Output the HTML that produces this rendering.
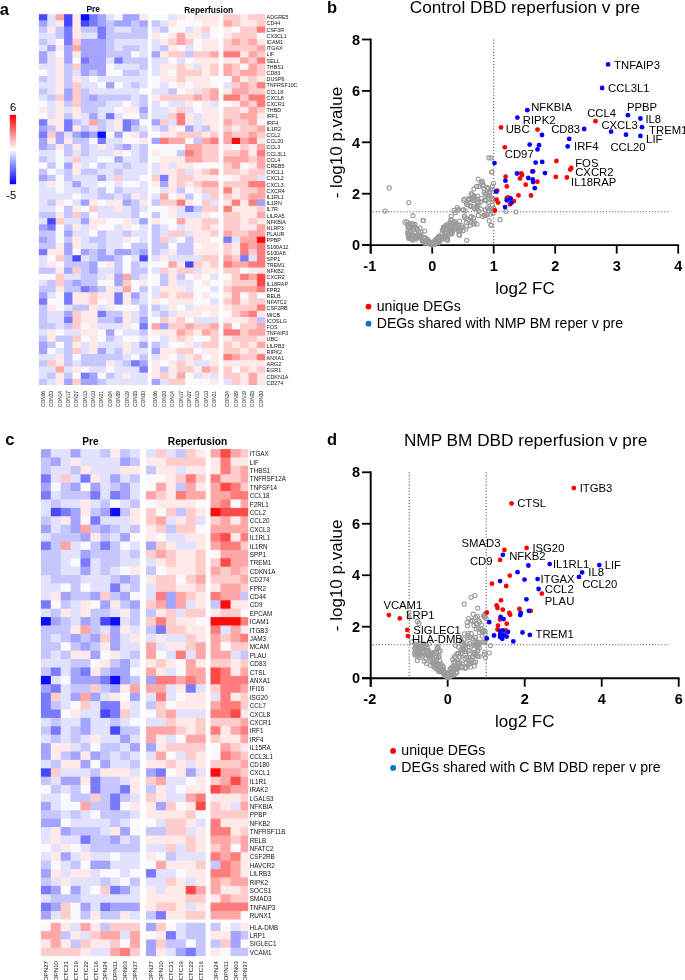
<!DOCTYPE html>
<html><head><meta charset="utf-8"><title>Figure</title>
<style>html,body{margin:0;padding:0;background:#fff;}svg{display:block;}text{font-family:"Liberation Sans",sans-serif;}</style>
</head><body>
<svg width="685" height="980" viewBox="0 0 685 980" style="will-change:transform">
<rect width="685" height="980" fill="#fff"/>
<rect x="38.90" y="14.20" width="8.98" height="6.78" fill="#4848ff"/>
<rect x="47.28" y="14.20" width="8.98" height="6.78" fill="#e2e2ff"/>
<rect x="55.66" y="14.20" width="8.98" height="6.78" fill="#ffa6a6"/>
<rect x="64.04" y="14.20" width="8.98" height="6.78" fill="#4848ff"/>
<rect x="72.42" y="14.20" width="8.98" height="6.78" fill="#ffe9e9"/>
<rect x="80.80" y="14.20" width="8.98" height="6.78" fill="#0c0cff"/>
<rect x="89.18" y="14.20" width="8.98" height="6.78" fill="#7a7aff"/>
<rect x="97.56" y="14.20" width="8.98" height="6.78" fill="#a4a4ff"/>
<rect x="105.94" y="14.20" width="8.98" height="6.78" fill="#e2e2ff"/>
<rect x="114.32" y="14.20" width="8.98" height="6.78" fill="#faf9fd"/>
<rect x="122.70" y="14.20" width="8.98" height="6.78" fill="#a4a4ff"/>
<rect x="131.08" y="14.20" width="8.98" height="6.78" fill="#a4a4ff"/>
<rect x="139.46" y="14.20" width="8.38" height="6.78" fill="#ffe9e9"/>
<rect x="38.90" y="20.38" width="8.98" height="6.78" fill="#a4a4ff"/>
<rect x="47.28" y="20.38" width="8.98" height="6.78" fill="#e2e2ff"/>
<rect x="55.66" y="20.38" width="8.98" height="6.78" fill="#ffe9e9"/>
<rect x="64.04" y="20.38" width="8.98" height="6.78" fill="#4848ff"/>
<rect x="72.42" y="20.38" width="8.98" height="6.78" fill="#ffe9e9"/>
<rect x="80.80" y="20.38" width="8.98" height="6.78" fill="#4848ff"/>
<rect x="89.18" y="20.38" width="8.98" height="6.78" fill="#7a7aff"/>
<rect x="97.56" y="20.38" width="8.98" height="6.78" fill="#a4a4ff"/>
<rect x="105.94" y="20.38" width="8.98" height="6.78" fill="#c6c6ff"/>
<rect x="114.32" y="20.38" width="8.98" height="6.78" fill="#a4a4ff"/>
<rect x="122.70" y="20.38" width="8.98" height="6.78" fill="#a4a4ff"/>
<rect x="131.08" y="20.38" width="8.98" height="6.78" fill="#c6c6ff"/>
<rect x="139.46" y="20.38" width="8.38" height="6.78" fill="#a4a4ff"/>
<rect x="38.90" y="26.56" width="8.98" height="6.78" fill="#c6c6ff"/>
<rect x="47.28" y="26.56" width="8.98" height="6.78" fill="#ffe9e9"/>
<rect x="55.66" y="26.56" width="8.98" height="6.78" fill="#c6c6ff"/>
<rect x="64.04" y="26.56" width="8.98" height="6.78" fill="#7a7aff"/>
<rect x="72.42" y="26.56" width="8.98" height="6.78" fill="#ffe9e9"/>
<rect x="80.80" y="26.56" width="8.98" height="6.78" fill="#c6c6ff"/>
<rect x="89.18" y="26.56" width="8.98" height="6.78" fill="#c6c6ff"/>
<rect x="97.56" y="26.56" width="8.98" height="6.78" fill="#7a7aff"/>
<rect x="105.94" y="26.56" width="8.98" height="6.78" fill="#c6c6ff"/>
<rect x="114.32" y="26.56" width="8.98" height="6.78" fill="#e2e2ff"/>
<rect x="122.70" y="26.56" width="8.98" height="6.78" fill="#e2e2ff"/>
<rect x="131.08" y="26.56" width="8.98" height="6.78" fill="#c6c6ff"/>
<rect x="139.46" y="26.56" width="8.38" height="6.78" fill="#c6c6ff"/>
<rect x="38.90" y="32.74" width="8.98" height="6.78" fill="#e2e2ff"/>
<rect x="47.28" y="32.74" width="8.98" height="6.78" fill="#e2e2ff"/>
<rect x="55.66" y="32.74" width="8.98" height="6.78" fill="#c6c6ff"/>
<rect x="64.04" y="32.74" width="8.98" height="6.78" fill="#7a7aff"/>
<rect x="72.42" y="32.74" width="8.98" height="6.78" fill="#ffe9e9"/>
<rect x="80.80" y="32.74" width="8.98" height="6.78" fill="#e2e2ff"/>
<rect x="89.18" y="32.74" width="8.98" height="6.78" fill="#e2e2ff"/>
<rect x="97.56" y="32.74" width="8.98" height="6.78" fill="#7a7aff"/>
<rect x="105.94" y="32.74" width="8.98" height="6.78" fill="#c6c6ff"/>
<rect x="114.32" y="32.74" width="8.98" height="6.78" fill="#c6c6ff"/>
<rect x="122.70" y="32.74" width="8.98" height="6.78" fill="#c6c6ff"/>
<rect x="131.08" y="32.74" width="8.98" height="6.78" fill="#c6c6ff"/>
<rect x="139.46" y="32.74" width="8.38" height="6.78" fill="#c6c6ff"/>
<rect x="38.90" y="38.92" width="8.98" height="6.78" fill="#c6c6ff"/>
<rect x="47.28" y="38.92" width="8.98" height="6.78" fill="#e2e2ff"/>
<rect x="55.66" y="38.92" width="8.98" height="6.78" fill="#faf9fd"/>
<rect x="64.04" y="38.92" width="8.98" height="6.78" fill="#7a7aff"/>
<rect x="72.42" y="38.92" width="8.98" height="6.78" fill="#ffcccc"/>
<rect x="80.80" y="38.92" width="8.98" height="6.78" fill="#a4a4ff"/>
<rect x="89.18" y="38.92" width="8.98" height="6.78" fill="#a4a4ff"/>
<rect x="97.56" y="38.92" width="8.98" height="6.78" fill="#a4a4ff"/>
<rect x="105.94" y="38.92" width="8.98" height="6.78" fill="#c6c6ff"/>
<rect x="114.32" y="38.92" width="8.98" height="6.78" fill="#e2e2ff"/>
<rect x="122.70" y="38.92" width="8.98" height="6.78" fill="#e2e2ff"/>
<rect x="131.08" y="38.92" width="8.98" height="6.78" fill="#e2e2ff"/>
<rect x="139.46" y="38.92" width="8.38" height="6.78" fill="#e2e2ff"/>
<rect x="38.90" y="45.10" width="8.98" height="6.78" fill="#e2e2ff"/>
<rect x="47.28" y="45.10" width="8.98" height="6.78" fill="#a4a4ff"/>
<rect x="55.66" y="45.10" width="8.98" height="6.78" fill="#ffe9e9"/>
<rect x="64.04" y="45.10" width="8.98" height="6.78" fill="#a4a4ff"/>
<rect x="72.42" y="45.10" width="8.98" height="6.78" fill="#ffa6a6"/>
<rect x="80.80" y="45.10" width="8.98" height="6.78" fill="#a4a4ff"/>
<rect x="89.18" y="45.10" width="8.98" height="6.78" fill="#a4a4ff"/>
<rect x="97.56" y="45.10" width="8.98" height="6.78" fill="#a4a4ff"/>
<rect x="105.94" y="45.10" width="8.98" height="6.78" fill="#c6c6ff"/>
<rect x="114.32" y="45.10" width="8.98" height="6.78" fill="#e2e2ff"/>
<rect x="122.70" y="45.10" width="8.98" height="6.78" fill="#c6c6ff"/>
<rect x="131.08" y="45.10" width="8.98" height="6.78" fill="#c6c6ff"/>
<rect x="139.46" y="45.10" width="8.38" height="6.78" fill="#e2e2ff"/>
<rect x="38.90" y="51.28" width="8.98" height="6.78" fill="#a4a4ff"/>
<rect x="47.28" y="51.28" width="8.98" height="6.78" fill="#e2e2ff"/>
<rect x="55.66" y="51.28" width="8.98" height="6.78" fill="#faf9fd"/>
<rect x="64.04" y="51.28" width="8.98" height="6.78" fill="#a4a4ff"/>
<rect x="72.42" y="51.28" width="8.98" height="6.78" fill="#ffe9e9"/>
<rect x="80.80" y="51.28" width="8.98" height="6.78" fill="#a4a4ff"/>
<rect x="89.18" y="51.28" width="8.98" height="6.78" fill="#a4a4ff"/>
<rect x="97.56" y="51.28" width="8.98" height="6.78" fill="#a4a4ff"/>
<rect x="105.94" y="51.28" width="8.98" height="6.78" fill="#c6c6ff"/>
<rect x="114.32" y="51.28" width="8.98" height="6.78" fill="#c6c6ff"/>
<rect x="122.70" y="51.28" width="8.98" height="6.78" fill="#c6c6ff"/>
<rect x="131.08" y="51.28" width="8.98" height="6.78" fill="#faf9fd"/>
<rect x="139.46" y="51.28" width="8.38" height="6.78" fill="#e2e2ff"/>
<rect x="38.90" y="57.46" width="8.98" height="6.78" fill="#a4a4ff"/>
<rect x="47.28" y="57.46" width="8.98" height="6.78" fill="#e2e2ff"/>
<rect x="55.66" y="57.46" width="8.98" height="6.78" fill="#ffe9e9"/>
<rect x="64.04" y="57.46" width="8.98" height="6.78" fill="#a4a4ff"/>
<rect x="72.42" y="57.46" width="8.98" height="6.78" fill="#faf9fd"/>
<rect x="80.80" y="57.46" width="8.98" height="6.78" fill="#7a7aff"/>
<rect x="89.18" y="57.46" width="8.98" height="6.78" fill="#a4a4ff"/>
<rect x="97.56" y="57.46" width="8.98" height="6.78" fill="#a4a4ff"/>
<rect x="105.94" y="57.46" width="8.98" height="6.78" fill="#e2e2ff"/>
<rect x="114.32" y="57.46" width="8.98" height="6.78" fill="#7a7aff"/>
<rect x="122.70" y="57.46" width="8.98" height="6.78" fill="#c6c6ff"/>
<rect x="131.08" y="57.46" width="8.98" height="6.78" fill="#c6c6ff"/>
<rect x="139.46" y="57.46" width="8.38" height="6.78" fill="#c6c6ff"/>
<rect x="38.90" y="63.64" width="8.98" height="6.78" fill="#e2e2ff"/>
<rect x="47.28" y="63.64" width="8.98" height="6.78" fill="#e2e2ff"/>
<rect x="55.66" y="63.64" width="8.98" height="6.78" fill="#ffe9e9"/>
<rect x="64.04" y="63.64" width="8.98" height="6.78" fill="#c6c6ff"/>
<rect x="72.42" y="63.64" width="8.98" height="6.78" fill="#ffcccc"/>
<rect x="80.80" y="63.64" width="8.98" height="6.78" fill="#a4a4ff"/>
<rect x="89.18" y="63.64" width="8.98" height="6.78" fill="#a4a4ff"/>
<rect x="97.56" y="63.64" width="8.98" height="6.78" fill="#a4a4ff"/>
<rect x="105.94" y="63.64" width="8.98" height="6.78" fill="#faf9fd"/>
<rect x="114.32" y="63.64" width="8.98" height="6.78" fill="#e2e2ff"/>
<rect x="122.70" y="63.64" width="8.98" height="6.78" fill="#e2e2ff"/>
<rect x="131.08" y="63.64" width="8.98" height="6.78" fill="#e2e2ff"/>
<rect x="139.46" y="63.64" width="8.38" height="6.78" fill="#c6c6ff"/>
<rect x="38.90" y="69.82" width="8.98" height="6.78" fill="#faf9fd"/>
<rect x="47.28" y="69.82" width="8.98" height="6.78" fill="#e2e2ff"/>
<rect x="55.66" y="69.82" width="8.98" height="6.78" fill="#ffe9e9"/>
<rect x="64.04" y="69.82" width="8.98" height="6.78" fill="#c6c6ff"/>
<rect x="72.42" y="69.82" width="8.98" height="6.78" fill="#e2e2ff"/>
<rect x="80.80" y="69.82" width="8.98" height="6.78" fill="#a4a4ff"/>
<rect x="89.18" y="69.82" width="8.98" height="6.78" fill="#c6c6ff"/>
<rect x="97.56" y="69.82" width="8.98" height="6.78" fill="#a4a4ff"/>
<rect x="105.94" y="69.82" width="8.98" height="6.78" fill="#faf9fd"/>
<rect x="114.32" y="69.82" width="8.98" height="6.78" fill="#faf9fd"/>
<rect x="122.70" y="69.82" width="8.98" height="6.78" fill="#c6c6ff"/>
<rect x="131.08" y="69.82" width="8.98" height="6.78" fill="#c6c6ff"/>
<rect x="139.46" y="69.82" width="8.38" height="6.78" fill="#e2e2ff"/>
<rect x="38.90" y="76" width="8.98" height="6.78" fill="#c6c6ff"/>
<rect x="47.28" y="76" width="8.98" height="6.78" fill="#e2e2ff"/>
<rect x="55.66" y="76" width="8.98" height="6.78" fill="#ffe9e9"/>
<rect x="64.04" y="76" width="8.98" height="6.78" fill="#c6c6ff"/>
<rect x="72.42" y="76" width="8.98" height="6.78" fill="#ffe9e9"/>
<rect x="80.80" y="76" width="8.98" height="6.78" fill="#e2e2ff"/>
<rect x="89.18" y="76" width="8.98" height="6.78" fill="#faf9fd"/>
<rect x="97.56" y="76" width="8.98" height="6.78" fill="#e2e2ff"/>
<rect x="105.94" y="76" width="8.98" height="6.78" fill="#e2e2ff"/>
<rect x="114.32" y="76" width="8.98" height="6.78" fill="#e2e2ff"/>
<rect x="122.70" y="76" width="8.98" height="6.78" fill="#e2e2ff"/>
<rect x="131.08" y="76" width="8.98" height="6.78" fill="#e2e2ff"/>
<rect x="139.46" y="76" width="8.38" height="6.78" fill="#e2e2ff"/>
<rect x="38.90" y="82.18" width="8.98" height="6.78" fill="#e2e2ff"/>
<rect x="47.28" y="82.18" width="8.98" height="6.78" fill="#e2e2ff"/>
<rect x="55.66" y="82.18" width="8.98" height="6.78" fill="#ffe9e9"/>
<rect x="64.04" y="82.18" width="8.98" height="6.78" fill="#c6c6ff"/>
<rect x="72.42" y="82.18" width="8.98" height="6.78" fill="#ffcccc"/>
<rect x="80.80" y="82.18" width="8.98" height="6.78" fill="#e2e2ff"/>
<rect x="89.18" y="82.18" width="8.98" height="6.78" fill="#e2e2ff"/>
<rect x="97.56" y="82.18" width="8.98" height="6.78" fill="#faf9fd"/>
<rect x="105.94" y="82.18" width="8.98" height="6.78" fill="#a4a4ff"/>
<rect x="114.32" y="82.18" width="8.98" height="6.78" fill="#faf9fd"/>
<rect x="122.70" y="82.18" width="8.98" height="6.78" fill="#e2e2ff"/>
<rect x="131.08" y="82.18" width="8.98" height="6.78" fill="#c6c6ff"/>
<rect x="139.46" y="82.18" width="8.38" height="6.78" fill="#e2e2ff"/>
<rect x="38.90" y="88.36" width="8.98" height="6.78" fill="#c6c6ff"/>
<rect x="47.28" y="88.36" width="8.98" height="6.78" fill="#e2e2ff"/>
<rect x="55.66" y="88.36" width="8.98" height="6.78" fill="#ffe9e9"/>
<rect x="64.04" y="88.36" width="8.98" height="6.78" fill="#a4a4ff"/>
<rect x="72.42" y="88.36" width="8.98" height="6.78" fill="#ffcccc"/>
<rect x="80.80" y="88.36" width="8.98" height="6.78" fill="#c6c6ff"/>
<rect x="89.18" y="88.36" width="8.98" height="6.78" fill="#e2e2ff"/>
<rect x="97.56" y="88.36" width="8.98" height="6.78" fill="#e2e2ff"/>
<rect x="105.94" y="88.36" width="8.98" height="6.78" fill="#e2e2ff"/>
<rect x="114.32" y="88.36" width="8.98" height="6.78" fill="#e2e2ff"/>
<rect x="122.70" y="88.36" width="8.98" height="6.78" fill="#e2e2ff"/>
<rect x="131.08" y="88.36" width="8.98" height="6.78" fill="#e2e2ff"/>
<rect x="139.46" y="88.36" width="8.38" height="6.78" fill="#faf9fd"/>
<rect x="38.90" y="94.54" width="8.98" height="6.78" fill="#e2e2ff"/>
<rect x="47.28" y="94.54" width="8.98" height="6.78" fill="#c6c6ff"/>
<rect x="55.66" y="94.54" width="8.98" height="6.78" fill="#ffcccc"/>
<rect x="64.04" y="94.54" width="8.98" height="6.78" fill="#a4a4ff"/>
<rect x="72.42" y="94.54" width="8.98" height="6.78" fill="#ffcccc"/>
<rect x="80.80" y="94.54" width="8.98" height="6.78" fill="#c6c6ff"/>
<rect x="89.18" y="94.54" width="8.98" height="6.78" fill="#a4a4ff"/>
<rect x="97.56" y="94.54" width="8.98" height="6.78" fill="#c6c6ff"/>
<rect x="105.94" y="94.54" width="8.98" height="6.78" fill="#c6c6ff"/>
<rect x="114.32" y="94.54" width="8.98" height="6.78" fill="#c6c6ff"/>
<rect x="122.70" y="94.54" width="8.98" height="6.78" fill="#c6c6ff"/>
<rect x="131.08" y="94.54" width="8.98" height="6.78" fill="#e2e2ff"/>
<rect x="139.46" y="94.54" width="8.38" height="6.78" fill="#c6c6ff"/>
<rect x="38.90" y="100.72" width="8.98" height="6.78" fill="#faf9fd"/>
<rect x="47.28" y="100.72" width="8.98" height="6.78" fill="#e2e2ff"/>
<rect x="55.66" y="100.72" width="8.98" height="6.78" fill="#ffe9e9"/>
<rect x="64.04" y="100.72" width="8.98" height="6.78" fill="#c6c6ff"/>
<rect x="72.42" y="100.72" width="8.98" height="6.78" fill="#ffcccc"/>
<rect x="80.80" y="100.72" width="8.98" height="6.78" fill="#c6c6ff"/>
<rect x="89.18" y="100.72" width="8.98" height="6.78" fill="#c6c6ff"/>
<rect x="97.56" y="100.72" width="8.98" height="6.78" fill="#c6c6ff"/>
<rect x="105.94" y="100.72" width="8.98" height="6.78" fill="#e2e2ff"/>
<rect x="114.32" y="100.72" width="8.98" height="6.78" fill="#e2e2ff"/>
<rect x="122.70" y="100.72" width="8.98" height="6.78" fill="#faf9fd"/>
<rect x="131.08" y="100.72" width="8.98" height="6.78" fill="#e2e2ff"/>
<rect x="139.46" y="100.72" width="8.38" height="6.78" fill="#c6c6ff"/>
<rect x="38.90" y="106.90" width="8.98" height="6.78" fill="#ffe9e9"/>
<rect x="47.28" y="106.90" width="8.98" height="6.78" fill="#e2e2ff"/>
<rect x="55.66" y="106.90" width="8.98" height="6.78" fill="#ffe9e9"/>
<rect x="64.04" y="106.90" width="8.98" height="6.78" fill="#e2e2ff"/>
<rect x="72.42" y="106.90" width="8.98" height="6.78" fill="#ffe9e9"/>
<rect x="80.80" y="106.90" width="8.98" height="6.78" fill="#c6c6ff"/>
<rect x="89.18" y="106.90" width="8.98" height="6.78" fill="#c6c6ff"/>
<rect x="97.56" y="106.90" width="8.98" height="6.78" fill="#e2e2ff"/>
<rect x="105.94" y="106.90" width="8.98" height="6.78" fill="#e2e2ff"/>
<rect x="114.32" y="106.90" width="8.98" height="6.78" fill="#faf9fd"/>
<rect x="122.70" y="106.90" width="8.98" height="6.78" fill="#ffe9e9"/>
<rect x="131.08" y="106.90" width="8.98" height="6.78" fill="#ffe9e9"/>
<rect x="139.46" y="106.90" width="8.38" height="6.78" fill="#a4a4ff"/>
<rect x="38.90" y="113.08" width="8.98" height="6.78" fill="#faf9fd"/>
<rect x="47.28" y="113.08" width="8.98" height="6.78" fill="#e2e2ff"/>
<rect x="55.66" y="113.08" width="8.98" height="6.78" fill="#ffe9e9"/>
<rect x="64.04" y="113.08" width="8.98" height="6.78" fill="#c6c6ff"/>
<rect x="72.42" y="113.08" width="8.98" height="6.78" fill="#ffe9e9"/>
<rect x="80.80" y="113.08" width="8.98" height="6.78" fill="#e2e2ff"/>
<rect x="89.18" y="113.08" width="8.98" height="6.78" fill="#a4a4ff"/>
<rect x="97.56" y="113.08" width="8.98" height="6.78" fill="#e2e2ff"/>
<rect x="105.94" y="113.08" width="8.98" height="6.78" fill="#7a7aff"/>
<rect x="114.32" y="113.08" width="8.98" height="6.78" fill="#e2e2ff"/>
<rect x="122.70" y="113.08" width="8.98" height="6.78" fill="#faf9fd"/>
<rect x="131.08" y="113.08" width="8.98" height="6.78" fill="#faf9fd"/>
<rect x="139.46" y="113.08" width="8.38" height="6.78" fill="#c6c6ff"/>
<rect x="38.90" y="119.26" width="8.98" height="6.78" fill="#7a7aff"/>
<rect x="47.28" y="119.26" width="8.98" height="6.78" fill="#ffe9e9"/>
<rect x="55.66" y="119.26" width="8.98" height="6.78" fill="#ffe9e9"/>
<rect x="64.04" y="119.26" width="8.98" height="6.78" fill="#7a7aff"/>
<rect x="72.42" y="119.26" width="8.98" height="6.78" fill="#c6c6ff"/>
<rect x="80.80" y="119.26" width="8.98" height="6.78" fill="#e2e2ff"/>
<rect x="89.18" y="119.26" width="8.98" height="6.78" fill="#ffa6a6"/>
<rect x="97.56" y="119.26" width="8.98" height="6.78" fill="#c6c6ff"/>
<rect x="105.94" y="119.26" width="8.98" height="6.78" fill="#e2e2ff"/>
<rect x="114.32" y="119.26" width="8.98" height="6.78" fill="#ffe9e9"/>
<rect x="122.70" y="119.26" width="8.98" height="6.78" fill="#7a7aff"/>
<rect x="131.08" y="119.26" width="8.98" height="6.78" fill="#a4a4ff"/>
<rect x="139.46" y="119.26" width="8.38" height="6.78" fill="#faf9fd"/>
<rect x="38.90" y="125.44" width="8.98" height="6.78" fill="#a4a4ff"/>
<rect x="47.28" y="125.44" width="8.98" height="6.78" fill="#c6c6ff"/>
<rect x="55.66" y="125.44" width="8.98" height="6.78" fill="#ffe9e9"/>
<rect x="64.04" y="125.44" width="8.98" height="6.78" fill="#7a7aff"/>
<rect x="72.42" y="125.44" width="8.98" height="6.78" fill="#ffe9e9"/>
<rect x="80.80" y="125.44" width="8.98" height="6.78" fill="#c6c6ff"/>
<rect x="89.18" y="125.44" width="8.98" height="6.78" fill="#e2e2ff"/>
<rect x="97.56" y="125.44" width="8.98" height="6.78" fill="#c6c6ff"/>
<rect x="105.94" y="125.44" width="8.98" height="6.78" fill="#e2e2ff"/>
<rect x="114.32" y="125.44" width="8.98" height="6.78" fill="#ffe9e9"/>
<rect x="122.70" y="125.44" width="8.98" height="6.78" fill="#7a7aff"/>
<rect x="131.08" y="125.44" width="8.98" height="6.78" fill="#c6c6ff"/>
<rect x="139.46" y="125.44" width="8.38" height="6.78" fill="#e2e2ff"/>
<rect x="38.90" y="131.62" width="8.98" height="6.78" fill="#7a7aff"/>
<rect x="47.28" y="131.62" width="8.98" height="6.78" fill="#ffcccc"/>
<rect x="55.66" y="131.62" width="8.98" height="6.78" fill="#a4a4ff"/>
<rect x="64.04" y="131.62" width="8.98" height="6.78" fill="#e2e2ff"/>
<rect x="72.42" y="131.62" width="8.98" height="6.78" fill="#a4a4ff"/>
<rect x="80.80" y="131.62" width="8.98" height="6.78" fill="#7a7aff"/>
<rect x="89.18" y="131.62" width="8.98" height="6.78" fill="#a4a4ff"/>
<rect x="97.56" y="131.62" width="8.98" height="6.78" fill="#0c0cff"/>
<rect x="105.94" y="131.62" width="8.98" height="6.78" fill="#faf9fd"/>
<rect x="114.32" y="131.62" width="8.98" height="6.78" fill="#a4a4ff"/>
<rect x="122.70" y="131.62" width="8.98" height="6.78" fill="#faf9fd"/>
<rect x="131.08" y="131.62" width="8.98" height="6.78" fill="#ffe9e9"/>
<rect x="139.46" y="131.62" width="8.38" height="6.78" fill="#c6c6ff"/>
<rect x="38.90" y="137.80" width="8.98" height="6.78" fill="#a4a4ff"/>
<rect x="47.28" y="137.80" width="8.98" height="6.78" fill="#ffe9e9"/>
<rect x="55.66" y="137.80" width="8.98" height="6.78" fill="#a4a4ff"/>
<rect x="64.04" y="137.80" width="8.98" height="6.78" fill="#ffe9e9"/>
<rect x="72.42" y="137.80" width="8.98" height="6.78" fill="#c6c6ff"/>
<rect x="80.80" y="137.80" width="8.98" height="6.78" fill="#c6c6ff"/>
<rect x="89.18" y="137.80" width="8.98" height="6.78" fill="#faf9fd"/>
<rect x="97.56" y="137.80" width="8.98" height="6.78" fill="#7a7aff"/>
<rect x="105.94" y="137.80" width="8.98" height="6.78" fill="#e2e2ff"/>
<rect x="114.32" y="137.80" width="8.98" height="6.78" fill="#e2e2ff"/>
<rect x="122.70" y="137.80" width="8.98" height="6.78" fill="#faf9fd"/>
<rect x="131.08" y="137.80" width="8.98" height="6.78" fill="#faf9fd"/>
<rect x="139.46" y="137.80" width="8.38" height="6.78" fill="#ffe9e9"/>
<rect x="38.90" y="143.98" width="8.98" height="6.78" fill="#a4a4ff"/>
<rect x="47.28" y="143.98" width="8.98" height="6.78" fill="#c6c6ff"/>
<rect x="55.66" y="143.98" width="8.98" height="6.78" fill="#ffe9e9"/>
<rect x="64.04" y="143.98" width="8.98" height="6.78" fill="#c6c6ff"/>
<rect x="72.42" y="143.98" width="8.98" height="6.78" fill="#ffe9e9"/>
<rect x="80.80" y="143.98" width="8.98" height="6.78" fill="#c6c6ff"/>
<rect x="89.18" y="143.98" width="8.98" height="6.78" fill="#e2e2ff"/>
<rect x="97.56" y="143.98" width="8.98" height="6.78" fill="#ffe9e9"/>
<rect x="105.94" y="143.98" width="8.98" height="6.78" fill="#e2e2ff"/>
<rect x="114.32" y="143.98" width="8.98" height="6.78" fill="#c6c6ff"/>
<rect x="122.70" y="143.98" width="8.98" height="6.78" fill="#a4a4ff"/>
<rect x="131.08" y="143.98" width="8.98" height="6.78" fill="#e2e2ff"/>
<rect x="139.46" y="143.98" width="8.38" height="6.78" fill="#c6c6ff"/>
<rect x="38.90" y="150.16" width="8.98" height="6.78" fill="#e2e2ff"/>
<rect x="47.28" y="150.16" width="8.98" height="6.78" fill="#e2e2ff"/>
<rect x="55.66" y="150.16" width="8.98" height="6.78" fill="#faf9fd"/>
<rect x="64.04" y="150.16" width="8.98" height="6.78" fill="#c6c6ff"/>
<rect x="72.42" y="150.16" width="8.98" height="6.78" fill="#e2e2ff"/>
<rect x="80.80" y="150.16" width="8.98" height="6.78" fill="#c6c6ff"/>
<rect x="89.18" y="150.16" width="8.98" height="6.78" fill="#e2e2ff"/>
<rect x="97.56" y="150.16" width="8.98" height="6.78" fill="#e2e2ff"/>
<rect x="105.94" y="150.16" width="8.98" height="6.78" fill="#e2e2ff"/>
<rect x="114.32" y="150.16" width="8.98" height="6.78" fill="#ffe9e9"/>
<rect x="122.70" y="150.16" width="8.98" height="6.78" fill="#faf9fd"/>
<rect x="131.08" y="150.16" width="8.98" height="6.78" fill="#e2e2ff"/>
<rect x="139.46" y="150.16" width="8.38" height="6.78" fill="#c6c6ff"/>
<rect x="38.90" y="156.34" width="8.98" height="6.78" fill="#c6c6ff"/>
<rect x="47.28" y="156.34" width="8.98" height="6.78" fill="#e2e2ff"/>
<rect x="55.66" y="156.34" width="8.98" height="6.78" fill="#faf9fd"/>
<rect x="64.04" y="156.34" width="8.98" height="6.78" fill="#e2e2ff"/>
<rect x="72.42" y="156.34" width="8.98" height="6.78" fill="#ffcccc"/>
<rect x="80.80" y="156.34" width="8.98" height="6.78" fill="#e2e2ff"/>
<rect x="89.18" y="156.34" width="8.98" height="6.78" fill="#e2e2ff"/>
<rect x="97.56" y="156.34" width="8.98" height="6.78" fill="#faf9fd"/>
<rect x="105.94" y="156.34" width="8.98" height="6.78" fill="#faf9fd"/>
<rect x="114.32" y="156.34" width="8.98" height="6.78" fill="#a4a4ff"/>
<rect x="122.70" y="156.34" width="8.98" height="6.78" fill="#e2e2ff"/>
<rect x="131.08" y="156.34" width="8.98" height="6.78" fill="#e2e2ff"/>
<rect x="139.46" y="156.34" width="8.38" height="6.78" fill="#c6c6ff"/>
<rect x="38.90" y="162.52" width="8.98" height="6.78" fill="#faf9fd"/>
<rect x="47.28" y="162.52" width="8.98" height="6.78" fill="#c6c6ff"/>
<rect x="55.66" y="162.52" width="8.98" height="6.78" fill="#faf9fd"/>
<rect x="64.04" y="162.52" width="8.98" height="6.78" fill="#a4a4ff"/>
<rect x="72.42" y="162.52" width="8.98" height="6.78" fill="#ffe9e9"/>
<rect x="80.80" y="162.52" width="8.98" height="6.78" fill="#e2e2ff"/>
<rect x="89.18" y="162.52" width="8.98" height="6.78" fill="#faf9fd"/>
<rect x="97.56" y="162.52" width="8.98" height="6.78" fill="#c6c6ff"/>
<rect x="105.94" y="162.52" width="8.98" height="6.78" fill="#e2e2ff"/>
<rect x="114.32" y="162.52" width="8.98" height="6.78" fill="#e2e2ff"/>
<rect x="122.70" y="162.52" width="8.98" height="6.78" fill="#c6c6ff"/>
<rect x="131.08" y="162.52" width="8.98" height="6.78" fill="#e2e2ff"/>
<rect x="139.46" y="162.52" width="8.38" height="6.78" fill="#e2e2ff"/>
<rect x="38.90" y="168.70" width="8.98" height="6.78" fill="#c6c6ff"/>
<rect x="47.28" y="168.70" width="8.98" height="6.78" fill="#faf9fd"/>
<rect x="55.66" y="168.70" width="8.98" height="6.78" fill="#e2e2ff"/>
<rect x="64.04" y="168.70" width="8.98" height="6.78" fill="#c6c6ff"/>
<rect x="72.42" y="168.70" width="8.98" height="6.78" fill="#ffe9e9"/>
<rect x="80.80" y="168.70" width="8.98" height="6.78" fill="#c6c6ff"/>
<rect x="89.18" y="168.70" width="8.98" height="6.78" fill="#c6c6ff"/>
<rect x="97.56" y="168.70" width="8.98" height="6.78" fill="#e2e2ff"/>
<rect x="105.94" y="168.70" width="8.98" height="6.78" fill="#e2e2ff"/>
<rect x="114.32" y="168.70" width="8.98" height="6.78" fill="#c6c6ff"/>
<rect x="122.70" y="168.70" width="8.98" height="6.78" fill="#e2e2ff"/>
<rect x="131.08" y="168.70" width="8.98" height="6.78" fill="#e2e2ff"/>
<rect x="139.46" y="168.70" width="8.38" height="6.78" fill="#e2e2ff"/>
<rect x="38.90" y="174.88" width="8.98" height="6.78" fill="#a4a4ff"/>
<rect x="47.28" y="174.88" width="8.98" height="6.78" fill="#c6c6ff"/>
<rect x="55.66" y="174.88" width="8.98" height="6.78" fill="#faf9fd"/>
<rect x="64.04" y="174.88" width="8.98" height="6.78" fill="#c6c6ff"/>
<rect x="72.42" y="174.88" width="8.98" height="6.78" fill="#e2e2ff"/>
<rect x="80.80" y="174.88" width="8.98" height="6.78" fill="#e2e2ff"/>
<rect x="89.18" y="174.88" width="8.98" height="6.78" fill="#e2e2ff"/>
<rect x="97.56" y="174.88" width="8.98" height="6.78" fill="#a4a4ff"/>
<rect x="105.94" y="174.88" width="8.98" height="6.78" fill="#e2e2ff"/>
<rect x="114.32" y="174.88" width="8.98" height="6.78" fill="#ffcccc"/>
<rect x="122.70" y="174.88" width="8.98" height="6.78" fill="#e2e2ff"/>
<rect x="131.08" y="174.88" width="8.98" height="6.78" fill="#e2e2ff"/>
<rect x="139.46" y="174.88" width="8.38" height="6.78" fill="#faf9fd"/>
<rect x="38.90" y="181.06" width="8.98" height="6.78" fill="#e2e2ff"/>
<rect x="47.28" y="181.06" width="8.98" height="6.78" fill="#ffe9e9"/>
<rect x="55.66" y="181.06" width="8.98" height="6.78" fill="#faf9fd"/>
<rect x="64.04" y="181.06" width="8.98" height="6.78" fill="#e2e2ff"/>
<rect x="72.42" y="181.06" width="8.98" height="6.78" fill="#a4a4ff"/>
<rect x="80.80" y="181.06" width="8.98" height="6.78" fill="#e2e2ff"/>
<rect x="89.18" y="181.06" width="8.98" height="6.78" fill="#e2e2ff"/>
<rect x="97.56" y="181.06" width="8.98" height="6.78" fill="#faf9fd"/>
<rect x="105.94" y="181.06" width="8.98" height="6.78" fill="#faf9fd"/>
<rect x="114.32" y="181.06" width="8.98" height="6.78" fill="#e2e2ff"/>
<rect x="122.70" y="181.06" width="8.98" height="6.78" fill="#faf9fd"/>
<rect x="131.08" y="181.06" width="8.98" height="6.78" fill="#faf9fd"/>
<rect x="139.46" y="181.06" width="8.38" height="6.78" fill="#e2e2ff"/>
<rect x="38.90" y="187.24" width="8.98" height="6.78" fill="#e2e2ff"/>
<rect x="47.28" y="187.24" width="8.98" height="6.78" fill="#e2e2ff"/>
<rect x="55.66" y="187.24" width="8.98" height="6.78" fill="#faf9fd"/>
<rect x="64.04" y="187.24" width="8.98" height="6.78" fill="#e2e2ff"/>
<rect x="72.42" y="187.24" width="8.98" height="6.78" fill="#e2e2ff"/>
<rect x="80.80" y="187.24" width="8.98" height="6.78" fill="#c6c6ff"/>
<rect x="89.18" y="187.24" width="8.98" height="6.78" fill="#e2e2ff"/>
<rect x="97.56" y="187.24" width="8.98" height="6.78" fill="#c6c6ff"/>
<rect x="105.94" y="187.24" width="8.98" height="6.78" fill="#faf9fd"/>
<rect x="114.32" y="187.24" width="8.98" height="6.78" fill="#c6c6ff"/>
<rect x="122.70" y="187.24" width="8.98" height="6.78" fill="#e2e2ff"/>
<rect x="131.08" y="187.24" width="8.98" height="6.78" fill="#e2e2ff"/>
<rect x="139.46" y="187.24" width="8.38" height="6.78" fill="#e2e2ff"/>
<rect x="38.90" y="193.42" width="8.98" height="6.78" fill="#e2e2ff"/>
<rect x="47.28" y="193.42" width="8.98" height="6.78" fill="#e2e2ff"/>
<rect x="55.66" y="193.42" width="8.98" height="6.78" fill="#e2e2ff"/>
<rect x="64.04" y="193.42" width="8.98" height="6.78" fill="#e2e2ff"/>
<rect x="72.42" y="193.42" width="8.98" height="6.78" fill="#faf9fd"/>
<rect x="80.80" y="193.42" width="8.98" height="6.78" fill="#e2e2ff"/>
<rect x="89.18" y="193.42" width="8.98" height="6.78" fill="#e2e2ff"/>
<rect x="97.56" y="193.42" width="8.98" height="6.78" fill="#c6c6ff"/>
<rect x="105.94" y="193.42" width="8.98" height="6.78" fill="#c6c6ff"/>
<rect x="114.32" y="193.42" width="8.98" height="6.78" fill="#e2e2ff"/>
<rect x="122.70" y="193.42" width="8.98" height="6.78" fill="#c6c6ff"/>
<rect x="131.08" y="193.42" width="8.98" height="6.78" fill="#ffe9e9"/>
<rect x="139.46" y="193.42" width="8.38" height="6.78" fill="#e2e2ff"/>
<rect x="38.90" y="199.60" width="8.98" height="6.78" fill="#e2e2ff"/>
<rect x="47.28" y="199.60" width="8.98" height="6.78" fill="#c6c6ff"/>
<rect x="55.66" y="199.60" width="8.98" height="6.78" fill="#ffe9e9"/>
<rect x="64.04" y="199.60" width="8.98" height="6.78" fill="#faf9fd"/>
<rect x="72.42" y="199.60" width="8.98" height="6.78" fill="#e2e2ff"/>
<rect x="80.80" y="199.60" width="8.98" height="6.78" fill="#a4a4ff"/>
<rect x="89.18" y="199.60" width="8.98" height="6.78" fill="#ffe9e9"/>
<rect x="97.56" y="199.60" width="8.98" height="6.78" fill="#faf9fd"/>
<rect x="105.94" y="199.60" width="8.98" height="6.78" fill="#ffe9e9"/>
<rect x="114.32" y="199.60" width="8.98" height="6.78" fill="#ffe9e9"/>
<rect x="122.70" y="199.60" width="8.98" height="6.78" fill="#a4a4ff"/>
<rect x="131.08" y="199.60" width="8.98" height="6.78" fill="#c6c6ff"/>
<rect x="139.46" y="199.60" width="8.38" height="6.78" fill="#ffe9e9"/>
<rect x="38.90" y="205.78" width="8.98" height="6.78" fill="#e2e2ff"/>
<rect x="47.28" y="205.78" width="8.98" height="6.78" fill="#e2e2ff"/>
<rect x="55.66" y="205.78" width="8.98" height="6.78" fill="#faf9fd"/>
<rect x="64.04" y="205.78" width="8.98" height="6.78" fill="#c6c6ff"/>
<rect x="72.42" y="205.78" width="8.98" height="6.78" fill="#ffe9e9"/>
<rect x="80.80" y="205.78" width="8.98" height="6.78" fill="#faf9fd"/>
<rect x="89.18" y="205.78" width="8.98" height="6.78" fill="#ffcccc"/>
<rect x="97.56" y="205.78" width="8.98" height="6.78" fill="#e2e2ff"/>
<rect x="105.94" y="205.78" width="8.98" height="6.78" fill="#e2e2ff"/>
<rect x="114.32" y="205.78" width="8.98" height="6.78" fill="#ffe9e9"/>
<rect x="122.70" y="205.78" width="8.98" height="6.78" fill="#e2e2ff"/>
<rect x="131.08" y="205.78" width="8.98" height="6.78" fill="#c6c6ff"/>
<rect x="139.46" y="205.78" width="8.38" height="6.78" fill="#e2e2ff"/>
<rect x="38.90" y="211.96" width="8.98" height="6.78" fill="#c6c6ff"/>
<rect x="47.28" y="211.96" width="8.98" height="6.78" fill="#c6c6ff"/>
<rect x="55.66" y="211.96" width="8.98" height="6.78" fill="#ffe9e9"/>
<rect x="64.04" y="211.96" width="8.98" height="6.78" fill="#c6c6ff"/>
<rect x="72.42" y="211.96" width="8.98" height="6.78" fill="#ffcccc"/>
<rect x="80.80" y="211.96" width="8.98" height="6.78" fill="#c6c6ff"/>
<rect x="89.18" y="211.96" width="8.98" height="6.78" fill="#faf9fd"/>
<rect x="97.56" y="211.96" width="8.98" height="6.78" fill="#e2e2ff"/>
<rect x="105.94" y="211.96" width="8.98" height="6.78" fill="#e2e2ff"/>
<rect x="114.32" y="211.96" width="8.98" height="6.78" fill="#e2e2ff"/>
<rect x="122.70" y="211.96" width="8.98" height="6.78" fill="#e2e2ff"/>
<rect x="131.08" y="211.96" width="8.98" height="6.78" fill="#c6c6ff"/>
<rect x="139.46" y="211.96" width="8.38" height="6.78" fill="#faf9fd"/>
<rect x="38.90" y="218.14" width="8.98" height="6.78" fill="#e2e2ff"/>
<rect x="47.28" y="218.14" width="8.98" height="6.78" fill="#4848ff"/>
<rect x="55.66" y="218.14" width="8.98" height="6.78" fill="#ffcccc"/>
<rect x="64.04" y="218.14" width="8.98" height="6.78" fill="#e2e2ff"/>
<rect x="72.42" y="218.14" width="8.98" height="6.78" fill="#e2e2ff"/>
<rect x="80.80" y="218.14" width="8.98" height="6.78" fill="#a4a4ff"/>
<rect x="89.18" y="218.14" width="8.98" height="6.78" fill="#ffe9e9"/>
<rect x="97.56" y="218.14" width="8.98" height="6.78" fill="#ffe9e9"/>
<rect x="105.94" y="218.14" width="8.98" height="6.78" fill="#faf9fd"/>
<rect x="114.32" y="218.14" width="8.98" height="6.78" fill="#faf9fd"/>
<rect x="122.70" y="218.14" width="8.98" height="6.78" fill="#ffe9e9"/>
<rect x="131.08" y="218.14" width="8.98" height="6.78" fill="#e2e2ff"/>
<rect x="139.46" y="218.14" width="8.38" height="6.78" fill="#a4a4ff"/>
<rect x="38.90" y="224.32" width="8.98" height="6.78" fill="#a4a4ff"/>
<rect x="47.28" y="224.32" width="8.98" height="6.78" fill="#7a7aff"/>
<rect x="55.66" y="224.32" width="8.98" height="6.78" fill="#faf9fd"/>
<rect x="64.04" y="224.32" width="8.98" height="6.78" fill="#c6c6ff"/>
<rect x="72.42" y="224.32" width="8.98" height="6.78" fill="#ffe9e9"/>
<rect x="80.80" y="224.32" width="8.98" height="6.78" fill="#e2e2ff"/>
<rect x="89.18" y="224.32" width="8.98" height="6.78" fill="#ffe9e9"/>
<rect x="97.56" y="224.32" width="8.98" height="6.78" fill="#faf9fd"/>
<rect x="105.94" y="224.32" width="8.98" height="6.78" fill="#faf9fd"/>
<rect x="114.32" y="224.32" width="8.98" height="6.78" fill="#e2e2ff"/>
<rect x="122.70" y="224.32" width="8.98" height="6.78" fill="#ffe9e9"/>
<rect x="131.08" y="224.32" width="8.98" height="6.78" fill="#faf9fd"/>
<rect x="139.46" y="224.32" width="8.38" height="6.78" fill="#e2e2ff"/>
<rect x="38.90" y="230.50" width="8.98" height="6.78" fill="#c6c6ff"/>
<rect x="47.28" y="230.50" width="8.98" height="6.78" fill="#c6c6ff"/>
<rect x="55.66" y="230.50" width="8.98" height="6.78" fill="#faf9fd"/>
<rect x="64.04" y="230.50" width="8.98" height="6.78" fill="#a4a4ff"/>
<rect x="72.42" y="230.50" width="8.98" height="6.78" fill="#e2e2ff"/>
<rect x="80.80" y="230.50" width="8.98" height="6.78" fill="#e2e2ff"/>
<rect x="89.18" y="230.50" width="8.98" height="6.78" fill="#faf9fd"/>
<rect x="97.56" y="230.50" width="8.98" height="6.78" fill="#c6c6ff"/>
<rect x="105.94" y="230.50" width="8.98" height="6.78" fill="#e2e2ff"/>
<rect x="114.32" y="230.50" width="8.98" height="6.78" fill="#e2e2ff"/>
<rect x="122.70" y="230.50" width="8.98" height="6.78" fill="#c6c6ff"/>
<rect x="131.08" y="230.50" width="8.98" height="6.78" fill="#e2e2ff"/>
<rect x="139.46" y="230.50" width="8.38" height="6.78" fill="#e2e2ff"/>
<rect x="38.90" y="236.68" width="8.98" height="6.78" fill="#a4a4ff"/>
<rect x="47.28" y="236.68" width="8.98" height="6.78" fill="#c6c6ff"/>
<rect x="55.66" y="236.68" width="8.98" height="6.78" fill="#faf9fd"/>
<rect x="64.04" y="236.68" width="8.98" height="6.78" fill="#c6c6ff"/>
<rect x="72.42" y="236.68" width="8.98" height="6.78" fill="#ffe9e9"/>
<rect x="80.80" y="236.68" width="8.98" height="6.78" fill="#e2e2ff"/>
<rect x="89.18" y="236.68" width="8.98" height="6.78" fill="#c6c6ff"/>
<rect x="97.56" y="236.68" width="8.98" height="6.78" fill="#c6c6ff"/>
<rect x="105.94" y="236.68" width="8.98" height="6.78" fill="#e2e2ff"/>
<rect x="114.32" y="236.68" width="8.98" height="6.78" fill="#e2e2ff"/>
<rect x="122.70" y="236.68" width="8.98" height="6.78" fill="#ffe9e9"/>
<rect x="131.08" y="236.68" width="8.98" height="6.78" fill="#faf9fd"/>
<rect x="139.46" y="236.68" width="8.38" height="6.78" fill="#e2e2ff"/>
<rect x="38.90" y="242.86" width="8.98" height="6.78" fill="#c6c6ff"/>
<rect x="47.28" y="242.86" width="8.98" height="6.78" fill="#c6c6ff"/>
<rect x="55.66" y="242.86" width="8.98" height="6.78" fill="#ffe9e9"/>
<rect x="64.04" y="242.86" width="8.98" height="6.78" fill="#a4a4ff"/>
<rect x="72.42" y="242.86" width="8.98" height="6.78" fill="#ffe9e9"/>
<rect x="80.80" y="242.86" width="8.98" height="6.78" fill="#e2e2ff"/>
<rect x="89.18" y="242.86" width="8.98" height="6.78" fill="#e2e2ff"/>
<rect x="97.56" y="242.86" width="8.98" height="6.78" fill="#c6c6ff"/>
<rect x="105.94" y="242.86" width="8.98" height="6.78" fill="#e2e2ff"/>
<rect x="114.32" y="242.86" width="8.98" height="6.78" fill="#e2e2ff"/>
<rect x="122.70" y="242.86" width="8.98" height="6.78" fill="#faf9fd"/>
<rect x="131.08" y="242.86" width="8.98" height="6.78" fill="#c6c6ff"/>
<rect x="139.46" y="242.86" width="8.38" height="6.78" fill="#c6c6ff"/>
<rect x="38.90" y="249.04" width="8.98" height="6.78" fill="#7a7aff"/>
<rect x="47.28" y="249.04" width="8.98" height="6.78" fill="#ffe9e9"/>
<rect x="55.66" y="249.04" width="8.98" height="6.78" fill="#ffe9e9"/>
<rect x="64.04" y="249.04" width="8.98" height="6.78" fill="#a4a4ff"/>
<rect x="72.42" y="249.04" width="8.98" height="6.78" fill="#faf9fd"/>
<rect x="80.80" y="249.04" width="8.98" height="6.78" fill="#a4a4ff"/>
<rect x="89.18" y="249.04" width="8.98" height="6.78" fill="#c6c6ff"/>
<rect x="97.56" y="249.04" width="8.98" height="6.78" fill="#a4a4ff"/>
<rect x="105.94" y="249.04" width="8.98" height="6.78" fill="#e2e2ff"/>
<rect x="114.32" y="249.04" width="8.98" height="6.78" fill="#a4a4ff"/>
<rect x="122.70" y="249.04" width="8.98" height="6.78" fill="#a4a4ff"/>
<rect x="131.08" y="249.04" width="8.98" height="6.78" fill="#c6c6ff"/>
<rect x="139.46" y="249.04" width="8.38" height="6.78" fill="#a4a4ff"/>
<rect x="38.90" y="255.22" width="8.98" height="6.78" fill="#e2e2ff"/>
<rect x="47.28" y="255.22" width="8.98" height="6.78" fill="#faf9fd"/>
<rect x="55.66" y="255.22" width="8.98" height="6.78" fill="#ffcccc"/>
<rect x="64.04" y="255.22" width="8.98" height="6.78" fill="#c6c6ff"/>
<rect x="72.42" y="255.22" width="8.98" height="6.78" fill="#4848ff"/>
<rect x="80.80" y="255.22" width="8.98" height="6.78" fill="#e2e2ff"/>
<rect x="89.18" y="255.22" width="8.98" height="6.78" fill="#c6c6ff"/>
<rect x="97.56" y="255.22" width="8.98" height="6.78" fill="#a4a4ff"/>
<rect x="105.94" y="255.22" width="8.98" height="6.78" fill="#a4a4ff"/>
<rect x="114.32" y="255.22" width="8.98" height="6.78" fill="#c6c6ff"/>
<rect x="122.70" y="255.22" width="8.98" height="6.78" fill="#faf9fd"/>
<rect x="131.08" y="255.22" width="8.98" height="6.78" fill="#e2e2ff"/>
<rect x="139.46" y="255.22" width="8.38" height="6.78" fill="#4848ff"/>
<rect x="38.90" y="261.40" width="8.98" height="6.78" fill="#e2e2ff"/>
<rect x="47.28" y="261.40" width="8.98" height="6.78" fill="#ffe9e9"/>
<rect x="55.66" y="261.40" width="8.98" height="6.78" fill="#faf9fd"/>
<rect x="64.04" y="261.40" width="8.98" height="6.78" fill="#c6c6ff"/>
<rect x="72.42" y="261.40" width="8.98" height="6.78" fill="#c6c6ff"/>
<rect x="80.80" y="261.40" width="8.98" height="6.78" fill="#c6c6ff"/>
<rect x="89.18" y="261.40" width="8.98" height="6.78" fill="#a4a4ff"/>
<rect x="97.56" y="261.40" width="8.98" height="6.78" fill="#faf9fd"/>
<rect x="105.94" y="261.40" width="8.98" height="6.78" fill="#ffe9e9"/>
<rect x="114.32" y="261.40" width="8.98" height="6.78" fill="#c6c6ff"/>
<rect x="122.70" y="261.40" width="8.98" height="6.78" fill="#faf9fd"/>
<rect x="131.08" y="261.40" width="8.98" height="6.78" fill="#c6c6ff"/>
<rect x="139.46" y="261.40" width="8.38" height="6.78" fill="#e2e2ff"/>
<rect x="38.90" y="267.58" width="8.98" height="6.78" fill="#c6c6ff"/>
<rect x="47.28" y="267.58" width="8.98" height="6.78" fill="#c6c6ff"/>
<rect x="55.66" y="267.58" width="8.98" height="6.78" fill="#ffe9e9"/>
<rect x="64.04" y="267.58" width="8.98" height="6.78" fill="#a4a4ff"/>
<rect x="72.42" y="267.58" width="8.98" height="6.78" fill="#ffcccc"/>
<rect x="80.80" y="267.58" width="8.98" height="6.78" fill="#c6c6ff"/>
<rect x="89.18" y="267.58" width="8.98" height="6.78" fill="#a4a4ff"/>
<rect x="97.56" y="267.58" width="8.98" height="6.78" fill="#e2e2ff"/>
<rect x="105.94" y="267.58" width="8.98" height="6.78" fill="#e2e2ff"/>
<rect x="114.32" y="267.58" width="8.98" height="6.78" fill="#c6c6ff"/>
<rect x="122.70" y="267.58" width="8.98" height="6.78" fill="#faf9fd"/>
<rect x="131.08" y="267.58" width="8.98" height="6.78" fill="#c6c6ff"/>
<rect x="139.46" y="267.58" width="8.38" height="6.78" fill="#c6c6ff"/>
<rect x="38.90" y="273.76" width="8.98" height="6.78" fill="#faf9fd"/>
<rect x="47.28" y="273.76" width="8.98" height="6.78" fill="#faf9fd"/>
<rect x="55.66" y="273.76" width="8.98" height="6.78" fill="#ffcccc"/>
<rect x="64.04" y="273.76" width="8.98" height="6.78" fill="#e2e2ff"/>
<rect x="72.42" y="273.76" width="8.98" height="6.78" fill="#e2e2ff"/>
<rect x="80.80" y="273.76" width="8.98" height="6.78" fill="#c6c6ff"/>
<rect x="89.18" y="273.76" width="8.98" height="6.78" fill="#c6c6ff"/>
<rect x="97.56" y="273.76" width="8.98" height="6.78" fill="#e2e2ff"/>
<rect x="105.94" y="273.76" width="8.98" height="6.78" fill="#ffe9e9"/>
<rect x="114.32" y="273.76" width="8.98" height="6.78" fill="#a4a4ff"/>
<rect x="122.70" y="273.76" width="8.98" height="6.78" fill="#ffa6a6"/>
<rect x="131.08" y="273.76" width="8.98" height="6.78" fill="#c6c6ff"/>
<rect x="139.46" y="273.76" width="8.38" height="6.78" fill="#e2e2ff"/>
<rect x="38.90" y="279.94" width="8.98" height="6.78" fill="#e2e2ff"/>
<rect x="47.28" y="279.94" width="8.98" height="6.78" fill="#c6c6ff"/>
<rect x="55.66" y="279.94" width="8.98" height="6.78" fill="#ffcccc"/>
<rect x="64.04" y="279.94" width="8.98" height="6.78" fill="#c6c6ff"/>
<rect x="72.42" y="279.94" width="8.98" height="6.78" fill="#a4a4ff"/>
<rect x="80.80" y="279.94" width="8.98" height="6.78" fill="#c6c6ff"/>
<rect x="89.18" y="279.94" width="8.98" height="6.78" fill="#c6c6ff"/>
<rect x="97.56" y="279.94" width="8.98" height="6.78" fill="#faf9fd"/>
<rect x="105.94" y="279.94" width="8.98" height="6.78" fill="#faf9fd"/>
<rect x="114.32" y="279.94" width="8.98" height="6.78" fill="#a4a4ff"/>
<rect x="122.70" y="279.94" width="8.98" height="6.78" fill="#ffcccc"/>
<rect x="131.08" y="279.94" width="8.98" height="6.78" fill="#faf9fd"/>
<rect x="139.46" y="279.94" width="8.38" height="6.78" fill="#ffe9e9"/>
<rect x="38.90" y="286.12" width="8.98" height="6.78" fill="#c6c6ff"/>
<rect x="47.28" y="286.12" width="8.98" height="6.78" fill="#c6c6ff"/>
<rect x="55.66" y="286.12" width="8.98" height="6.78" fill="#ffe9e9"/>
<rect x="64.04" y="286.12" width="8.98" height="6.78" fill="#c6c6ff"/>
<rect x="72.42" y="286.12" width="8.98" height="6.78" fill="#c6c6ff"/>
<rect x="80.80" y="286.12" width="8.98" height="6.78" fill="#7a7aff"/>
<rect x="89.18" y="286.12" width="8.98" height="6.78" fill="#a4a4ff"/>
<rect x="97.56" y="286.12" width="8.98" height="6.78" fill="#c6c6ff"/>
<rect x="105.94" y="286.12" width="8.98" height="6.78" fill="#ffe9e9"/>
<rect x="114.32" y="286.12" width="8.98" height="6.78" fill="#e2e2ff"/>
<rect x="122.70" y="286.12" width="8.98" height="6.78" fill="#ffa6a6"/>
<rect x="131.08" y="286.12" width="8.98" height="6.78" fill="#faf9fd"/>
<rect x="139.46" y="286.12" width="8.38" height="6.78" fill="#c6c6ff"/>
<rect x="38.90" y="292.30" width="8.98" height="6.78" fill="#a4a4ff"/>
<rect x="47.28" y="292.30" width="8.98" height="6.78" fill="#e2e2ff"/>
<rect x="55.66" y="292.30" width="8.98" height="6.78" fill="#faf9fd"/>
<rect x="64.04" y="292.30" width="8.98" height="6.78" fill="#7a7aff"/>
<rect x="72.42" y="292.30" width="8.98" height="6.78" fill="#ffe9e9"/>
<rect x="80.80" y="292.30" width="8.98" height="6.78" fill="#ffe9e9"/>
<rect x="89.18" y="292.30" width="8.98" height="6.78" fill="#ffcccc"/>
<rect x="97.56" y="292.30" width="8.98" height="6.78" fill="#ffe9e9"/>
<rect x="105.94" y="292.30" width="8.98" height="6.78" fill="#ffe9e9"/>
<rect x="114.32" y="292.30" width="8.98" height="6.78" fill="#7a7aff"/>
<rect x="122.70" y="292.30" width="8.98" height="6.78" fill="#ffe9e9"/>
<rect x="131.08" y="292.30" width="8.98" height="6.78" fill="#a4a4ff"/>
<rect x="139.46" y="292.30" width="8.38" height="6.78" fill="#e2e2ff"/>
<rect x="38.90" y="298.48" width="8.98" height="6.78" fill="#7a7aff"/>
<rect x="47.28" y="298.48" width="8.98" height="6.78" fill="#faf9fd"/>
<rect x="55.66" y="298.48" width="8.98" height="6.78" fill="#faf9fd"/>
<rect x="64.04" y="298.48" width="8.98" height="6.78" fill="#7a7aff"/>
<rect x="72.42" y="298.48" width="8.98" height="6.78" fill="#ffe9e9"/>
<rect x="80.80" y="298.48" width="8.98" height="6.78" fill="#ffe9e9"/>
<rect x="89.18" y="298.48" width="8.98" height="6.78" fill="#ffcccc"/>
<rect x="97.56" y="298.48" width="8.98" height="6.78" fill="#faf9fd"/>
<rect x="105.94" y="298.48" width="8.98" height="6.78" fill="#ffe9e9"/>
<rect x="114.32" y="298.48" width="8.98" height="6.78" fill="#7a7aff"/>
<rect x="122.70" y="298.48" width="8.98" height="6.78" fill="#ffe9e9"/>
<rect x="131.08" y="298.48" width="8.98" height="6.78" fill="#c6c6ff"/>
<rect x="139.46" y="298.48" width="8.38" height="6.78" fill="#e2e2ff"/>
<rect x="38.90" y="304.66" width="8.98" height="6.78" fill="#c6c6ff"/>
<rect x="47.28" y="304.66" width="8.98" height="6.78" fill="#ffe9e9"/>
<rect x="55.66" y="304.66" width="8.98" height="6.78" fill="#faf9fd"/>
<rect x="64.04" y="304.66" width="8.98" height="6.78" fill="#e2e2ff"/>
<rect x="72.42" y="304.66" width="8.98" height="6.78" fill="#c6c6ff"/>
<rect x="80.80" y="304.66" width="8.98" height="6.78" fill="#c6c6ff"/>
<rect x="89.18" y="304.66" width="8.98" height="6.78" fill="#ffe9e9"/>
<rect x="97.56" y="304.66" width="8.98" height="6.78" fill="#e2e2ff"/>
<rect x="105.94" y="304.66" width="8.98" height="6.78" fill="#ffe9e9"/>
<rect x="114.32" y="304.66" width="8.98" height="6.78" fill="#faf9fd"/>
<rect x="122.70" y="304.66" width="8.98" height="6.78" fill="#faf9fd"/>
<rect x="131.08" y="304.66" width="8.98" height="6.78" fill="#faf9fd"/>
<rect x="139.46" y="304.66" width="8.38" height="6.78" fill="#c6c6ff"/>
<rect x="38.90" y="310.84" width="8.98" height="6.78" fill="#c6c6ff"/>
<rect x="47.28" y="310.84" width="8.98" height="6.78" fill="#e2e2ff"/>
<rect x="55.66" y="310.84" width="8.98" height="6.78" fill="#e2e2ff"/>
<rect x="64.04" y="310.84" width="8.98" height="6.78" fill="#a4a4ff"/>
<rect x="72.42" y="310.84" width="8.98" height="6.78" fill="#ffcccc"/>
<rect x="80.80" y="310.84" width="8.98" height="6.78" fill="#ffe9e9"/>
<rect x="89.18" y="310.84" width="8.98" height="6.78" fill="#ffe9e9"/>
<rect x="97.56" y="310.84" width="8.98" height="6.78" fill="#7a7aff"/>
<rect x="105.94" y="310.84" width="8.98" height="6.78" fill="#c6c6ff"/>
<rect x="114.32" y="310.84" width="8.98" height="6.78" fill="#c6c6ff"/>
<rect x="122.70" y="310.84" width="8.98" height="6.78" fill="#ffe9e9"/>
<rect x="131.08" y="310.84" width="8.98" height="6.78" fill="#e2e2ff"/>
<rect x="139.46" y="310.84" width="8.38" height="6.78" fill="#c6c6ff"/>
<rect x="38.90" y="317.02" width="8.98" height="6.78" fill="#c6c6ff"/>
<rect x="47.28" y="317.02" width="8.98" height="6.78" fill="#e2e2ff"/>
<rect x="55.66" y="317.02" width="8.98" height="6.78" fill="#e2e2ff"/>
<rect x="64.04" y="317.02" width="8.98" height="6.78" fill="#7a7aff"/>
<rect x="72.42" y="317.02" width="8.98" height="6.78" fill="#ffcccc"/>
<rect x="80.80" y="317.02" width="8.98" height="6.78" fill="#ffe9e9"/>
<rect x="89.18" y="317.02" width="8.98" height="6.78" fill="#ffe9e9"/>
<rect x="97.56" y="317.02" width="8.98" height="6.78" fill="#c6c6ff"/>
<rect x="105.94" y="317.02" width="8.98" height="6.78" fill="#c6c6ff"/>
<rect x="114.32" y="317.02" width="8.98" height="6.78" fill="#a4a4ff"/>
<rect x="122.70" y="317.02" width="8.98" height="6.78" fill="#ffe9e9"/>
<rect x="131.08" y="317.02" width="8.98" height="6.78" fill="#e2e2ff"/>
<rect x="139.46" y="317.02" width="8.38" height="6.78" fill="#a4a4ff"/>
<rect x="38.90" y="323.20" width="8.98" height="6.78" fill="#c6c6ff"/>
<rect x="47.28" y="323.20" width="8.98" height="6.78" fill="#c6c6ff"/>
<rect x="55.66" y="323.20" width="8.98" height="6.78" fill="#e2e2ff"/>
<rect x="64.04" y="323.20" width="8.98" height="6.78" fill="#c6c6ff"/>
<rect x="72.42" y="323.20" width="8.98" height="6.78" fill="#ffcccc"/>
<rect x="80.80" y="323.20" width="8.98" height="6.78" fill="#faf9fd"/>
<rect x="89.18" y="323.20" width="8.98" height="6.78" fill="#ffe9e9"/>
<rect x="97.56" y="323.20" width="8.98" height="6.78" fill="#e2e2ff"/>
<rect x="105.94" y="323.20" width="8.98" height="6.78" fill="#e2e2ff"/>
<rect x="114.32" y="323.20" width="8.98" height="6.78" fill="#e2e2ff"/>
<rect x="122.70" y="323.20" width="8.98" height="6.78" fill="#ffe9e9"/>
<rect x="131.08" y="323.20" width="8.98" height="6.78" fill="#faf9fd"/>
<rect x="139.46" y="323.20" width="8.38" height="6.78" fill="#7a7aff"/>
<rect x="38.90" y="329.38" width="8.98" height="6.78" fill="#e2e2ff"/>
<rect x="47.28" y="329.38" width="8.98" height="6.78" fill="#ffe9e9"/>
<rect x="55.66" y="329.38" width="8.98" height="6.78" fill="#faf9fd"/>
<rect x="64.04" y="329.38" width="8.98" height="6.78" fill="#e2e2ff"/>
<rect x="72.42" y="329.38" width="8.98" height="6.78" fill="#e2e2ff"/>
<rect x="80.80" y="329.38" width="8.98" height="6.78" fill="#ffe9e9"/>
<rect x="89.18" y="329.38" width="8.98" height="6.78" fill="#ffe9e9"/>
<rect x="97.56" y="329.38" width="8.98" height="6.78" fill="#faf9fd"/>
<rect x="105.94" y="329.38" width="8.98" height="6.78" fill="#a4a4ff"/>
<rect x="114.32" y="329.38" width="8.98" height="6.78" fill="#faf9fd"/>
<rect x="122.70" y="329.38" width="8.98" height="6.78" fill="#e2e2ff"/>
<rect x="131.08" y="329.38" width="8.98" height="6.78" fill="#e2e2ff"/>
<rect x="139.46" y="329.38" width="8.38" height="6.78" fill="#c6c6ff"/>
<rect x="38.90" y="335.56" width="8.98" height="6.78" fill="#c6c6ff"/>
<rect x="47.28" y="335.56" width="8.98" height="6.78" fill="#ffe9e9"/>
<rect x="55.66" y="335.56" width="8.98" height="6.78" fill="#c6c6ff"/>
<rect x="64.04" y="335.56" width="8.98" height="6.78" fill="#c6c6ff"/>
<rect x="72.42" y="335.56" width="8.98" height="6.78" fill="#ffcccc"/>
<rect x="80.80" y="335.56" width="8.98" height="6.78" fill="#faf9fd"/>
<rect x="89.18" y="335.56" width="8.98" height="6.78" fill="#ffe9e9"/>
<rect x="97.56" y="335.56" width="8.98" height="6.78" fill="#faf9fd"/>
<rect x="105.94" y="335.56" width="8.98" height="6.78" fill="#c6c6ff"/>
<rect x="114.32" y="335.56" width="8.98" height="6.78" fill="#e2e2ff"/>
<rect x="122.70" y="335.56" width="8.98" height="6.78" fill="#faf9fd"/>
<rect x="131.08" y="335.56" width="8.98" height="6.78" fill="#faf9fd"/>
<rect x="139.46" y="335.56" width="8.38" height="6.78" fill="#e2e2ff"/>
<rect x="38.90" y="341.74" width="8.98" height="6.78" fill="#a4a4ff"/>
<rect x="47.28" y="341.74" width="8.98" height="6.78" fill="#c6c6ff"/>
<rect x="55.66" y="341.74" width="8.98" height="6.78" fill="#faf9fd"/>
<rect x="64.04" y="341.74" width="8.98" height="6.78" fill="#c6c6ff"/>
<rect x="72.42" y="341.74" width="8.98" height="6.78" fill="#ffe9e9"/>
<rect x="80.80" y="341.74" width="8.98" height="6.78" fill="#e2e2ff"/>
<rect x="89.18" y="341.74" width="8.98" height="6.78" fill="#ffe9e9"/>
<rect x="97.56" y="341.74" width="8.98" height="6.78" fill="#e2e2ff"/>
<rect x="105.94" y="341.74" width="8.98" height="6.78" fill="#e2e2ff"/>
<rect x="114.32" y="341.74" width="8.98" height="6.78" fill="#e2e2ff"/>
<rect x="122.70" y="341.74" width="8.98" height="6.78" fill="#ffe9e9"/>
<rect x="131.08" y="341.74" width="8.98" height="6.78" fill="#e2e2ff"/>
<rect x="139.46" y="341.74" width="8.38" height="6.78" fill="#a4a4ff"/>
<rect x="38.90" y="347.92" width="8.98" height="6.78" fill="#a4a4ff"/>
<rect x="47.28" y="347.92" width="8.98" height="6.78" fill="#faf9fd"/>
<rect x="55.66" y="347.92" width="8.98" height="6.78" fill="#e2e2ff"/>
<rect x="64.04" y="347.92" width="8.98" height="6.78" fill="#c6c6ff"/>
<rect x="72.42" y="347.92" width="8.98" height="6.78" fill="#ffcccc"/>
<rect x="80.80" y="347.92" width="8.98" height="6.78" fill="#e2e2ff"/>
<rect x="89.18" y="347.92" width="8.98" height="6.78" fill="#ffe9e9"/>
<rect x="97.56" y="347.92" width="8.98" height="6.78" fill="#a4a4ff"/>
<rect x="105.94" y="347.92" width="8.98" height="6.78" fill="#e2e2ff"/>
<rect x="114.32" y="347.92" width="8.98" height="6.78" fill="#c6c6ff"/>
<rect x="122.70" y="347.92" width="8.98" height="6.78" fill="#ffe9e9"/>
<rect x="131.08" y="347.92" width="8.98" height="6.78" fill="#e2e2ff"/>
<rect x="139.46" y="347.92" width="8.38" height="6.78" fill="#e2e2ff"/>
<rect x="38.90" y="354.10" width="8.98" height="6.78" fill="#e2e2ff"/>
<rect x="47.28" y="354.10" width="8.98" height="6.78" fill="#e2e2ff"/>
<rect x="55.66" y="354.10" width="8.98" height="6.78" fill="#ffe9e9"/>
<rect x="64.04" y="354.10" width="8.98" height="6.78" fill="#c6c6ff"/>
<rect x="72.42" y="354.10" width="8.98" height="6.78" fill="#faf9fd"/>
<rect x="80.80" y="354.10" width="8.98" height="6.78" fill="#c6c6ff"/>
<rect x="89.18" y="354.10" width="8.98" height="6.78" fill="#c6c6ff"/>
<rect x="97.56" y="354.10" width="8.98" height="6.78" fill="#c6c6ff"/>
<rect x="105.94" y="354.10" width="8.98" height="6.78" fill="#c6c6ff"/>
<rect x="114.32" y="354.10" width="8.98" height="6.78" fill="#c6c6ff"/>
<rect x="122.70" y="354.10" width="8.98" height="6.78" fill="#e2e2ff"/>
<rect x="131.08" y="354.10" width="8.98" height="6.78" fill="#faf9fd"/>
<rect x="139.46" y="354.10" width="8.38" height="6.78" fill="#c6c6ff"/>
<rect x="38.90" y="360.28" width="8.98" height="6.78" fill="#c6c6ff"/>
<rect x="47.28" y="360.28" width="8.98" height="6.78" fill="#ffcccc"/>
<rect x="55.66" y="360.28" width="8.98" height="6.78" fill="#ffe9e9"/>
<rect x="64.04" y="360.28" width="8.98" height="6.78" fill="#c6c6ff"/>
<rect x="72.42" y="360.28" width="8.98" height="6.78" fill="#e2e2ff"/>
<rect x="80.80" y="360.28" width="8.98" height="6.78" fill="#c6c6ff"/>
<rect x="89.18" y="360.28" width="8.98" height="6.78" fill="#c6c6ff"/>
<rect x="97.56" y="360.28" width="8.98" height="6.78" fill="#c6c6ff"/>
<rect x="105.94" y="360.28" width="8.98" height="6.78" fill="#ffe9e9"/>
<rect x="114.32" y="360.28" width="8.98" height="6.78" fill="#e2e2ff"/>
<rect x="122.70" y="360.28" width="8.98" height="6.78" fill="#c6c6ff"/>
<rect x="131.08" y="360.28" width="8.98" height="6.78" fill="#7a7aff"/>
<rect x="139.46" y="360.28" width="8.38" height="6.78" fill="#a4a4ff"/>
<rect x="38.90" y="366.46" width="8.98" height="6.78" fill="#e2e2ff"/>
<rect x="47.28" y="366.46" width="8.98" height="6.78" fill="#e2e2ff"/>
<rect x="55.66" y="366.46" width="8.98" height="6.78" fill="#ffa6a6"/>
<rect x="64.04" y="366.46" width="8.98" height="6.78" fill="#e2e2ff"/>
<rect x="72.42" y="366.46" width="8.98" height="6.78" fill="#ffe9e9"/>
<rect x="80.80" y="366.46" width="8.98" height="6.78" fill="#faf9fd"/>
<rect x="89.18" y="366.46" width="8.98" height="6.78" fill="#e2e2ff"/>
<rect x="97.56" y="366.46" width="8.98" height="6.78" fill="#e2e2ff"/>
<rect x="105.94" y="366.46" width="8.98" height="6.78" fill="#faf9fd"/>
<rect x="114.32" y="366.46" width="8.98" height="6.78" fill="#e2e2ff"/>
<rect x="122.70" y="366.46" width="8.98" height="6.78" fill="#e2e2ff"/>
<rect x="131.08" y="366.46" width="8.98" height="6.78" fill="#e2e2ff"/>
<rect x="139.46" y="366.46" width="8.38" height="6.78" fill="#7a7aff"/>
<rect x="38.90" y="372.64" width="8.98" height="6.78" fill="#e2e2ff"/>
<rect x="47.28" y="372.64" width="8.98" height="6.78" fill="#c6c6ff"/>
<rect x="55.66" y="372.64" width="8.98" height="6.78" fill="#ffe9e9"/>
<rect x="64.04" y="372.64" width="8.98" height="6.78" fill="#c6c6ff"/>
<rect x="72.42" y="372.64" width="8.98" height="6.78" fill="#faf9fd"/>
<rect x="80.80" y="372.64" width="8.98" height="6.78" fill="#7a7aff"/>
<rect x="89.18" y="372.64" width="8.98" height="6.78" fill="#a4a4ff"/>
<rect x="97.56" y="372.64" width="8.98" height="6.78" fill="#faf9fd"/>
<rect x="105.94" y="372.64" width="8.98" height="6.78" fill="#c6c6ff"/>
<rect x="114.32" y="372.64" width="8.98" height="6.78" fill="#e2e2ff"/>
<rect x="122.70" y="372.64" width="8.98" height="6.78" fill="#ffe9e9"/>
<rect x="131.08" y="372.64" width="8.98" height="6.78" fill="#e2e2ff"/>
<rect x="139.46" y="372.64" width="8.38" height="6.78" fill="#e2e2ff"/>
<rect x="38.90" y="378.82" width="8.98" height="6.18" fill="#c6c6ff"/>
<rect x="47.28" y="378.82" width="8.98" height="6.18" fill="#e2e2ff"/>
<rect x="55.66" y="378.82" width="8.98" height="6.18" fill="#ffe9e9"/>
<rect x="64.04" y="378.82" width="8.98" height="6.18" fill="#a4a4ff"/>
<rect x="72.42" y="378.82" width="8.98" height="6.18" fill="#ffcccc"/>
<rect x="80.80" y="378.82" width="8.98" height="6.18" fill="#a4a4ff"/>
<rect x="89.18" y="378.82" width="8.98" height="6.18" fill="#a4a4ff"/>
<rect x="97.56" y="378.82" width="8.98" height="6.18" fill="#c6c6ff"/>
<rect x="105.94" y="378.82" width="8.98" height="6.18" fill="#e2e2ff"/>
<rect x="114.32" y="378.82" width="8.98" height="6.18" fill="#e2e2ff"/>
<rect x="122.70" y="378.82" width="8.98" height="6.18" fill="#e2e2ff"/>
<rect x="131.08" y="378.82" width="8.98" height="6.18" fill="#e2e2ff"/>
<rect x="139.46" y="378.82" width="8.38" height="6.18" fill="#e2e2ff"/>
<rect x="151.60" y="14.20" width="8.98" height="6.78" fill="#faf9fd"/>
<rect x="159.98" y="14.20" width="8.98" height="6.78" fill="#faf9fd"/>
<rect x="168.36" y="14.20" width="8.98" height="6.78" fill="#e2e2ff"/>
<rect x="176.74" y="14.20" width="8.98" height="6.78" fill="#ffe9e9"/>
<rect x="185.12" y="14.20" width="8.98" height="6.78" fill="#faf9fd"/>
<rect x="193.50" y="14.20" width="8.98" height="6.78" fill="#ffe9e9"/>
<rect x="201.88" y="14.20" width="8.98" height="6.78" fill="#ffe9e9"/>
<rect x="210.26" y="14.20" width="8.38" height="6.78" fill="#ffe9e9"/>
<rect x="151.60" y="20.38" width="8.98" height="6.78" fill="#c6c6ff"/>
<rect x="159.98" y="20.38" width="8.98" height="6.78" fill="#e2e2ff"/>
<rect x="168.36" y="20.38" width="8.98" height="6.78" fill="#ffe9e9"/>
<rect x="176.74" y="20.38" width="8.98" height="6.78" fill="#faf9fd"/>
<rect x="185.12" y="20.38" width="8.98" height="6.78" fill="#faf9fd"/>
<rect x="193.50" y="20.38" width="8.98" height="6.78" fill="#faf9fd"/>
<rect x="201.88" y="20.38" width="8.98" height="6.78" fill="#ffe9e9"/>
<rect x="210.26" y="20.38" width="8.38" height="6.78" fill="#ffe9e9"/>
<rect x="151.60" y="26.56" width="8.98" height="6.78" fill="#e2e2ff"/>
<rect x="159.98" y="26.56" width="8.98" height="6.78" fill="#c6c6ff"/>
<rect x="168.36" y="26.56" width="8.98" height="6.78" fill="#faf9fd"/>
<rect x="176.74" y="26.56" width="8.98" height="6.78" fill="#faf9fd"/>
<rect x="185.12" y="26.56" width="8.98" height="6.78" fill="#e2e2ff"/>
<rect x="193.50" y="26.56" width="8.98" height="6.78" fill="#ffe9e9"/>
<rect x="201.88" y="26.56" width="8.98" height="6.78" fill="#ffcccc"/>
<rect x="210.26" y="26.56" width="8.38" height="6.78" fill="#faf9fd"/>
<rect x="151.60" y="32.74" width="8.98" height="6.78" fill="#ffe9e9"/>
<rect x="159.98" y="32.74" width="8.98" height="6.78" fill="#faf9fd"/>
<rect x="168.36" y="32.74" width="8.98" height="6.78" fill="#ffe9e9"/>
<rect x="176.74" y="32.74" width="8.98" height="6.78" fill="#ffa6a6"/>
<rect x="185.12" y="32.74" width="8.98" height="6.78" fill="#ffe9e9"/>
<rect x="193.50" y="32.74" width="8.98" height="6.78" fill="#ffe9e9"/>
<rect x="201.88" y="32.74" width="8.98" height="6.78" fill="#e2e2ff"/>
<rect x="210.26" y="32.74" width="8.38" height="6.78" fill="#faf9fd"/>
<rect x="151.60" y="38.92" width="8.98" height="6.78" fill="#e2e2ff"/>
<rect x="159.98" y="38.92" width="8.98" height="6.78" fill="#ffe9e9"/>
<rect x="168.36" y="38.92" width="8.98" height="6.78" fill="#ffcccc"/>
<rect x="176.74" y="38.92" width="8.98" height="6.78" fill="#ffa6a6"/>
<rect x="185.12" y="38.92" width="8.98" height="6.78" fill="#ffcccc"/>
<rect x="193.50" y="38.92" width="8.98" height="6.78" fill="#faf9fd"/>
<rect x="201.88" y="38.92" width="8.98" height="6.78" fill="#ffe9e9"/>
<rect x="210.26" y="38.92" width="8.38" height="6.78" fill="#ffe9e9"/>
<rect x="151.60" y="45.10" width="8.98" height="6.78" fill="#e2e2ff"/>
<rect x="159.98" y="45.10" width="8.98" height="6.78" fill="#c6c6ff"/>
<rect x="168.36" y="45.10" width="8.98" height="6.78" fill="#ffe9e9"/>
<rect x="176.74" y="45.10" width="8.98" height="6.78" fill="#faf9fd"/>
<rect x="185.12" y="45.10" width="8.98" height="6.78" fill="#e2e2ff"/>
<rect x="193.50" y="45.10" width="8.98" height="6.78" fill="#faf9fd"/>
<rect x="201.88" y="45.10" width="8.98" height="6.78" fill="#ffe9e9"/>
<rect x="210.26" y="45.10" width="8.38" height="6.78" fill="#ffe9e9"/>
<rect x="151.60" y="51.28" width="8.98" height="6.78" fill="#a4a4ff"/>
<rect x="159.98" y="51.28" width="8.98" height="6.78" fill="#ffe9e9"/>
<rect x="168.36" y="51.28" width="8.98" height="6.78" fill="#ffcccc"/>
<rect x="176.74" y="51.28" width="8.98" height="6.78" fill="#ffcccc"/>
<rect x="185.12" y="51.28" width="8.98" height="6.78" fill="#c6c6ff"/>
<rect x="193.50" y="51.28" width="8.98" height="6.78" fill="#ffcccc"/>
<rect x="201.88" y="51.28" width="8.98" height="6.78" fill="#ffcccc"/>
<rect x="210.26" y="51.28" width="8.38" height="6.78" fill="#ffa6a6"/>
<rect x="151.60" y="57.46" width="8.98" height="6.78" fill="#e2e2ff"/>
<rect x="159.98" y="57.46" width="8.98" height="6.78" fill="#e2e2ff"/>
<rect x="168.36" y="57.46" width="8.98" height="6.78" fill="#faf9fd"/>
<rect x="176.74" y="57.46" width="8.98" height="6.78" fill="#e2e2ff"/>
<rect x="185.12" y="57.46" width="8.98" height="6.78" fill="#faf9fd"/>
<rect x="193.50" y="57.46" width="8.98" height="6.78" fill="#ffe9e9"/>
<rect x="201.88" y="57.46" width="8.98" height="6.78" fill="#ffe9e9"/>
<rect x="210.26" y="57.46" width="8.38" height="6.78" fill="#ffe9e9"/>
<rect x="151.60" y="63.64" width="8.98" height="6.78" fill="#e2e2ff"/>
<rect x="159.98" y="63.64" width="8.98" height="6.78" fill="#ffe9e9"/>
<rect x="168.36" y="63.64" width="8.98" height="6.78" fill="#ffe9e9"/>
<rect x="176.74" y="63.64" width="8.98" height="6.78" fill="#ffcccc"/>
<rect x="185.12" y="63.64" width="8.98" height="6.78" fill="#ffe9e9"/>
<rect x="193.50" y="63.64" width="8.98" height="6.78" fill="#e2e2ff"/>
<rect x="201.88" y="63.64" width="8.98" height="6.78" fill="#ffe9e9"/>
<rect x="210.26" y="63.64" width="8.38" height="6.78" fill="#ffcccc"/>
<rect x="151.60" y="69.82" width="8.98" height="6.78" fill="#e2e2ff"/>
<rect x="159.98" y="69.82" width="8.98" height="6.78" fill="#ffe9e9"/>
<rect x="168.36" y="69.82" width="8.98" height="6.78" fill="#faf9fd"/>
<rect x="176.74" y="69.82" width="8.98" height="6.78" fill="#ffcccc"/>
<rect x="185.12" y="69.82" width="8.98" height="6.78" fill="#ffcccc"/>
<rect x="193.50" y="69.82" width="8.98" height="6.78" fill="#ffcccc"/>
<rect x="201.88" y="69.82" width="8.98" height="6.78" fill="#ffe9e9"/>
<rect x="210.26" y="69.82" width="8.38" height="6.78" fill="#ffcccc"/>
<rect x="151.60" y="76" width="8.98" height="6.78" fill="#faf9fd"/>
<rect x="159.98" y="76" width="8.98" height="6.78" fill="#ffe9e9"/>
<rect x="168.36" y="76" width="8.98" height="6.78" fill="#ffe9e9"/>
<rect x="176.74" y="76" width="8.98" height="6.78" fill="#ffcccc"/>
<rect x="185.12" y="76" width="8.98" height="6.78" fill="#ffe9e9"/>
<rect x="193.50" y="76" width="8.98" height="6.78" fill="#ffe9e9"/>
<rect x="201.88" y="76" width="8.98" height="6.78" fill="#ffe9e9"/>
<rect x="210.26" y="76" width="8.38" height="6.78" fill="#faf9fd"/>
<rect x="151.60" y="82.18" width="8.98" height="6.78" fill="#faf9fd"/>
<rect x="159.98" y="82.18" width="8.98" height="6.78" fill="#e2e2ff"/>
<rect x="168.36" y="82.18" width="8.98" height="6.78" fill="#faf9fd"/>
<rect x="176.74" y="82.18" width="8.98" height="6.78" fill="#ffe9e9"/>
<rect x="185.12" y="82.18" width="8.98" height="6.78" fill="#faf9fd"/>
<rect x="193.50" y="82.18" width="8.98" height="6.78" fill="#ffe9e9"/>
<rect x="201.88" y="82.18" width="8.98" height="6.78" fill="#ffe9e9"/>
<rect x="210.26" y="82.18" width="8.38" height="6.78" fill="#faf9fd"/>
<rect x="151.60" y="88.36" width="8.98" height="6.78" fill="#e2e2ff"/>
<rect x="159.98" y="88.36" width="8.98" height="6.78" fill="#e2e2ff"/>
<rect x="168.36" y="88.36" width="8.98" height="6.78" fill="#c6c6ff"/>
<rect x="176.74" y="88.36" width="8.98" height="6.78" fill="#faf9fd"/>
<rect x="185.12" y="88.36" width="8.98" height="6.78" fill="#ffe9e9"/>
<rect x="193.50" y="88.36" width="8.98" height="6.78" fill="#e2e2ff"/>
<rect x="201.88" y="88.36" width="8.98" height="6.78" fill="#ffcccc"/>
<rect x="210.26" y="88.36" width="8.38" height="6.78" fill="#ffa6a6"/>
<rect x="151.60" y="94.54" width="8.98" height="6.78" fill="#ffe9e9"/>
<rect x="159.98" y="94.54" width="8.98" height="6.78" fill="#ffcccc"/>
<rect x="168.36" y="94.54" width="8.98" height="6.78" fill="#ffcccc"/>
<rect x="176.74" y="94.54" width="8.98" height="6.78" fill="#ffcccc"/>
<rect x="185.12" y="94.54" width="8.98" height="6.78" fill="#ffcccc"/>
<rect x="193.50" y="94.54" width="8.98" height="6.78" fill="#ffa6a6"/>
<rect x="201.88" y="94.54" width="8.98" height="6.78" fill="#ffcccc"/>
<rect x="210.26" y="94.54" width="8.38" height="6.78" fill="#ffa6a6"/>
<rect x="151.60" y="100.72" width="8.98" height="6.78" fill="#e2e2ff"/>
<rect x="159.98" y="100.72" width="8.98" height="6.78" fill="#faf9fd"/>
<rect x="168.36" y="100.72" width="8.98" height="6.78" fill="#e2e2ff"/>
<rect x="176.74" y="100.72" width="8.98" height="6.78" fill="#e2e2ff"/>
<rect x="185.12" y="100.72" width="8.98" height="6.78" fill="#ffe9e9"/>
<rect x="193.50" y="100.72" width="8.98" height="6.78" fill="#faf9fd"/>
<rect x="201.88" y="100.72" width="8.98" height="6.78" fill="#ffe9e9"/>
<rect x="210.26" y="100.72" width="8.38" height="6.78" fill="#e2e2ff"/>
<rect x="151.60" y="106.90" width="8.98" height="6.78" fill="#e2e2ff"/>
<rect x="159.98" y="106.90" width="8.98" height="6.78" fill="#e2e2ff"/>
<rect x="168.36" y="106.90" width="8.98" height="6.78" fill="#ffe9e9"/>
<rect x="176.74" y="106.90" width="8.98" height="6.78" fill="#ffcccc"/>
<rect x="185.12" y="106.90" width="8.98" height="6.78" fill="#e2e2ff"/>
<rect x="193.50" y="106.90" width="8.98" height="6.78" fill="#faf9fd"/>
<rect x="201.88" y="106.90" width="8.98" height="6.78" fill="#ffe9e9"/>
<rect x="210.26" y="106.90" width="8.38" height="6.78" fill="#ffe9e9"/>
<rect x="151.60" y="113.08" width="8.98" height="6.78" fill="#e2e2ff"/>
<rect x="159.98" y="113.08" width="8.98" height="6.78" fill="#e2e2ff"/>
<rect x="168.36" y="113.08" width="8.98" height="6.78" fill="#ffcccc"/>
<rect x="176.74" y="113.08" width="8.98" height="6.78" fill="#ff7c7c"/>
<rect x="185.12" y="113.08" width="8.98" height="6.78" fill="#ffe9e9"/>
<rect x="193.50" y="113.08" width="8.98" height="6.78" fill="#e2e2ff"/>
<rect x="201.88" y="113.08" width="8.98" height="6.78" fill="#ffe9e9"/>
<rect x="210.26" y="113.08" width="8.38" height="6.78" fill="#ffe9e9"/>
<rect x="151.60" y="119.26" width="8.98" height="6.78" fill="#a4a4ff"/>
<rect x="159.98" y="119.26" width="8.98" height="6.78" fill="#ffcccc"/>
<rect x="168.36" y="119.26" width="8.98" height="6.78" fill="#e2e2ff"/>
<rect x="176.74" y="119.26" width="8.98" height="6.78" fill="#ff7c7c"/>
<rect x="185.12" y="119.26" width="8.98" height="6.78" fill="#ffe9e9"/>
<rect x="193.50" y="119.26" width="8.98" height="6.78" fill="#e2e2ff"/>
<rect x="201.88" y="119.26" width="8.98" height="6.78" fill="#ffe9e9"/>
<rect x="210.26" y="119.26" width="8.38" height="6.78" fill="#ffe9e9"/>
<rect x="151.60" y="125.44" width="8.98" height="6.78" fill="#e2e2ff"/>
<rect x="159.98" y="125.44" width="8.98" height="6.78" fill="#c6c6ff"/>
<rect x="168.36" y="125.44" width="8.98" height="6.78" fill="#ffe9e9"/>
<rect x="176.74" y="125.44" width="8.98" height="6.78" fill="#faf9fd"/>
<rect x="185.12" y="125.44" width="8.98" height="6.78" fill="#a4a4ff"/>
<rect x="193.50" y="125.44" width="8.98" height="6.78" fill="#e2e2ff"/>
<rect x="201.88" y="125.44" width="8.98" height="6.78" fill="#c6c6ff"/>
<rect x="210.26" y="125.44" width="8.38" height="6.78" fill="#ffe9e9"/>
<rect x="151.60" y="131.62" width="8.98" height="6.78" fill="#faf9fd"/>
<rect x="159.98" y="131.62" width="8.98" height="6.78" fill="#ffe9e9"/>
<rect x="168.36" y="131.62" width="8.98" height="6.78" fill="#ffe9e9"/>
<rect x="176.74" y="131.62" width="8.98" height="6.78" fill="#ffcccc"/>
<rect x="185.12" y="131.62" width="8.98" height="6.78" fill="#ffcccc"/>
<rect x="193.50" y="131.62" width="8.98" height="6.78" fill="#ffcccc"/>
<rect x="201.88" y="131.62" width="8.98" height="6.78" fill="#ffe9e9"/>
<rect x="210.26" y="131.62" width="8.38" height="6.78" fill="#ffcccc"/>
<rect x="151.60" y="137.80" width="8.98" height="6.78" fill="#a4a4ff"/>
<rect x="159.98" y="137.80" width="8.98" height="6.78" fill="#ff7c7c"/>
<rect x="168.36" y="137.80" width="8.98" height="6.78" fill="#ffa6a6"/>
<rect x="176.74" y="137.80" width="8.98" height="6.78" fill="#ffa6a6"/>
<rect x="185.12" y="137.80" width="8.98" height="6.78" fill="#faf9fd"/>
<rect x="193.50" y="137.80" width="8.98" height="6.78" fill="#c6c6ff"/>
<rect x="201.88" y="137.80" width="8.98" height="6.78" fill="#ffa6a6"/>
<rect x="210.26" y="137.80" width="8.38" height="6.78" fill="#ff7c7c"/>
<rect x="151.60" y="143.98" width="8.98" height="6.78" fill="#faf9fd"/>
<rect x="159.98" y="143.98" width="8.98" height="6.78" fill="#faf9fd"/>
<rect x="168.36" y="143.98" width="8.98" height="6.78" fill="#faf9fd"/>
<rect x="176.74" y="143.98" width="8.98" height="6.78" fill="#faf9fd"/>
<rect x="185.12" y="143.98" width="8.98" height="6.78" fill="#ffa6a6"/>
<rect x="193.50" y="143.98" width="8.98" height="6.78" fill="#ffa6a6"/>
<rect x="201.88" y="143.98" width="8.98" height="6.78" fill="#ffcccc"/>
<rect x="210.26" y="143.98" width="8.38" height="6.78" fill="#ffcccc"/>
<rect x="151.60" y="150.16" width="8.98" height="6.78" fill="#ffe9e9"/>
<rect x="159.98" y="150.16" width="8.98" height="6.78" fill="#faf9fd"/>
<rect x="168.36" y="150.16" width="8.98" height="6.78" fill="#faf9fd"/>
<rect x="176.74" y="150.16" width="8.98" height="6.78" fill="#c6c6ff"/>
<rect x="185.12" y="150.16" width="8.98" height="6.78" fill="#ff7c7c"/>
<rect x="193.50" y="150.16" width="8.98" height="6.78" fill="#ffa6a6"/>
<rect x="201.88" y="150.16" width="8.98" height="6.78" fill="#ffcccc"/>
<rect x="210.26" y="150.16" width="8.38" height="6.78" fill="#ffcccc"/>
<rect x="151.60" y="156.34" width="8.98" height="6.78" fill="#faf9fd"/>
<rect x="159.98" y="156.34" width="8.98" height="6.78" fill="#ffe9e9"/>
<rect x="168.36" y="156.34" width="8.98" height="6.78" fill="#ffe9e9"/>
<rect x="176.74" y="156.34" width="8.98" height="6.78" fill="#ffe9e9"/>
<rect x="185.12" y="156.34" width="8.98" height="6.78" fill="#ffa6a6"/>
<rect x="193.50" y="156.34" width="8.98" height="6.78" fill="#ffa6a6"/>
<rect x="201.88" y="156.34" width="8.98" height="6.78" fill="#ffcccc"/>
<rect x="210.26" y="156.34" width="8.38" height="6.78" fill="#ffcccc"/>
<rect x="151.60" y="162.52" width="8.98" height="6.78" fill="#e2e2ff"/>
<rect x="159.98" y="162.52" width="8.98" height="6.78" fill="#ffe9e9"/>
<rect x="168.36" y="162.52" width="8.98" height="6.78" fill="#e2e2ff"/>
<rect x="176.74" y="162.52" width="8.98" height="6.78" fill="#ffe9e9"/>
<rect x="185.12" y="162.52" width="8.98" height="6.78" fill="#ffe9e9"/>
<rect x="193.50" y="162.52" width="8.98" height="6.78" fill="#faf9fd"/>
<rect x="201.88" y="162.52" width="8.98" height="6.78" fill="#faf9fd"/>
<rect x="210.26" y="162.52" width="8.38" height="6.78" fill="#faf9fd"/>
<rect x="151.60" y="168.70" width="8.98" height="6.78" fill="#e2e2ff"/>
<rect x="159.98" y="168.70" width="8.98" height="6.78" fill="#ffe9e9"/>
<rect x="168.36" y="168.70" width="8.98" height="6.78" fill="#ffe9e9"/>
<rect x="176.74" y="168.70" width="8.98" height="6.78" fill="#ffcccc"/>
<rect x="185.12" y="168.70" width="8.98" height="6.78" fill="#e2e2ff"/>
<rect x="193.50" y="168.70" width="8.98" height="6.78" fill="#ffe9e9"/>
<rect x="201.88" y="168.70" width="8.98" height="6.78" fill="#ffcccc"/>
<rect x="210.26" y="168.70" width="8.38" height="6.78" fill="#ffa6a6"/>
<rect x="151.60" y="174.88" width="8.98" height="6.78" fill="#ffcccc"/>
<rect x="159.98" y="174.88" width="8.98" height="6.78" fill="#7a7aff"/>
<rect x="168.36" y="174.88" width="8.98" height="6.78" fill="#ffe9e9"/>
<rect x="176.74" y="174.88" width="8.98" height="6.78" fill="#ffcccc"/>
<rect x="185.12" y="174.88" width="8.98" height="6.78" fill="#ffcccc"/>
<rect x="193.50" y="174.88" width="8.98" height="6.78" fill="#ffe9e9"/>
<rect x="201.88" y="174.88" width="8.98" height="6.78" fill="#ffe9e9"/>
<rect x="210.26" y="174.88" width="8.38" height="6.78" fill="#ffe9e9"/>
<rect x="151.60" y="181.06" width="8.98" height="6.78" fill="#ffe9e9"/>
<rect x="159.98" y="181.06" width="8.98" height="6.78" fill="#a4a4ff"/>
<rect x="168.36" y="181.06" width="8.98" height="6.78" fill="#ffe9e9"/>
<rect x="176.74" y="181.06" width="8.98" height="6.78" fill="#ffcccc"/>
<rect x="185.12" y="181.06" width="8.98" height="6.78" fill="#ffe9e9"/>
<rect x="193.50" y="181.06" width="8.98" height="6.78" fill="#ffcccc"/>
<rect x="201.88" y="181.06" width="8.98" height="6.78" fill="#ffa6a6"/>
<rect x="210.26" y="181.06" width="8.38" height="6.78" fill="#ffa6a6"/>
<rect x="151.60" y="187.24" width="8.98" height="6.78" fill="#faf9fd"/>
<rect x="159.98" y="187.24" width="8.98" height="6.78" fill="#e2e2ff"/>
<rect x="168.36" y="187.24" width="8.98" height="6.78" fill="#ffe9e9"/>
<rect x="176.74" y="187.24" width="8.98" height="6.78" fill="#c6c6ff"/>
<rect x="185.12" y="187.24" width="8.98" height="6.78" fill="#faf9fd"/>
<rect x="193.50" y="187.24" width="8.98" height="6.78" fill="#ffe9e9"/>
<rect x="201.88" y="187.24" width="8.98" height="6.78" fill="#ffcccc"/>
<rect x="210.26" y="187.24" width="8.38" height="6.78" fill="#ffcccc"/>
<rect x="151.60" y="193.42" width="8.98" height="6.78" fill="#e2e2ff"/>
<rect x="159.98" y="193.42" width="8.98" height="6.78" fill="#ffa6a6"/>
<rect x="168.36" y="193.42" width="8.98" height="6.78" fill="#faf9fd"/>
<rect x="176.74" y="193.42" width="8.98" height="6.78" fill="#ffe9e9"/>
<rect x="185.12" y="193.42" width="8.98" height="6.78" fill="#c6c6ff"/>
<rect x="193.50" y="193.42" width="8.98" height="6.78" fill="#faf9fd"/>
<rect x="201.88" y="193.42" width="8.98" height="6.78" fill="#e2e2ff"/>
<rect x="210.26" y="193.42" width="8.38" height="6.78" fill="#ffcccc"/>
<rect x="151.60" y="199.60" width="8.98" height="6.78" fill="#c6c6ff"/>
<rect x="159.98" y="199.60" width="8.98" height="6.78" fill="#ffcccc"/>
<rect x="168.36" y="199.60" width="8.98" height="6.78" fill="#ffcccc"/>
<rect x="176.74" y="199.60" width="8.98" height="6.78" fill="#ff7c7c"/>
<rect x="185.12" y="199.60" width="8.98" height="6.78" fill="#ffe9e9"/>
<rect x="193.50" y="199.60" width="8.98" height="6.78" fill="#faf9fd"/>
<rect x="201.88" y="199.60" width="8.98" height="6.78" fill="#ffcccc"/>
<rect x="210.26" y="199.60" width="8.38" height="6.78" fill="#e2e2ff"/>
<rect x="151.60" y="205.78" width="8.98" height="6.78" fill="#faf9fd"/>
<rect x="159.98" y="205.78" width="8.98" height="6.78" fill="#faf9fd"/>
<rect x="168.36" y="205.78" width="8.98" height="6.78" fill="#ffe9e9"/>
<rect x="176.74" y="205.78" width="8.98" height="6.78" fill="#e2e2ff"/>
<rect x="185.12" y="205.78" width="8.98" height="6.78" fill="#7a7aff"/>
<rect x="193.50" y="205.78" width="8.98" height="6.78" fill="#c6c6ff"/>
<rect x="201.88" y="205.78" width="8.98" height="6.78" fill="#ffcccc"/>
<rect x="210.26" y="205.78" width="8.38" height="6.78" fill="#ffcccc"/>
<rect x="151.60" y="211.96" width="8.98" height="6.78" fill="#c6c6ff"/>
<rect x="159.98" y="211.96" width="8.98" height="6.78" fill="#faf9fd"/>
<rect x="168.36" y="211.96" width="8.98" height="6.78" fill="#ffe9e9"/>
<rect x="176.74" y="211.96" width="8.98" height="6.78" fill="#e2e2ff"/>
<rect x="185.12" y="211.96" width="8.98" height="6.78" fill="#e2e2ff"/>
<rect x="193.50" y="211.96" width="8.98" height="6.78" fill="#e2e2ff"/>
<rect x="201.88" y="211.96" width="8.98" height="6.78" fill="#ffe9e9"/>
<rect x="210.26" y="211.96" width="8.38" height="6.78" fill="#faf9fd"/>
<rect x="151.60" y="218.14" width="8.98" height="6.78" fill="#ffe9e9"/>
<rect x="159.98" y="218.14" width="8.98" height="6.78" fill="#faf9fd"/>
<rect x="168.36" y="218.14" width="8.98" height="6.78" fill="#faf9fd"/>
<rect x="176.74" y="218.14" width="8.98" height="6.78" fill="#ffa6a6"/>
<rect x="185.12" y="218.14" width="8.98" height="6.78" fill="#ffe9e9"/>
<rect x="193.50" y="218.14" width="8.98" height="6.78" fill="#ffe9e9"/>
<rect x="201.88" y="218.14" width="8.98" height="6.78" fill="#ffcccc"/>
<rect x="210.26" y="218.14" width="8.38" height="6.78" fill="#ffcccc"/>
<rect x="151.60" y="224.32" width="8.98" height="6.78" fill="#c6c6ff"/>
<rect x="159.98" y="224.32" width="8.98" height="6.78" fill="#e2e2ff"/>
<rect x="168.36" y="224.32" width="8.98" height="6.78" fill="#faf9fd"/>
<rect x="176.74" y="224.32" width="8.98" height="6.78" fill="#e2e2ff"/>
<rect x="185.12" y="224.32" width="8.98" height="6.78" fill="#ffe9e9"/>
<rect x="193.50" y="224.32" width="8.98" height="6.78" fill="#ffe9e9"/>
<rect x="201.88" y="224.32" width="8.98" height="6.78" fill="#ffcccc"/>
<rect x="210.26" y="224.32" width="8.38" height="6.78" fill="#ffe9e9"/>
<rect x="151.60" y="230.50" width="8.98" height="6.78" fill="#c6c6ff"/>
<rect x="159.98" y="230.50" width="8.98" height="6.78" fill="#e2e2ff"/>
<rect x="168.36" y="230.50" width="8.98" height="6.78" fill="#ffcccc"/>
<rect x="176.74" y="230.50" width="8.98" height="6.78" fill="#ffcccc"/>
<rect x="185.12" y="230.50" width="8.98" height="6.78" fill="#e2e2ff"/>
<rect x="193.50" y="230.50" width="8.98" height="6.78" fill="#ffe9e9"/>
<rect x="201.88" y="230.50" width="8.98" height="6.78" fill="#ffe9e9"/>
<rect x="210.26" y="230.50" width="8.38" height="6.78" fill="#ffcccc"/>
<rect x="151.60" y="236.68" width="8.98" height="6.78" fill="#c6c6ff"/>
<rect x="159.98" y="236.68" width="8.98" height="6.78" fill="#ffcccc"/>
<rect x="168.36" y="236.68" width="8.98" height="6.78" fill="#e2e2ff"/>
<rect x="176.74" y="236.68" width="8.98" height="6.78" fill="#faf9fd"/>
<rect x="185.12" y="236.68" width="8.98" height="6.78" fill="#c6c6ff"/>
<rect x="193.50" y="236.68" width="8.98" height="6.78" fill="#ffe9e9"/>
<rect x="201.88" y="236.68" width="8.98" height="6.78" fill="#ffe9e9"/>
<rect x="210.26" y="236.68" width="8.38" height="6.78" fill="#faf9fd"/>
<rect x="151.60" y="242.86" width="8.98" height="6.78" fill="#c6c6ff"/>
<rect x="159.98" y="242.86" width="8.98" height="6.78" fill="#c6c6ff"/>
<rect x="168.36" y="242.86" width="8.98" height="6.78" fill="#faf9fd"/>
<rect x="176.74" y="242.86" width="8.98" height="6.78" fill="#c6c6ff"/>
<rect x="185.12" y="242.86" width="8.98" height="6.78" fill="#c6c6ff"/>
<rect x="193.50" y="242.86" width="8.98" height="6.78" fill="#faf9fd"/>
<rect x="201.88" y="242.86" width="8.98" height="6.78" fill="#ffe9e9"/>
<rect x="210.26" y="242.86" width="8.38" height="6.78" fill="#ffe9e9"/>
<rect x="151.60" y="249.04" width="8.98" height="6.78" fill="#c6c6ff"/>
<rect x="159.98" y="249.04" width="8.98" height="6.78" fill="#e2e2ff"/>
<rect x="168.36" y="249.04" width="8.98" height="6.78" fill="#ffe9e9"/>
<rect x="176.74" y="249.04" width="8.98" height="6.78" fill="#c6c6ff"/>
<rect x="185.12" y="249.04" width="8.98" height="6.78" fill="#c6c6ff"/>
<rect x="193.50" y="249.04" width="8.98" height="6.78" fill="#ffe9e9"/>
<rect x="201.88" y="249.04" width="8.98" height="6.78" fill="#ffe9e9"/>
<rect x="210.26" y="249.04" width="8.38" height="6.78" fill="#ffe9e9"/>
<rect x="151.60" y="255.22" width="8.98" height="6.78" fill="#e2e2ff"/>
<rect x="159.98" y="255.22" width="8.98" height="6.78" fill="#ffe9e9"/>
<rect x="168.36" y="255.22" width="8.98" height="6.78" fill="#e2e2ff"/>
<rect x="176.74" y="255.22" width="8.98" height="6.78" fill="#e2e2ff"/>
<rect x="185.12" y="255.22" width="8.98" height="6.78" fill="#e2e2ff"/>
<rect x="193.50" y="255.22" width="8.98" height="6.78" fill="#e2e2ff"/>
<rect x="201.88" y="255.22" width="8.98" height="6.78" fill="#ffcccc"/>
<rect x="210.26" y="255.22" width="8.38" height="6.78" fill="#ffcccc"/>
<rect x="151.60" y="261.40" width="8.98" height="6.78" fill="#faf9fd"/>
<rect x="159.98" y="261.40" width="8.98" height="6.78" fill="#faf9fd"/>
<rect x="168.36" y="261.40" width="8.98" height="6.78" fill="#ffa6a6"/>
<rect x="176.74" y="261.40" width="8.98" height="6.78" fill="#ffe9e9"/>
<rect x="185.12" y="261.40" width="8.98" height="6.78" fill="#4848ff"/>
<rect x="193.50" y="261.40" width="8.98" height="6.78" fill="#ffcccc"/>
<rect x="201.88" y="261.40" width="8.98" height="6.78" fill="#ffe9e9"/>
<rect x="210.26" y="261.40" width="8.38" height="6.78" fill="#ffcccc"/>
<rect x="151.60" y="267.58" width="8.98" height="6.78" fill="#e2e2ff"/>
<rect x="159.98" y="267.58" width="8.98" height="6.78" fill="#ffcccc"/>
<rect x="168.36" y="267.58" width="8.98" height="6.78" fill="#ffe9e9"/>
<rect x="176.74" y="267.58" width="8.98" height="6.78" fill="#ffcccc"/>
<rect x="185.12" y="267.58" width="8.98" height="6.78" fill="#ffcccc"/>
<rect x="193.50" y="267.58" width="8.98" height="6.78" fill="#e2e2ff"/>
<rect x="201.88" y="267.58" width="8.98" height="6.78" fill="#ffe9e9"/>
<rect x="210.26" y="267.58" width="8.38" height="6.78" fill="#ffe9e9"/>
<rect x="151.60" y="273.76" width="8.98" height="6.78" fill="#faf9fd"/>
<rect x="159.98" y="273.76" width="8.98" height="6.78" fill="#c6c6ff"/>
<rect x="168.36" y="273.76" width="8.98" height="6.78" fill="#ffe9e9"/>
<rect x="176.74" y="273.76" width="8.98" height="6.78" fill="#c6c6ff"/>
<rect x="185.12" y="273.76" width="8.98" height="6.78" fill="#faf9fd"/>
<rect x="193.50" y="273.76" width="8.98" height="6.78" fill="#ffe9e9"/>
<rect x="201.88" y="273.76" width="8.98" height="6.78" fill="#faf9fd"/>
<rect x="210.26" y="273.76" width="8.38" height="6.78" fill="#e2e2ff"/>
<rect x="151.60" y="279.94" width="8.98" height="6.78" fill="#faf9fd"/>
<rect x="159.98" y="279.94" width="8.98" height="6.78" fill="#c6c6ff"/>
<rect x="168.36" y="279.94" width="8.98" height="6.78" fill="#ffe9e9"/>
<rect x="176.74" y="279.94" width="8.98" height="6.78" fill="#e2e2ff"/>
<rect x="185.12" y="279.94" width="8.98" height="6.78" fill="#e2e2ff"/>
<rect x="193.50" y="279.94" width="8.98" height="6.78" fill="#faf9fd"/>
<rect x="201.88" y="279.94" width="8.98" height="6.78" fill="#ffe9e9"/>
<rect x="210.26" y="279.94" width="8.38" height="6.78" fill="#faf9fd"/>
<rect x="151.60" y="286.12" width="8.98" height="6.78" fill="#e2e2ff"/>
<rect x="159.98" y="286.12" width="8.98" height="6.78" fill="#ffe9e9"/>
<rect x="168.36" y="286.12" width="8.98" height="6.78" fill="#ffe9e9"/>
<rect x="176.74" y="286.12" width="8.98" height="6.78" fill="#ffe9e9"/>
<rect x="185.12" y="286.12" width="8.98" height="6.78" fill="#e2e2ff"/>
<rect x="193.50" y="286.12" width="8.98" height="6.78" fill="#faf9fd"/>
<rect x="201.88" y="286.12" width="8.98" height="6.78" fill="#faf9fd"/>
<rect x="210.26" y="286.12" width="8.38" height="6.78" fill="#e2e2ff"/>
<rect x="151.60" y="292.30" width="8.98" height="6.78" fill="#e2e2ff"/>
<rect x="159.98" y="292.30" width="8.98" height="6.78" fill="#ffcccc"/>
<rect x="168.36" y="292.30" width="8.98" height="6.78" fill="#ffe9e9"/>
<rect x="176.74" y="292.30" width="8.98" height="6.78" fill="#ffcccc"/>
<rect x="185.12" y="292.30" width="8.98" height="6.78" fill="#ffcccc"/>
<rect x="193.50" y="292.30" width="8.98" height="6.78" fill="#faf9fd"/>
<rect x="201.88" y="292.30" width="8.98" height="6.78" fill="#ffe9e9"/>
<rect x="210.26" y="292.30" width="8.38" height="6.78" fill="#faf9fd"/>
<rect x="151.60" y="298.48" width="8.98" height="6.78" fill="#ffe9e9"/>
<rect x="159.98" y="298.48" width="8.98" height="6.78" fill="#faf9fd"/>
<rect x="168.36" y="298.48" width="8.98" height="6.78" fill="#ffe9e9"/>
<rect x="176.74" y="298.48" width="8.98" height="6.78" fill="#ffe9e9"/>
<rect x="185.12" y="298.48" width="8.98" height="6.78" fill="#ffe9e9"/>
<rect x="193.50" y="298.48" width="8.98" height="6.78" fill="#faf9fd"/>
<rect x="201.88" y="298.48" width="8.98" height="6.78" fill="#faf9fd"/>
<rect x="210.26" y="298.48" width="8.38" height="6.78" fill="#e2e2ff"/>
<rect x="151.60" y="304.66" width="8.98" height="6.78" fill="#c6c6ff"/>
<rect x="159.98" y="304.66" width="8.98" height="6.78" fill="#e2e2ff"/>
<rect x="168.36" y="304.66" width="8.98" height="6.78" fill="#ffe9e9"/>
<rect x="176.74" y="304.66" width="8.98" height="6.78" fill="#faf9fd"/>
<rect x="185.12" y="304.66" width="8.98" height="6.78" fill="#e2e2ff"/>
<rect x="193.50" y="304.66" width="8.98" height="6.78" fill="#ffe9e9"/>
<rect x="201.88" y="304.66" width="8.98" height="6.78" fill="#ffe9e9"/>
<rect x="210.26" y="304.66" width="8.38" height="6.78" fill="#ffe9e9"/>
<rect x="151.60" y="310.84" width="8.98" height="6.78" fill="#e2e2ff"/>
<rect x="159.98" y="310.84" width="8.98" height="6.78" fill="#c6c6ff"/>
<rect x="168.36" y="310.84" width="8.98" height="6.78" fill="#e2e2ff"/>
<rect x="176.74" y="310.84" width="8.98" height="6.78" fill="#ffe9e9"/>
<rect x="185.12" y="310.84" width="8.98" height="6.78" fill="#ffe9e9"/>
<rect x="193.50" y="310.84" width="8.98" height="6.78" fill="#ffe9e9"/>
<rect x="201.88" y="310.84" width="8.98" height="6.78" fill="#faf9fd"/>
<rect x="210.26" y="310.84" width="8.38" height="6.78" fill="#ffe9e9"/>
<rect x="151.60" y="317.02" width="8.98" height="6.78" fill="#faf9fd"/>
<rect x="159.98" y="317.02" width="8.98" height="6.78" fill="#ffcccc"/>
<rect x="168.36" y="317.02" width="8.98" height="6.78" fill="#ffe9e9"/>
<rect x="176.74" y="317.02" width="8.98" height="6.78" fill="#ffcccc"/>
<rect x="185.12" y="317.02" width="8.98" height="6.78" fill="#faf9fd"/>
<rect x="193.50" y="317.02" width="8.98" height="6.78" fill="#e2e2ff"/>
<rect x="201.88" y="317.02" width="8.98" height="6.78" fill="#e2e2ff"/>
<rect x="210.26" y="317.02" width="8.38" height="6.78" fill="#e2e2ff"/>
<rect x="151.60" y="323.20" width="8.98" height="6.78" fill="#ffa6a6"/>
<rect x="159.98" y="323.20" width="8.98" height="6.78" fill="#a4a4ff"/>
<rect x="168.36" y="323.20" width="8.98" height="6.78" fill="#ffcccc"/>
<rect x="176.74" y="323.20" width="8.98" height="6.78" fill="#ffcccc"/>
<rect x="185.12" y="323.20" width="8.98" height="6.78" fill="#ffa6a6"/>
<rect x="193.50" y="323.20" width="8.98" height="6.78" fill="#ffcccc"/>
<rect x="201.88" y="323.20" width="8.98" height="6.78" fill="#ffcccc"/>
<rect x="210.26" y="323.20" width="8.38" height="6.78" fill="#ffa6a6"/>
<rect x="151.60" y="329.38" width="8.98" height="6.78" fill="#ffe9e9"/>
<rect x="159.98" y="329.38" width="8.98" height="6.78" fill="#ffe9e9"/>
<rect x="168.36" y="329.38" width="8.98" height="6.78" fill="#ffe9e9"/>
<rect x="176.74" y="329.38" width="8.98" height="6.78" fill="#ffa6a6"/>
<rect x="185.12" y="329.38" width="8.98" height="6.78" fill="#ffcccc"/>
<rect x="193.50" y="329.38" width="8.98" height="6.78" fill="#ffe9e9"/>
<rect x="201.88" y="329.38" width="8.98" height="6.78" fill="#ffa6a6"/>
<rect x="210.26" y="329.38" width="8.38" height="6.78" fill="#ffcccc"/>
<rect x="151.60" y="335.56" width="8.98" height="6.78" fill="#faf9fd"/>
<rect x="159.98" y="335.56" width="8.98" height="6.78" fill="#e2e2ff"/>
<rect x="168.36" y="335.56" width="8.98" height="6.78" fill="#ffe9e9"/>
<rect x="176.74" y="335.56" width="8.98" height="6.78" fill="#ffcccc"/>
<rect x="185.12" y="335.56" width="8.98" height="6.78" fill="#ffe9e9"/>
<rect x="193.50" y="335.56" width="8.98" height="6.78" fill="#faf9fd"/>
<rect x="201.88" y="335.56" width="8.98" height="6.78" fill="#faf9fd"/>
<rect x="210.26" y="335.56" width="8.38" height="6.78" fill="#ffcccc"/>
<rect x="151.60" y="341.74" width="8.98" height="6.78" fill="#c6c6ff"/>
<rect x="159.98" y="341.74" width="8.98" height="6.78" fill="#e2e2ff"/>
<rect x="168.36" y="341.74" width="8.98" height="6.78" fill="#faf9fd"/>
<rect x="176.74" y="341.74" width="8.98" height="6.78" fill="#faf9fd"/>
<rect x="185.12" y="341.74" width="8.98" height="6.78" fill="#ffe9e9"/>
<rect x="193.50" y="341.74" width="8.98" height="6.78" fill="#e2e2ff"/>
<rect x="201.88" y="341.74" width="8.98" height="6.78" fill="#ffcccc"/>
<rect x="210.26" y="341.74" width="8.38" height="6.78" fill="#ffcccc"/>
<rect x="151.60" y="347.92" width="8.98" height="6.78" fill="#a4a4ff"/>
<rect x="159.98" y="347.92" width="8.98" height="6.78" fill="#ffe9e9"/>
<rect x="168.36" y="347.92" width="8.98" height="6.78" fill="#ffe9e9"/>
<rect x="176.74" y="347.92" width="8.98" height="6.78" fill="#ffcccc"/>
<rect x="185.12" y="347.92" width="8.98" height="6.78" fill="#ffcccc"/>
<rect x="193.50" y="347.92" width="8.98" height="6.78" fill="#faf9fd"/>
<rect x="201.88" y="347.92" width="8.98" height="6.78" fill="#ffe9e9"/>
<rect x="210.26" y="347.92" width="8.38" height="6.78" fill="#ffe9e9"/>
<rect x="151.60" y="354.10" width="8.98" height="6.78" fill="#e2e2ff"/>
<rect x="159.98" y="354.10" width="8.98" height="6.78" fill="#ffe9e9"/>
<rect x="168.36" y="354.10" width="8.98" height="6.78" fill="#faf9fd"/>
<rect x="176.74" y="354.10" width="8.98" height="6.78" fill="#e2e2ff"/>
<rect x="185.12" y="354.10" width="8.98" height="6.78" fill="#ffe9e9"/>
<rect x="193.50" y="354.10" width="8.98" height="6.78" fill="#ffcccc"/>
<rect x="201.88" y="354.10" width="8.98" height="6.78" fill="#faf9fd"/>
<rect x="210.26" y="354.10" width="8.38" height="6.78" fill="#ffe9e9"/>
<rect x="151.60" y="360.28" width="8.98" height="6.78" fill="#ffe9e9"/>
<rect x="159.98" y="360.28" width="8.98" height="6.78" fill="#faf9fd"/>
<rect x="168.36" y="360.28" width="8.98" height="6.78" fill="#ffe9e9"/>
<rect x="176.74" y="360.28" width="8.98" height="6.78" fill="#ffcccc"/>
<rect x="185.12" y="360.28" width="8.98" height="6.78" fill="#ffe9e9"/>
<rect x="193.50" y="360.28" width="8.98" height="6.78" fill="#e2e2ff"/>
<rect x="201.88" y="360.28" width="8.98" height="6.78" fill="#e2e2ff"/>
<rect x="210.26" y="360.28" width="8.38" height="6.78" fill="#ffe9e9"/>
<rect x="151.60" y="366.46" width="8.98" height="6.78" fill="#ffe9e9"/>
<rect x="159.98" y="366.46" width="8.98" height="6.78" fill="#c6c6ff"/>
<rect x="168.36" y="366.46" width="8.98" height="6.78" fill="#ffe9e9"/>
<rect x="176.74" y="366.46" width="8.98" height="6.78" fill="#ffcccc"/>
<rect x="185.12" y="366.46" width="8.98" height="6.78" fill="#ffcccc"/>
<rect x="193.50" y="366.46" width="8.98" height="6.78" fill="#ffe9e9"/>
<rect x="201.88" y="366.46" width="8.98" height="6.78" fill="#ffa6a6"/>
<rect x="210.26" y="366.46" width="8.38" height="6.78" fill="#ffcccc"/>
<rect x="151.60" y="372.64" width="8.98" height="6.78" fill="#ffe9e9"/>
<rect x="159.98" y="372.64" width="8.98" height="6.78" fill="#ffcccc"/>
<rect x="168.36" y="372.64" width="8.98" height="6.78" fill="#ffe9e9"/>
<rect x="176.74" y="372.64" width="8.98" height="6.78" fill="#ffa6a6"/>
<rect x="185.12" y="372.64" width="8.98" height="6.78" fill="#faf9fd"/>
<rect x="193.50" y="372.64" width="8.98" height="6.78" fill="#e2e2ff"/>
<rect x="201.88" y="372.64" width="8.98" height="6.78" fill="#ffe9e9"/>
<rect x="210.26" y="372.64" width="8.38" height="6.78" fill="#e2e2ff"/>
<rect x="151.60" y="378.82" width="8.98" height="6.18" fill="#a4a4ff"/>
<rect x="159.98" y="378.82" width="8.98" height="6.18" fill="#e2e2ff"/>
<rect x="168.36" y="378.82" width="8.98" height="6.18" fill="#ffcccc"/>
<rect x="176.74" y="378.82" width="8.98" height="6.18" fill="#ffcccc"/>
<rect x="185.12" y="378.82" width="8.98" height="6.18" fill="#faf9fd"/>
<rect x="193.50" y="378.82" width="8.98" height="6.18" fill="#faf9fd"/>
<rect x="201.88" y="378.82" width="8.98" height="6.18" fill="#faf9fd"/>
<rect x="210.26" y="378.82" width="8.38" height="6.18" fill="#ffe9e9"/>
<rect x="223.40" y="14.20" width="8.98" height="6.78" fill="#ffcccc"/>
<rect x="231.78" y="14.20" width="8.98" height="6.78" fill="#ffcccc"/>
<rect x="240.16" y="14.20" width="8.98" height="6.78" fill="#ffe9e9"/>
<rect x="248.54" y="14.20" width="8.98" height="6.78" fill="#ffcccc"/>
<rect x="256.92" y="14.20" width="8.38" height="6.78" fill="#ffcccc"/>
<rect x="223.40" y="20.38" width="8.98" height="6.78" fill="#ffa6a6"/>
<rect x="231.78" y="20.38" width="8.98" height="6.78" fill="#ffcccc"/>
<rect x="240.16" y="20.38" width="8.98" height="6.78" fill="#ffe9e9"/>
<rect x="248.54" y="20.38" width="8.98" height="6.78" fill="#ffe9e9"/>
<rect x="256.92" y="20.38" width="8.38" height="6.78" fill="#ffcccc"/>
<rect x="223.40" y="26.56" width="8.98" height="6.78" fill="#ffe9e9"/>
<rect x="231.78" y="26.56" width="8.98" height="6.78" fill="#faf9fd"/>
<rect x="240.16" y="26.56" width="8.98" height="6.78" fill="#ffcccc"/>
<rect x="248.54" y="26.56" width="8.98" height="6.78" fill="#ffcccc"/>
<rect x="256.92" y="26.56" width="8.38" height="6.78" fill="#ff7c7c"/>
<rect x="223.40" y="32.74" width="8.98" height="6.78" fill="#ffe9e9"/>
<rect x="231.78" y="32.74" width="8.98" height="6.78" fill="#ffcccc"/>
<rect x="240.16" y="32.74" width="8.98" height="6.78" fill="#ffcccc"/>
<rect x="248.54" y="32.74" width="8.98" height="6.78" fill="#ffcccc"/>
<rect x="256.92" y="32.74" width="8.38" height="6.78" fill="#faf9fd"/>
<rect x="223.40" y="38.92" width="8.98" height="6.78" fill="#ffcccc"/>
<rect x="231.78" y="38.92" width="8.98" height="6.78" fill="#ffa6a6"/>
<rect x="240.16" y="38.92" width="8.98" height="6.78" fill="#ffcccc"/>
<rect x="248.54" y="38.92" width="8.98" height="6.78" fill="#ffa6a6"/>
<rect x="256.92" y="38.92" width="8.38" height="6.78" fill="#ffe9e9"/>
<rect x="223.40" y="45.10" width="8.98" height="6.78" fill="#ffcccc"/>
<rect x="231.78" y="45.10" width="8.98" height="6.78" fill="#ffcccc"/>
<rect x="240.16" y="45.10" width="8.98" height="6.78" fill="#ffcccc"/>
<rect x="248.54" y="45.10" width="8.98" height="6.78" fill="#ffcccc"/>
<rect x="256.92" y="45.10" width="8.38" height="6.78" fill="#ffa6a6"/>
<rect x="223.40" y="51.28" width="8.98" height="6.78" fill="#ff7c7c"/>
<rect x="231.78" y="51.28" width="8.98" height="6.78" fill="#ff7c7c"/>
<rect x="240.16" y="51.28" width="8.98" height="6.78" fill="#ffe9e9"/>
<rect x="248.54" y="51.28" width="8.98" height="6.78" fill="#ffa6a6"/>
<rect x="256.92" y="51.28" width="8.38" height="6.78" fill="#ffcccc"/>
<rect x="223.40" y="57.46" width="8.98" height="6.78" fill="#ffe9e9"/>
<rect x="231.78" y="57.46" width="8.98" height="6.78" fill="#ffe9e9"/>
<rect x="240.16" y="57.46" width="8.98" height="6.78" fill="#ffa6a6"/>
<rect x="248.54" y="57.46" width="8.98" height="6.78" fill="#ffcccc"/>
<rect x="256.92" y="57.46" width="8.38" height="6.78" fill="#ff7c7c"/>
<rect x="223.40" y="63.64" width="8.98" height="6.78" fill="#ffa6a6"/>
<rect x="231.78" y="63.64" width="8.98" height="6.78" fill="#ffcccc"/>
<rect x="240.16" y="63.64" width="8.98" height="6.78" fill="#faf9fd"/>
<rect x="248.54" y="63.64" width="8.98" height="6.78" fill="#ffa6a6"/>
<rect x="256.92" y="63.64" width="8.38" height="6.78" fill="#ffcccc"/>
<rect x="223.40" y="69.82" width="8.98" height="6.78" fill="#ffa6a6"/>
<rect x="231.78" y="69.82" width="8.98" height="6.78" fill="#ffcccc"/>
<rect x="240.16" y="69.82" width="8.98" height="6.78" fill="#ffa6a6"/>
<rect x="248.54" y="69.82" width="8.98" height="6.78" fill="#ffa6a6"/>
<rect x="256.92" y="69.82" width="8.38" height="6.78" fill="#ffcccc"/>
<rect x="223.40" y="76" width="8.98" height="6.78" fill="#faf9fd"/>
<rect x="231.78" y="76" width="8.98" height="6.78" fill="#ffa6a6"/>
<rect x="240.16" y="76" width="8.98" height="6.78" fill="#ffe9e9"/>
<rect x="248.54" y="76" width="8.98" height="6.78" fill="#ffcccc"/>
<rect x="256.92" y="76" width="8.38" height="6.78" fill="#ffe9e9"/>
<rect x="223.40" y="82.18" width="8.98" height="6.78" fill="#e2e2ff"/>
<rect x="231.78" y="82.18" width="8.98" height="6.78" fill="#ffcccc"/>
<rect x="240.16" y="82.18" width="8.98" height="6.78" fill="#ffa6a6"/>
<rect x="248.54" y="82.18" width="8.98" height="6.78" fill="#ffcccc"/>
<rect x="256.92" y="82.18" width="8.38" height="6.78" fill="#ff7c7c"/>
<rect x="223.40" y="88.36" width="8.98" height="6.78" fill="#ffe9e9"/>
<rect x="231.78" y="88.36" width="8.98" height="6.78" fill="#ffa6a6"/>
<rect x="240.16" y="88.36" width="8.98" height="6.78" fill="#ffa6a6"/>
<rect x="248.54" y="88.36" width="8.98" height="6.78" fill="#ffcccc"/>
<rect x="256.92" y="88.36" width="8.38" height="6.78" fill="#ffcccc"/>
<rect x="223.40" y="94.54" width="8.98" height="6.78" fill="#ff7c7c"/>
<rect x="231.78" y="94.54" width="8.98" height="6.78" fill="#ff7c7c"/>
<rect x="240.16" y="94.54" width="8.98" height="6.78" fill="#ffcccc"/>
<rect x="248.54" y="94.54" width="8.98" height="6.78" fill="#ff7c7c"/>
<rect x="256.92" y="94.54" width="8.38" height="6.78" fill="#ff7c7c"/>
<rect x="223.40" y="100.72" width="8.98" height="6.78" fill="#faf9fd"/>
<rect x="231.78" y="100.72" width="8.98" height="6.78" fill="#ffe9e9"/>
<rect x="240.16" y="100.72" width="8.98" height="6.78" fill="#ffa6a6"/>
<rect x="248.54" y="100.72" width="8.98" height="6.78" fill="#ffcccc"/>
<rect x="256.92" y="100.72" width="8.38" height="6.78" fill="#ff7c7c"/>
<rect x="223.40" y="106.90" width="8.98" height="6.78" fill="#ffcccc"/>
<rect x="231.78" y="106.90" width="8.98" height="6.78" fill="#ffcccc"/>
<rect x="240.16" y="106.90" width="8.98" height="6.78" fill="#ffe9e9"/>
<rect x="248.54" y="106.90" width="8.98" height="6.78" fill="#ffa6a6"/>
<rect x="256.92" y="106.90" width="8.38" height="6.78" fill="#ffcccc"/>
<rect x="223.40" y="113.08" width="8.98" height="6.78" fill="#ffcccc"/>
<rect x="231.78" y="113.08" width="8.98" height="6.78" fill="#ffcccc"/>
<rect x="240.16" y="113.08" width="8.98" height="6.78" fill="#ffa6a6"/>
<rect x="248.54" y="113.08" width="8.98" height="6.78" fill="#ffa6a6"/>
<rect x="256.92" y="113.08" width="8.38" height="6.78" fill="#ffe9e9"/>
<rect x="223.40" y="119.26" width="8.98" height="6.78" fill="#ffa6a6"/>
<rect x="231.78" y="119.26" width="8.98" height="6.78" fill="#ffcccc"/>
<rect x="240.16" y="119.26" width="8.98" height="6.78" fill="#ffcccc"/>
<rect x="248.54" y="119.26" width="8.98" height="6.78" fill="#ffa6a6"/>
<rect x="256.92" y="119.26" width="8.38" height="6.78" fill="#faf9fd"/>
<rect x="223.40" y="125.44" width="8.98" height="6.78" fill="#ffcccc"/>
<rect x="231.78" y="125.44" width="8.98" height="6.78" fill="#ffe9e9"/>
<rect x="240.16" y="125.44" width="8.98" height="6.78" fill="#ffcccc"/>
<rect x="248.54" y="125.44" width="8.98" height="6.78" fill="#ffcccc"/>
<rect x="256.92" y="125.44" width="8.38" height="6.78" fill="#ffa6a6"/>
<rect x="223.40" y="131.62" width="8.98" height="6.78" fill="#ffa6a6"/>
<rect x="231.78" y="131.62" width="8.98" height="6.78" fill="#ffcccc"/>
<rect x="240.16" y="131.62" width="8.98" height="6.78" fill="#ffcccc"/>
<rect x="248.54" y="131.62" width="8.98" height="6.78" fill="#ffa6a6"/>
<rect x="256.92" y="131.62" width="8.38" height="6.78" fill="#ffcccc"/>
<rect x="223.40" y="137.80" width="8.98" height="6.78" fill="#ffa6a6"/>
<rect x="231.78" y="137.80" width="8.98" height="6.78" fill="#ff0c0c"/>
<rect x="240.16" y="137.80" width="8.98" height="6.78" fill="#ffa6a6"/>
<rect x="248.54" y="137.80" width="8.98" height="6.78" fill="#ff7c7c"/>
<rect x="256.92" y="137.80" width="8.38" height="6.78" fill="#ffe9e9"/>
<rect x="223.40" y="143.98" width="8.98" height="6.78" fill="#ffe9e9"/>
<rect x="231.78" y="143.98" width="8.98" height="6.78" fill="#faf9fd"/>
<rect x="240.16" y="143.98" width="8.98" height="6.78" fill="#ffcccc"/>
<rect x="248.54" y="143.98" width="8.98" height="6.78" fill="#ffe9e9"/>
<rect x="256.92" y="143.98" width="8.38" height="6.78" fill="#ffa6a6"/>
<rect x="223.40" y="150.16" width="8.98" height="6.78" fill="#ffcccc"/>
<rect x="231.78" y="150.16" width="8.98" height="6.78" fill="#ffcccc"/>
<rect x="240.16" y="150.16" width="8.98" height="6.78" fill="#ffa6a6"/>
<rect x="248.54" y="150.16" width="8.98" height="6.78" fill="#ffe9e9"/>
<rect x="256.92" y="150.16" width="8.38" height="6.78" fill="#ff7c7c"/>
<rect x="223.40" y="156.34" width="8.98" height="6.78" fill="#ffa6a6"/>
<rect x="231.78" y="156.34" width="8.98" height="6.78" fill="#ffa6a6"/>
<rect x="240.16" y="156.34" width="8.98" height="6.78" fill="#ffa6a6"/>
<rect x="248.54" y="156.34" width="8.98" height="6.78" fill="#ffcccc"/>
<rect x="256.92" y="156.34" width="8.38" height="6.78" fill="#ffa6a6"/>
<rect x="223.40" y="162.52" width="8.98" height="6.78" fill="#ffcccc"/>
<rect x="231.78" y="162.52" width="8.98" height="6.78" fill="#ffa6a6"/>
<rect x="240.16" y="162.52" width="8.98" height="6.78" fill="#faf9fd"/>
<rect x="248.54" y="162.52" width="8.98" height="6.78" fill="#ffe9e9"/>
<rect x="256.92" y="162.52" width="8.38" height="6.78" fill="#ffa6a6"/>
<rect x="223.40" y="168.70" width="8.98" height="6.78" fill="#ffcccc"/>
<rect x="231.78" y="168.70" width="8.98" height="6.78" fill="#ffcccc"/>
<rect x="240.16" y="168.70" width="8.98" height="6.78" fill="#ffe9e9"/>
<rect x="248.54" y="168.70" width="8.98" height="6.78" fill="#ffcccc"/>
<rect x="256.92" y="168.70" width="8.38" height="6.78" fill="#ffcccc"/>
<rect x="223.40" y="174.88" width="8.98" height="6.78" fill="#faf9fd"/>
<rect x="231.78" y="174.88" width="8.98" height="6.78" fill="#ffe9e9"/>
<rect x="240.16" y="174.88" width="8.98" height="6.78" fill="#ffcccc"/>
<rect x="248.54" y="174.88" width="8.98" height="6.78" fill="#ffcccc"/>
<rect x="256.92" y="174.88" width="8.38" height="6.78" fill="#e2e2ff"/>
<rect x="223.40" y="181.06" width="8.98" height="6.78" fill="#ffcccc"/>
<rect x="231.78" y="181.06" width="8.98" height="6.78" fill="#ffcccc"/>
<rect x="240.16" y="181.06" width="8.98" height="6.78" fill="#ffcccc"/>
<rect x="248.54" y="181.06" width="8.98" height="6.78" fill="#ff7c7c"/>
<rect x="256.92" y="181.06" width="8.38" height="6.78" fill="#ff7c7c"/>
<rect x="223.40" y="187.24" width="8.98" height="6.78" fill="#ff7c7c"/>
<rect x="231.78" y="187.24" width="8.98" height="6.78" fill="#ffe9e9"/>
<rect x="240.16" y="187.24" width="8.98" height="6.78" fill="#ffcccc"/>
<rect x="248.54" y="187.24" width="8.98" height="6.78" fill="#ffcccc"/>
<rect x="256.92" y="187.24" width="8.38" height="6.78" fill="#ffa6a6"/>
<rect x="223.40" y="193.42" width="8.98" height="6.78" fill="#ffcccc"/>
<rect x="231.78" y="193.42" width="8.98" height="6.78" fill="#ffe9e9"/>
<rect x="240.16" y="193.42" width="8.98" height="6.78" fill="#ffcccc"/>
<rect x="248.54" y="193.42" width="8.98" height="6.78" fill="#ffa6a6"/>
<rect x="256.92" y="193.42" width="8.38" height="6.78" fill="#ffa6a6"/>
<rect x="223.40" y="199.60" width="8.98" height="6.78" fill="#ffe9e9"/>
<rect x="231.78" y="199.60" width="8.98" height="6.78" fill="#ff7c7c"/>
<rect x="240.16" y="199.60" width="8.98" height="6.78" fill="#ffe9e9"/>
<rect x="248.54" y="199.60" width="8.98" height="6.78" fill="#ff7c7c"/>
<rect x="256.92" y="199.60" width="8.38" height="6.78" fill="#a4a4ff"/>
<rect x="223.40" y="205.78" width="8.98" height="6.78" fill="#ff7c7c"/>
<rect x="231.78" y="205.78" width="8.98" height="6.78" fill="#ffe9e9"/>
<rect x="240.16" y="205.78" width="8.98" height="6.78" fill="#ffe9e9"/>
<rect x="248.54" y="205.78" width="8.98" height="6.78" fill="#ffe9e9"/>
<rect x="256.92" y="205.78" width="8.38" height="6.78" fill="#ffcccc"/>
<rect x="223.40" y="211.96" width="8.98" height="6.78" fill="#ffcccc"/>
<rect x="231.78" y="211.96" width="8.98" height="6.78" fill="#ffcccc"/>
<rect x="240.16" y="211.96" width="8.98" height="6.78" fill="#ffe9e9"/>
<rect x="248.54" y="211.96" width="8.98" height="6.78" fill="#ffe9e9"/>
<rect x="256.92" y="211.96" width="8.38" height="6.78" fill="#ffa6a6"/>
<rect x="223.40" y="218.14" width="8.98" height="6.78" fill="#ffcccc"/>
<rect x="231.78" y="218.14" width="8.98" height="6.78" fill="#ffcccc"/>
<rect x="240.16" y="218.14" width="8.98" height="6.78" fill="#ffe9e9"/>
<rect x="248.54" y="218.14" width="8.98" height="6.78" fill="#ffcccc"/>
<rect x="256.92" y="218.14" width="8.38" height="6.78" fill="#ffe9e9"/>
<rect x="223.40" y="224.32" width="8.98" height="6.78" fill="#ffcccc"/>
<rect x="231.78" y="224.32" width="8.98" height="6.78" fill="#ffcccc"/>
<rect x="240.16" y="224.32" width="8.98" height="6.78" fill="#ffe9e9"/>
<rect x="248.54" y="224.32" width="8.98" height="6.78" fill="#ffe9e9"/>
<rect x="256.92" y="224.32" width="8.38" height="6.78" fill="#ffa6a6"/>
<rect x="223.40" y="230.50" width="8.98" height="6.78" fill="#ffa6a6"/>
<rect x="231.78" y="230.50" width="8.98" height="6.78" fill="#ffcccc"/>
<rect x="240.16" y="230.50" width="8.98" height="6.78" fill="#ffcccc"/>
<rect x="248.54" y="230.50" width="8.98" height="6.78" fill="#ffa6a6"/>
<rect x="256.92" y="230.50" width="8.38" height="6.78" fill="#ffa6a6"/>
<rect x="223.40" y="236.68" width="8.98" height="6.78" fill="#7a7aff"/>
<rect x="231.78" y="236.68" width="8.98" height="6.78" fill="#e2e2ff"/>
<rect x="240.16" y="236.68" width="8.98" height="6.78" fill="#ffa6a6"/>
<rect x="248.54" y="236.68" width="8.98" height="6.78" fill="#ffa6a6"/>
<rect x="256.92" y="236.68" width="8.38" height="6.78" fill="#ff0c0c"/>
<rect x="223.40" y="242.86" width="8.98" height="6.78" fill="#ffcccc"/>
<rect x="231.78" y="242.86" width="8.98" height="6.78" fill="#ffe9e9"/>
<rect x="240.16" y="242.86" width="8.98" height="6.78" fill="#ff7c7c"/>
<rect x="248.54" y="242.86" width="8.98" height="6.78" fill="#ffa6a6"/>
<rect x="256.92" y="242.86" width="8.38" height="6.78" fill="#ff7c7c"/>
<rect x="223.40" y="249.04" width="8.98" height="6.78" fill="#ffcccc"/>
<rect x="231.78" y="249.04" width="8.98" height="6.78" fill="#ffe9e9"/>
<rect x="240.16" y="249.04" width="8.98" height="6.78" fill="#ff7c7c"/>
<rect x="248.54" y="249.04" width="8.98" height="6.78" fill="#ffcccc"/>
<rect x="256.92" y="249.04" width="8.38" height="6.78" fill="#ff7c7c"/>
<rect x="223.40" y="255.22" width="8.98" height="6.78" fill="#ffa6a6"/>
<rect x="231.78" y="255.22" width="8.98" height="6.78" fill="#ffcccc"/>
<rect x="240.16" y="255.22" width="8.98" height="6.78" fill="#7a7aff"/>
<rect x="248.54" y="255.22" width="8.98" height="6.78" fill="#e2e2ff"/>
<rect x="256.92" y="255.22" width="8.38" height="6.78" fill="#ff7c7c"/>
<rect x="223.40" y="261.40" width="8.98" height="6.78" fill="#ff7c7c"/>
<rect x="231.78" y="261.40" width="8.98" height="6.78" fill="#ffa6a6"/>
<rect x="240.16" y="261.40" width="8.98" height="6.78" fill="#ffa6a6"/>
<rect x="248.54" y="261.40" width="8.98" height="6.78" fill="#ff7c7c"/>
<rect x="256.92" y="261.40" width="8.38" height="6.78" fill="#ff7c7c"/>
<rect x="223.40" y="267.58" width="8.98" height="6.78" fill="#ffcccc"/>
<rect x="231.78" y="267.58" width="8.98" height="6.78" fill="#ffcccc"/>
<rect x="240.16" y="267.58" width="8.98" height="6.78" fill="#faf9fd"/>
<rect x="248.54" y="267.58" width="8.98" height="6.78" fill="#ffe9e9"/>
<rect x="256.92" y="267.58" width="8.38" height="6.78" fill="#ffe9e9"/>
<rect x="223.40" y="273.76" width="8.98" height="6.78" fill="#faf9fd"/>
<rect x="231.78" y="273.76" width="8.98" height="6.78" fill="#ffcccc"/>
<rect x="240.16" y="273.76" width="8.98" height="6.78" fill="#ff7c7c"/>
<rect x="248.54" y="273.76" width="8.98" height="6.78" fill="#ffa6a6"/>
<rect x="256.92" y="273.76" width="8.38" height="6.78" fill="#ff4a4a"/>
<rect x="223.40" y="279.94" width="8.98" height="6.78" fill="#ffe9e9"/>
<rect x="231.78" y="279.94" width="8.98" height="6.78" fill="#ffcccc"/>
<rect x="240.16" y="279.94" width="8.98" height="6.78" fill="#ffcccc"/>
<rect x="248.54" y="279.94" width="8.98" height="6.78" fill="#ffcccc"/>
<rect x="256.92" y="279.94" width="8.38" height="6.78" fill="#ff4a4a"/>
<rect x="223.40" y="286.12" width="8.98" height="6.78" fill="#ffcccc"/>
<rect x="231.78" y="286.12" width="8.98" height="6.78" fill="#ffa6a6"/>
<rect x="240.16" y="286.12" width="8.98" height="6.78" fill="#ffa6a6"/>
<rect x="248.54" y="286.12" width="8.98" height="6.78" fill="#ffa6a6"/>
<rect x="256.92" y="286.12" width="8.38" height="6.78" fill="#ff7c7c"/>
<rect x="223.40" y="292.30" width="8.98" height="6.78" fill="#ffe9e9"/>
<rect x="231.78" y="292.30" width="8.98" height="6.78" fill="#ffa6a6"/>
<rect x="240.16" y="292.30" width="8.98" height="6.78" fill="#faf9fd"/>
<rect x="248.54" y="292.30" width="8.98" height="6.78" fill="#ffcccc"/>
<rect x="256.92" y="292.30" width="8.38" height="6.78" fill="#faf9fd"/>
<rect x="223.40" y="298.48" width="8.98" height="6.78" fill="#ffcccc"/>
<rect x="231.78" y="298.48" width="8.98" height="6.78" fill="#ffa6a6"/>
<rect x="240.16" y="298.48" width="8.98" height="6.78" fill="#ffe9e9"/>
<rect x="248.54" y="298.48" width="8.98" height="6.78" fill="#ffcccc"/>
<rect x="256.92" y="298.48" width="8.38" height="6.78" fill="#ffcccc"/>
<rect x="223.40" y="304.66" width="8.98" height="6.78" fill="#ffe9e9"/>
<rect x="231.78" y="304.66" width="8.98" height="6.78" fill="#ffcccc"/>
<rect x="240.16" y="304.66" width="8.98" height="6.78" fill="#ffcccc"/>
<rect x="248.54" y="304.66" width="8.98" height="6.78" fill="#ffcccc"/>
<rect x="256.92" y="304.66" width="8.38" height="6.78" fill="#ff7c7c"/>
<rect x="223.40" y="310.84" width="8.98" height="6.78" fill="#faf9fd"/>
<rect x="231.78" y="310.84" width="8.98" height="6.78" fill="#ffcccc"/>
<rect x="240.16" y="310.84" width="8.98" height="6.78" fill="#ffa6a6"/>
<rect x="248.54" y="310.84" width="8.98" height="6.78" fill="#ff7c7c"/>
<rect x="256.92" y="310.84" width="8.38" height="6.78" fill="#ffe9e9"/>
<rect x="223.40" y="317.02" width="8.98" height="6.78" fill="#ffe9e9"/>
<rect x="231.78" y="317.02" width="8.98" height="6.78" fill="#ffe9e9"/>
<rect x="240.16" y="317.02" width="8.98" height="6.78" fill="#ffe9e9"/>
<rect x="248.54" y="317.02" width="8.98" height="6.78" fill="#ffcccc"/>
<rect x="256.92" y="317.02" width="8.38" height="6.78" fill="#c6c6ff"/>
<rect x="223.40" y="323.20" width="8.98" height="6.78" fill="#ffa6a6"/>
<rect x="231.78" y="323.20" width="8.98" height="6.78" fill="#faf9fd"/>
<rect x="240.16" y="323.20" width="8.98" height="6.78" fill="#ffcccc"/>
<rect x="248.54" y="323.20" width="8.98" height="6.78" fill="#ffcccc"/>
<rect x="256.92" y="323.20" width="8.38" height="6.78" fill="#ffa6a6"/>
<rect x="223.40" y="329.38" width="8.98" height="6.78" fill="#ff7c7c"/>
<rect x="231.78" y="329.38" width="8.98" height="6.78" fill="#ff7c7c"/>
<rect x="240.16" y="329.38" width="8.98" height="6.78" fill="#ffcccc"/>
<rect x="248.54" y="329.38" width="8.98" height="6.78" fill="#ffa6a6"/>
<rect x="256.92" y="329.38" width="8.38" height="6.78" fill="#ffa6a6"/>
<rect x="223.40" y="335.56" width="8.98" height="6.78" fill="#ffe9e9"/>
<rect x="231.78" y="335.56" width="8.98" height="6.78" fill="#ffcccc"/>
<rect x="240.16" y="335.56" width="8.98" height="6.78" fill="#ffcccc"/>
<rect x="248.54" y="335.56" width="8.98" height="6.78" fill="#ffcccc"/>
<rect x="256.92" y="335.56" width="8.38" height="6.78" fill="#ffe9e9"/>
<rect x="223.40" y="341.74" width="8.98" height="6.78" fill="#ffcccc"/>
<rect x="231.78" y="341.74" width="8.98" height="6.78" fill="#ffe9e9"/>
<rect x="240.16" y="341.74" width="8.98" height="6.78" fill="#ffcccc"/>
<rect x="248.54" y="341.74" width="8.98" height="6.78" fill="#ffe9e9"/>
<rect x="256.92" y="341.74" width="8.38" height="6.78" fill="#ffa6a6"/>
<rect x="223.40" y="347.92" width="8.98" height="6.78" fill="#ffcccc"/>
<rect x="231.78" y="347.92" width="8.98" height="6.78" fill="#ffcccc"/>
<rect x="240.16" y="347.92" width="8.98" height="6.78" fill="#ffe9e9"/>
<rect x="248.54" y="347.92" width="8.98" height="6.78" fill="#ffcccc"/>
<rect x="256.92" y="347.92" width="8.38" height="6.78" fill="#ffe9e9"/>
<rect x="223.40" y="354.10" width="8.98" height="6.78" fill="#ff7c7c"/>
<rect x="231.78" y="354.10" width="8.98" height="6.78" fill="#ffa6a6"/>
<rect x="240.16" y="354.10" width="8.98" height="6.78" fill="#ffcccc"/>
<rect x="248.54" y="354.10" width="8.98" height="6.78" fill="#ffcccc"/>
<rect x="256.92" y="354.10" width="8.38" height="6.78" fill="#ff7c7c"/>
<rect x="223.40" y="360.28" width="8.98" height="6.78" fill="#ffe9e9"/>
<rect x="231.78" y="360.28" width="8.98" height="6.78" fill="#ffe9e9"/>
<rect x="240.16" y="360.28" width="8.98" height="6.78" fill="#ffe9e9"/>
<rect x="248.54" y="360.28" width="8.98" height="6.78" fill="#ffe9e9"/>
<rect x="256.92" y="360.28" width="8.38" height="6.78" fill="#ffe9e9"/>
<rect x="223.40" y="366.46" width="8.98" height="6.78" fill="#ffcccc"/>
<rect x="231.78" y="366.46" width="8.98" height="6.78" fill="#faf9fd"/>
<rect x="240.16" y="366.46" width="8.98" height="6.78" fill="#ffcccc"/>
<rect x="248.54" y="366.46" width="8.98" height="6.78" fill="#ffe9e9"/>
<rect x="256.92" y="366.46" width="8.38" height="6.78" fill="#ffcccc"/>
<rect x="223.40" y="372.64" width="8.98" height="6.78" fill="#ffcccc"/>
<rect x="231.78" y="372.64" width="8.98" height="6.78" fill="#ffcccc"/>
<rect x="240.16" y="372.64" width="8.98" height="6.78" fill="#ffe9e9"/>
<rect x="248.54" y="372.64" width="8.98" height="6.78" fill="#ffa6a6"/>
<rect x="256.92" y="372.64" width="8.38" height="6.78" fill="#ffe9e9"/>
<rect x="223.40" y="378.82" width="8.98" height="6.18" fill="#e2e2ff"/>
<rect x="231.78" y="378.82" width="8.98" height="6.18" fill="#ffcccc"/>
<rect x="240.16" y="378.82" width="8.98" height="6.18" fill="#ffe9e9"/>
<rect x="248.54" y="378.82" width="8.98" height="6.18" fill="#ffa6a6"/>
<rect x="256.92" y="378.82" width="8.38" height="6.18" fill="#ffe9e9"/>
<text x="266.60" y="19.30" font-size="5.35" text-anchor="start" fill="#111" >ADGRE5</text>
<text x="266.60" y="25.49" font-size="5.35" text-anchor="start" fill="#111" >CD44</text>
<text x="266.60" y="31.69" font-size="5.35" text-anchor="start" fill="#111" >CSF3R</text>
<text x="266.60" y="37.88" font-size="5.35" text-anchor="start" fill="#111" >CX3CL1</text>
<text x="266.60" y="44.08" font-size="5.35" text-anchor="start" fill="#111" >ICAM1</text>
<text x="266.60" y="50.27" font-size="5.35" text-anchor="start" fill="#111" >ITGAX</text>
<text x="266.60" y="56.47" font-size="5.35" text-anchor="start" fill="#111" >LIF</text>
<text x="266.60" y="62.66" font-size="5.35" text-anchor="start" fill="#111" >SELL</text>
<text x="266.60" y="68.86" font-size="5.35" text-anchor="start" fill="#111" >THBS1</text>
<text x="266.60" y="75.06" font-size="5.35" text-anchor="start" fill="#111" >CD83</text>
<text x="266.60" y="81.25" font-size="5.35" text-anchor="start" fill="#111" >DUSP6</text>
<text x="266.60" y="87.45" font-size="5.35" text-anchor="start" fill="#111" >TNFRSF10C</text>
<text x="266.60" y="93.64" font-size="5.35" text-anchor="start" fill="#111" >CCL18</text>
<text x="266.60" y="99.84" font-size="5.35" text-anchor="start" fill="#111" >CXCL8</text>
<text x="266.60" y="106.03" font-size="5.35" text-anchor="start" fill="#111" >CXCR1</text>
<text x="266.60" y="112.23" font-size="5.35" text-anchor="start" fill="#111" >THBD</text>
<text x="266.60" y="118.42" font-size="5.35" text-anchor="start" fill="#111" >IRF1</text>
<text x="266.60" y="124.62" font-size="5.35" text-anchor="start" fill="#111" >IRF4</text>
<text x="266.60" y="130.81" font-size="5.35" text-anchor="start" fill="#111" >IL1R2</text>
<text x="266.60" y="137.01" font-size="5.35" text-anchor="start" fill="#111" >CCL2</text>
<text x="266.60" y="143.20" font-size="5.35" text-anchor="start" fill="#111" >CCL20</text>
<text x="266.60" y="149.40" font-size="5.35" text-anchor="start" fill="#111" >CCL3</text>
<text x="266.60" y="155.59" font-size="5.35" text-anchor="start" fill="#111" >CCL3L1</text>
<text x="266.60" y="161.79" font-size="5.35" text-anchor="start" fill="#111" >CCL4</text>
<text x="266.60" y="167.98" font-size="5.35" text-anchor="start" fill="#111" >CREB5</text>
<text x="266.60" y="174.18" font-size="5.35" text-anchor="start" fill="#111" >CXCL1</text>
<text x="266.60" y="180.37" font-size="5.35" text-anchor="start" fill="#111" >CXCL2</text>
<text x="266.60" y="186.57" font-size="5.35" text-anchor="start" fill="#111" >CXCL3</text>
<text x="266.60" y="192.76" font-size="5.35" text-anchor="start" fill="#111" >CXCR4</text>
<text x="266.60" y="198.96" font-size="5.35" text-anchor="start" fill="#111" >IL1RL1</text>
<text x="266.60" y="205.15" font-size="5.35" text-anchor="start" fill="#111" >IL1RN</text>
<text x="266.60" y="211.35" font-size="5.35" text-anchor="start" fill="#111" >IL7R</text>
<text x="266.60" y="217.54" font-size="5.35" text-anchor="start" fill="#111" >LILRA5</text>
<text x="266.60" y="223.74" font-size="5.35" text-anchor="start" fill="#111" >NFKBIA</text>
<text x="266.60" y="229.93" font-size="5.35" text-anchor="start" fill="#111" >NLRP3</text>
<text x="266.60" y="236.13" font-size="5.35" text-anchor="start" fill="#111" >PLAUR</text>
<text x="266.60" y="242.32" font-size="5.35" text-anchor="start" fill="#111" >PPBP</text>
<text x="266.60" y="248.52" font-size="5.35" text-anchor="start" fill="#111" >S100A12</text>
<text x="266.60" y="254.71" font-size="5.35" text-anchor="start" fill="#111" >S100A8</text>
<text x="266.60" y="260.90" font-size="5.35" text-anchor="start" fill="#111" >SPP1</text>
<text x="266.60" y="267.10" font-size="5.35" text-anchor="start" fill="#111" >TREM1</text>
<text x="266.60" y="273.29" font-size="5.35" text-anchor="start" fill="#111" >NFKB2</text>
<text x="266.60" y="279.49" font-size="5.35" text-anchor="start" fill="#111" >CXCR2</text>
<text x="266.60" y="285.68" font-size="5.35" text-anchor="start" fill="#111" >IL18RAP</text>
<text x="266.60" y="291.88" font-size="5.35" text-anchor="start" fill="#111" >FPR2</text>
<text x="266.60" y="298.07" font-size="5.35" text-anchor="start" fill="#111" >RELB</text>
<text x="266.60" y="304.27" font-size="5.35" text-anchor="start" fill="#111" >NFATC2</text>
<text x="266.60" y="310.46" font-size="5.35" text-anchor="start" fill="#111" >CSF2RB</text>
<text x="266.60" y="316.66" font-size="5.35" text-anchor="start" fill="#111" >MICB</text>
<text x="266.60" y="322.85" font-size="5.35" text-anchor="start" fill="#111" >ICOSLG</text>
<text x="266.60" y="329.05" font-size="5.35" text-anchor="start" fill="#111" >FOS</text>
<text x="266.60" y="335.24" font-size="5.35" text-anchor="start" fill="#111" >TNFAIP3</text>
<text x="266.60" y="341.44" font-size="5.35" text-anchor="start" fill="#111" >UBC</text>
<text x="266.60" y="347.63" font-size="5.35" text-anchor="start" fill="#111" >LILRB3</text>
<text x="266.60" y="353.83" font-size="5.35" text-anchor="start" fill="#111" >RIPK2</text>
<text x="266.60" y="360.02" font-size="5.35" text-anchor="start" fill="#111" >ANXA1</text>
<text x="266.60" y="366.22" font-size="5.35" text-anchor="start" fill="#111" >ARG2</text>
<text x="266.60" y="372.41" font-size="5.35" text-anchor="start" fill="#111" >EGR1</text>
<text x="266.60" y="378.61" font-size="5.35" text-anchor="start" fill="#111" >CDKN1A</text>
<text x="266.60" y="384.80" font-size="5.35" text-anchor="start" fill="#111" >CD274</text>
<text transform="translate(44.79,407.00) rotate(-90)" font-size="4.8" text-anchor="start" fill="#111">CON06</text>
<text transform="translate(53.17,407.00) rotate(-90)" font-size="4.8" text-anchor="start" fill="#111">CON20</text>
<text transform="translate(61.55,407.00) rotate(-90)" font-size="4.8" text-anchor="start" fill="#111">CON14</text>
<text transform="translate(69.93,407.00) rotate(-90)" font-size="4.8" text-anchor="start" fill="#111">CON17</text>
<text transform="translate(78.31,407.00) rotate(-90)" font-size="4.8" text-anchor="start" fill="#111">CON27</text>
<text transform="translate(86.69,407.00) rotate(-90)" font-size="4.8" text-anchor="start" fill="#111">CON13</text>
<text transform="translate(95.07,407.00) rotate(-90)" font-size="4.8" text-anchor="start" fill="#111">CON10</text>
<text transform="translate(103.45,407.00) rotate(-90)" font-size="4.8" text-anchor="start" fill="#111">CON21</text>
<text transform="translate(111.83,407.00) rotate(-90)" font-size="4.8" text-anchor="start" fill="#111">CON24</text>
<text transform="translate(120.21,407.00) rotate(-90)" font-size="4.8" text-anchor="start" fill="#111">CON09</text>
<text transform="translate(128.59,407.00) rotate(-90)" font-size="4.8" text-anchor="start" fill="#111">CON19</text>
<text transform="translate(136.97,407.00) rotate(-90)" font-size="4.8" text-anchor="start" fill="#111">CON03</text>
<text transform="translate(145.35,407.00) rotate(-90)" font-size="4.8" text-anchor="start" fill="#111">CON30</text>
<text transform="translate(157.49,407.00) rotate(-90)" font-size="4.8" text-anchor="start" fill="#111">CON06</text>
<text transform="translate(165.87,407.00) rotate(-90)" font-size="4.8" text-anchor="start" fill="#111">CON20</text>
<text transform="translate(174.25,407.00) rotate(-90)" font-size="4.8" text-anchor="start" fill="#111">CON14</text>
<text transform="translate(182.63,407.00) rotate(-90)" font-size="4.8" text-anchor="start" fill="#111">CON17</text>
<text transform="translate(191.01,407.00) rotate(-90)" font-size="4.8" text-anchor="start" fill="#111">CON27</text>
<text transform="translate(199.39,407.00) rotate(-90)" font-size="4.8" text-anchor="start" fill="#111">CON13</text>
<text transform="translate(207.77,407.00) rotate(-90)" font-size="4.8" text-anchor="start" fill="#111">CON10</text>
<text transform="translate(216.15,407.00) rotate(-90)" font-size="4.8" text-anchor="start" fill="#111">CON21</text>
<text transform="translate(229.29,407.00) rotate(-90)" font-size="4.8" text-anchor="start" fill="#111">CON24</text>
<text transform="translate(237.67,407.00) rotate(-90)" font-size="4.8" text-anchor="start" fill="#111">CON09</text>
<text transform="translate(246.05,407.00) rotate(-90)" font-size="4.8" text-anchor="start" fill="#111">CON19</text>
<text transform="translate(254.43,407.00) rotate(-90)" font-size="4.8" text-anchor="start" fill="#111">CON03</text>
<text transform="translate(262.81,407.00) rotate(-90)" font-size="4.8" text-anchor="start" fill="#111">CON30</text>
<text x="93.20" y="12.30" font-size="8.4" font-weight="bold" text-anchor="middle" fill="#000" >Pre</text>
<text x="208.70" y="12.90" font-size="8.4" font-weight="bold" text-anchor="middle" fill="#000" >Reperfusion</text>
<defs><linearGradient id="cb" x1="0" y1="0" x2="0" y2="1"><stop offset="0" stop-color="#ff0000"/><stop offset="0.5" stop-color="#ffffff"/><stop offset="1" stop-color="#0000ff"/></linearGradient></defs>
<rect x="9.8" y="114.8" width="6.3" height="69.4" fill="url(#cb)"/>
<text x="16.30" y="111.20" font-size="11.2" text-anchor="end" fill="#000" >6</text>
<text x="16.30" y="198.60" font-size="11.2" text-anchor="end" fill="#000" >-5</text>
<text x="-0.30" y="14.80" font-size="16.5" font-weight="bold" text-anchor="start" fill="#000" >a</text>
<rect x="40.90" y="449.10" width="10.50" height="9" fill="#a4a4ff"/>
<rect x="50.80" y="449.10" width="10.50" height="9" fill="#e2e2ff"/>
<rect x="60.70" y="449.10" width="10.50" height="9" fill="#e2e2ff"/>
<rect x="70.60" y="449.10" width="10.50" height="9" fill="#a4a4ff"/>
<rect x="80.50" y="449.10" width="10.50" height="9" fill="#e2e2ff"/>
<rect x="90.40" y="449.10" width="10.50" height="9" fill="#e2e2ff"/>
<rect x="100.30" y="449.10" width="10.50" height="9" fill="#c6c6ff"/>
<rect x="110.20" y="449.10" width="10.50" height="9" fill="#ffe9e9"/>
<rect x="120.10" y="449.10" width="10.50" height="9" fill="#c6c6ff"/>
<rect x="130" y="449.10" width="9.90" height="9" fill="#e2e2ff"/>
<rect x="40.90" y="457.50" width="10.50" height="9" fill="#c6c6ff"/>
<rect x="50.80" y="457.50" width="10.50" height="9" fill="#a4a4ff"/>
<rect x="60.70" y="457.50" width="10.50" height="9" fill="#e2e2ff"/>
<rect x="70.60" y="457.50" width="10.50" height="9" fill="#ffe9e9"/>
<rect x="80.50" y="457.50" width="10.50" height="9" fill="#e2e2ff"/>
<rect x="90.40" y="457.50" width="10.50" height="9" fill="#e2e2ff"/>
<rect x="100.30" y="457.50" width="10.50" height="9" fill="#e2e2ff"/>
<rect x="110.20" y="457.50" width="10.50" height="9" fill="#e2e2ff"/>
<rect x="120.10" y="457.50" width="10.50" height="9" fill="#a4a4ff"/>
<rect x="130" y="457.50" width="9.90" height="9" fill="#c6c6ff"/>
<rect x="40.90" y="465.90" width="10.50" height="9" fill="#c6c6ff"/>
<rect x="50.80" y="465.90" width="10.50" height="9" fill="#e2e2ff"/>
<rect x="60.70" y="465.90" width="10.50" height="9" fill="#e2e2ff"/>
<rect x="70.60" y="465.90" width="10.50" height="9" fill="#c6c6ff"/>
<rect x="80.50" y="465.90" width="10.50" height="9" fill="#ffe9e9"/>
<rect x="90.40" y="465.90" width="10.50" height="9" fill="#e2e2ff"/>
<rect x="100.30" y="465.90" width="10.50" height="9" fill="#e2e2ff"/>
<rect x="110.20" y="465.90" width="10.50" height="9" fill="#e2e2ff"/>
<rect x="120.10" y="465.90" width="10.50" height="9" fill="#ffe9e9"/>
<rect x="130" y="465.90" width="9.90" height="9" fill="#ffe9e9"/>
<rect x="40.90" y="474.30" width="10.50" height="9" fill="#7a7aff"/>
<rect x="50.80" y="474.30" width="10.50" height="9" fill="#e2e2ff"/>
<rect x="60.70" y="474.30" width="10.50" height="9" fill="#ffcccc"/>
<rect x="70.60" y="474.30" width="10.50" height="9" fill="#e2e2ff"/>
<rect x="80.50" y="474.30" width="10.50" height="9" fill="#7a7aff"/>
<rect x="90.40" y="474.30" width="10.50" height="9" fill="#ffe9e9"/>
<rect x="100.30" y="474.30" width="10.50" height="9" fill="#e2e2ff"/>
<rect x="110.20" y="474.30" width="10.50" height="9" fill="#a4a4ff"/>
<rect x="120.10" y="474.30" width="10.50" height="9" fill="#e2e2ff"/>
<rect x="130" y="474.30" width="9.90" height="9" fill="#c6c6ff"/>
<rect x="40.90" y="482.70" width="10.50" height="9" fill="#a4a4ff"/>
<rect x="50.80" y="482.70" width="10.50" height="9" fill="#faf9fd"/>
<rect x="60.70" y="482.70" width="10.50" height="9" fill="#c6c6ff"/>
<rect x="70.60" y="482.70" width="10.50" height="9" fill="#a4a4ff"/>
<rect x="80.50" y="482.70" width="10.50" height="9" fill="#faf9fd"/>
<rect x="90.40" y="482.70" width="10.50" height="9" fill="#a4a4ff"/>
<rect x="100.30" y="482.70" width="10.50" height="9" fill="#e2e2ff"/>
<rect x="110.20" y="482.70" width="10.50" height="9" fill="#c6c6ff"/>
<rect x="120.10" y="482.70" width="10.50" height="9" fill="#a4a4ff"/>
<rect x="130" y="482.70" width="9.90" height="9" fill="#e2e2ff"/>
<rect x="40.90" y="491.10" width="10.50" height="9" fill="#7a7aff"/>
<rect x="50.80" y="491.10" width="10.50" height="9" fill="#e2e2ff"/>
<rect x="60.70" y="491.10" width="10.50" height="9" fill="#c6c6ff"/>
<rect x="70.60" y="491.10" width="10.50" height="9" fill="#c6c6ff"/>
<rect x="80.50" y="491.10" width="10.50" height="9" fill="#c6c6ff"/>
<rect x="90.40" y="491.10" width="10.50" height="9" fill="#7a7aff"/>
<rect x="100.30" y="491.10" width="10.50" height="9" fill="#e2e2ff"/>
<rect x="110.20" y="491.10" width="10.50" height="9" fill="#7a7aff"/>
<rect x="120.10" y="491.10" width="10.50" height="9" fill="#a4a4ff"/>
<rect x="130" y="491.10" width="9.90" height="9" fill="#e2e2ff"/>
<rect x="40.90" y="499.50" width="10.50" height="9" fill="#e2e2ff"/>
<rect x="50.80" y="499.50" width="10.50" height="9" fill="#c6c6ff"/>
<rect x="60.70" y="499.50" width="10.50" height="9" fill="#e2e2ff"/>
<rect x="70.60" y="499.50" width="10.50" height="9" fill="#e2e2ff"/>
<rect x="80.50" y="499.50" width="10.50" height="9" fill="#ffe9e9"/>
<rect x="90.40" y="499.50" width="10.50" height="9" fill="#e2e2ff"/>
<rect x="100.30" y="499.50" width="10.50" height="9" fill="#c6c6ff"/>
<rect x="110.20" y="499.50" width="10.50" height="9" fill="#faf9fd"/>
<rect x="120.10" y="499.50" width="10.50" height="9" fill="#e2e2ff"/>
<rect x="130" y="499.50" width="9.90" height="9" fill="#c6c6ff"/>
<rect x="40.90" y="507.90" width="10.50" height="9" fill="#e2e2ff"/>
<rect x="50.80" y="507.90" width="10.50" height="9" fill="#4848ff"/>
<rect x="60.70" y="507.90" width="10.50" height="9" fill="#7a7aff"/>
<rect x="70.60" y="507.90" width="10.50" height="9" fill="#a4a4ff"/>
<rect x="80.50" y="507.90" width="10.50" height="9" fill="#ffe9e9"/>
<rect x="90.40" y="507.90" width="10.50" height="9" fill="#c6c6ff"/>
<rect x="100.30" y="507.90" width="10.50" height="9" fill="#a4a4ff"/>
<rect x="110.20" y="507.90" width="10.50" height="9" fill="#0c0cff"/>
<rect x="120.10" y="507.90" width="10.50" height="9" fill="#c6c6ff"/>
<rect x="130" y="507.90" width="9.90" height="9" fill="#ffe9e9"/>
<rect x="40.90" y="516.30" width="10.50" height="9" fill="#c6c6ff"/>
<rect x="50.80" y="516.30" width="10.50" height="9" fill="#e2e2ff"/>
<rect x="60.70" y="516.30" width="10.50" height="9" fill="#ffe9e9"/>
<rect x="70.60" y="516.30" width="10.50" height="9" fill="#a4a4ff"/>
<rect x="80.50" y="516.30" width="10.50" height="9" fill="#faf9fd"/>
<rect x="90.40" y="516.30" width="10.50" height="9" fill="#7a7aff"/>
<rect x="100.30" y="516.30" width="10.50" height="9" fill="#e2e2ff"/>
<rect x="110.20" y="516.30" width="10.50" height="9" fill="#e2e2ff"/>
<rect x="120.10" y="516.30" width="10.50" height="9" fill="#e2e2ff"/>
<rect x="130" y="516.30" width="9.90" height="9" fill="#ffe9e9"/>
<rect x="40.90" y="524.70" width="10.50" height="9" fill="#a4a4ff"/>
<rect x="50.80" y="524.70" width="10.50" height="9" fill="#e2e2ff"/>
<rect x="60.70" y="524.70" width="10.50" height="9" fill="#c6c6ff"/>
<rect x="70.60" y="524.70" width="10.50" height="9" fill="#a4a4ff"/>
<rect x="80.50" y="524.70" width="10.50" height="9" fill="#ffa6a6"/>
<rect x="90.40" y="524.70" width="10.50" height="9" fill="#c6c6ff"/>
<rect x="100.30" y="524.70" width="10.50" height="9" fill="#a4a4ff"/>
<rect x="110.20" y="524.70" width="10.50" height="9" fill="#c6c6ff"/>
<rect x="120.10" y="524.70" width="10.50" height="9" fill="#e2e2ff"/>
<rect x="130" y="524.70" width="9.90" height="9" fill="#c6c6ff"/>
<rect x="40.90" y="533.10" width="10.50" height="9" fill="#e2e2ff"/>
<rect x="50.80" y="533.10" width="10.50" height="9" fill="#c6c6ff"/>
<rect x="60.70" y="533.10" width="10.50" height="9" fill="#c6c6ff"/>
<rect x="70.60" y="533.10" width="10.50" height="9" fill="#c6c6ff"/>
<rect x="80.50" y="533.10" width="10.50" height="9" fill="#a4a4ff"/>
<rect x="90.40" y="533.10" width="10.50" height="9" fill="#ffe9e9"/>
<rect x="100.30" y="533.10" width="10.50" height="9" fill="#c6c6ff"/>
<rect x="110.20" y="533.10" width="10.50" height="9" fill="#e2e2ff"/>
<rect x="120.10" y="533.10" width="10.50" height="9" fill="#a4a4ff"/>
<rect x="130" y="533.10" width="9.90" height="9" fill="#faf9fd"/>
<rect x="40.90" y="541.50" width="10.50" height="9" fill="#7a7aff"/>
<rect x="50.80" y="541.50" width="10.50" height="9" fill="#c6c6ff"/>
<rect x="60.70" y="541.50" width="10.50" height="9" fill="#ffa6a6"/>
<rect x="70.60" y="541.50" width="10.50" height="9" fill="#e2e2ff"/>
<rect x="80.50" y="541.50" width="10.50" height="9" fill="#faf9fd"/>
<rect x="90.40" y="541.50" width="10.50" height="9" fill="#c6c6ff"/>
<rect x="100.30" y="541.50" width="10.50" height="9" fill="#7a7aff"/>
<rect x="110.20" y="541.50" width="10.50" height="9" fill="#c6c6ff"/>
<rect x="120.10" y="541.50" width="10.50" height="9" fill="#faf9fd"/>
<rect x="130" y="541.50" width="9.90" height="9" fill="#e2e2ff"/>
<rect x="40.90" y="549.90" width="10.50" height="9" fill="#c6c6ff"/>
<rect x="50.80" y="549.90" width="10.50" height="9" fill="#c6c6ff"/>
<rect x="60.70" y="549.90" width="10.50" height="9" fill="#e2e2ff"/>
<rect x="70.60" y="549.90" width="10.50" height="9" fill="#e2e2ff"/>
<rect x="80.50" y="549.90" width="10.50" height="9" fill="#a4a4ff"/>
<rect x="90.40" y="549.90" width="10.50" height="9" fill="#c6c6ff"/>
<rect x="100.30" y="549.90" width="10.50" height="9" fill="#c6c6ff"/>
<rect x="110.20" y="549.90" width="10.50" height="9" fill="#c6c6ff"/>
<rect x="120.10" y="549.90" width="10.50" height="9" fill="#e2e2ff"/>
<rect x="130" y="549.90" width="9.90" height="9" fill="#c6c6ff"/>
<rect x="40.90" y="558.30" width="10.50" height="9" fill="#c6c6ff"/>
<rect x="50.80" y="558.30" width="10.50" height="9" fill="#c6c6ff"/>
<rect x="60.70" y="558.30" width="10.50" height="9" fill="#e2e2ff"/>
<rect x="70.60" y="558.30" width="10.50" height="9" fill="#faf9fd"/>
<rect x="80.50" y="558.30" width="10.50" height="9" fill="#7a7aff"/>
<rect x="90.40" y="558.30" width="10.50" height="9" fill="#e2e2ff"/>
<rect x="100.30" y="558.30" width="10.50" height="9" fill="#c6c6ff"/>
<rect x="110.20" y="558.30" width="10.50" height="9" fill="#c6c6ff"/>
<rect x="120.10" y="558.30" width="10.50" height="9" fill="#e2e2ff"/>
<rect x="130" y="558.30" width="9.90" height="9" fill="#e2e2ff"/>
<rect x="40.90" y="566.70" width="10.50" height="9" fill="#c6c6ff"/>
<rect x="50.80" y="566.70" width="10.50" height="9" fill="#c6c6ff"/>
<rect x="60.70" y="566.70" width="10.50" height="9" fill="#e2e2ff"/>
<rect x="70.60" y="566.70" width="10.50" height="9" fill="#e2e2ff"/>
<rect x="80.50" y="566.70" width="10.50" height="9" fill="#a4a4ff"/>
<rect x="90.40" y="566.70" width="10.50" height="9" fill="#e2e2ff"/>
<rect x="100.30" y="566.70" width="10.50" height="9" fill="#c6c6ff"/>
<rect x="110.20" y="566.70" width="10.50" height="9" fill="#e2e2ff"/>
<rect x="120.10" y="566.70" width="10.50" height="9" fill="#faf9fd"/>
<rect x="130" y="566.70" width="9.90" height="9" fill="#ffe9e9"/>
<rect x="40.90" y="575.10" width="10.50" height="9" fill="#e2e2ff"/>
<rect x="50.80" y="575.10" width="10.50" height="9" fill="#c6c6ff"/>
<rect x="60.70" y="575.10" width="10.50" height="9" fill="#c6c6ff"/>
<rect x="70.60" y="575.10" width="10.50" height="9" fill="#c6c6ff"/>
<rect x="80.50" y="575.10" width="10.50" height="9" fill="#e2e2ff"/>
<rect x="90.40" y="575.10" width="10.50" height="9" fill="#e2e2ff"/>
<rect x="100.30" y="575.10" width="10.50" height="9" fill="#e2e2ff"/>
<rect x="110.20" y="575.10" width="10.50" height="9" fill="#c6c6ff"/>
<rect x="120.10" y="575.10" width="10.50" height="9" fill="#a4a4ff"/>
<rect x="130" y="575.10" width="9.90" height="9" fill="#c6c6ff"/>
<rect x="40.90" y="583.50" width="10.50" height="9" fill="#e2e2ff"/>
<rect x="50.80" y="583.50" width="10.50" height="9" fill="#e2e2ff"/>
<rect x="60.70" y="583.50" width="10.50" height="9" fill="#faf9fd"/>
<rect x="70.60" y="583.50" width="10.50" height="9" fill="#c6c6ff"/>
<rect x="80.50" y="583.50" width="10.50" height="9" fill="#faf9fd"/>
<rect x="90.40" y="583.50" width="10.50" height="9" fill="#e2e2ff"/>
<rect x="100.30" y="583.50" width="10.50" height="9" fill="#e2e2ff"/>
<rect x="110.20" y="583.50" width="10.50" height="9" fill="#7a7aff"/>
<rect x="120.10" y="583.50" width="10.50" height="9" fill="#e2e2ff"/>
<rect x="130" y="583.50" width="9.90" height="9" fill="#c6c6ff"/>
<rect x="40.90" y="591.90" width="10.50" height="9" fill="#e2e2ff"/>
<rect x="50.80" y="591.90" width="10.50" height="9" fill="#ffe9e9"/>
<rect x="60.70" y="591.90" width="10.50" height="9" fill="#a4a4ff"/>
<rect x="70.60" y="591.90" width="10.50" height="9" fill="#c6c6ff"/>
<rect x="80.50" y="591.90" width="10.50" height="9" fill="#c6c6ff"/>
<rect x="90.40" y="591.90" width="10.50" height="9" fill="#a4a4ff"/>
<rect x="100.30" y="591.90" width="10.50" height="9" fill="#ffcccc"/>
<rect x="110.20" y="591.90" width="10.50" height="9" fill="#c6c6ff"/>
<rect x="120.10" y="591.90" width="10.50" height="9" fill="#a4a4ff"/>
<rect x="130" y="591.90" width="9.90" height="9" fill="#faf9fd"/>
<rect x="40.90" y="600.30" width="10.50" height="9" fill="#7a7aff"/>
<rect x="50.80" y="600.30" width="10.50" height="9" fill="#faf9fd"/>
<rect x="60.70" y="600.30" width="10.50" height="9" fill="#c6c6ff"/>
<rect x="70.60" y="600.30" width="10.50" height="9" fill="#e2e2ff"/>
<rect x="80.50" y="600.30" width="10.50" height="9" fill="#ffe9e9"/>
<rect x="90.40" y="600.30" width="10.50" height="9" fill="#faf9fd"/>
<rect x="100.30" y="600.30" width="10.50" height="9" fill="#a4a4ff"/>
<rect x="110.20" y="600.30" width="10.50" height="9" fill="#ffe9e9"/>
<rect x="120.10" y="600.30" width="10.50" height="9" fill="#c6c6ff"/>
<rect x="130" y="600.30" width="9.90" height="9" fill="#a4a4ff"/>
<rect x="40.90" y="608.70" width="10.50" height="9" fill="#e2e2ff"/>
<rect x="50.80" y="608.70" width="10.50" height="9" fill="#c6c6ff"/>
<rect x="60.70" y="608.70" width="10.50" height="9" fill="#ffe9e9"/>
<rect x="70.60" y="608.70" width="10.50" height="9" fill="#e2e2ff"/>
<rect x="80.50" y="608.70" width="10.50" height="9" fill="#ffe9e9"/>
<rect x="90.40" y="608.70" width="10.50" height="9" fill="#c6c6ff"/>
<rect x="100.30" y="608.70" width="10.50" height="9" fill="#c6c6ff"/>
<rect x="110.20" y="608.70" width="10.50" height="9" fill="#e2e2ff"/>
<rect x="120.10" y="608.70" width="10.50" height="9" fill="#ffe9e9"/>
<rect x="130" y="608.70" width="9.90" height="9" fill="#c6c6ff"/>
<rect x="40.90" y="617.10" width="10.50" height="9" fill="#0c0cff"/>
<rect x="50.80" y="617.10" width="10.50" height="9" fill="#a4a4ff"/>
<rect x="60.70" y="617.10" width="10.50" height="9" fill="#c6c6ff"/>
<rect x="70.60" y="617.10" width="10.50" height="9" fill="#e2e2ff"/>
<rect x="80.50" y="617.10" width="10.50" height="9" fill="#a4a4ff"/>
<rect x="90.40" y="617.10" width="10.50" height="9" fill="#c6c6ff"/>
<rect x="100.30" y="617.10" width="10.50" height="9" fill="#4848ff"/>
<rect x="110.20" y="617.10" width="10.50" height="9" fill="#0c0cff"/>
<rect x="120.10" y="617.10" width="10.50" height="9" fill="#e2e2ff"/>
<rect x="130" y="617.10" width="9.90" height="9" fill="#c6c6ff"/>
<rect x="40.90" y="625.50" width="10.50" height="9" fill="#c6c6ff"/>
<rect x="50.80" y="625.50" width="10.50" height="9" fill="#c6c6ff"/>
<rect x="60.70" y="625.50" width="10.50" height="9" fill="#c6c6ff"/>
<rect x="70.60" y="625.50" width="10.50" height="9" fill="#ffe9e9"/>
<rect x="80.50" y="625.50" width="10.50" height="9" fill="#ffa6a6"/>
<rect x="90.40" y="625.50" width="10.50" height="9" fill="#c6c6ff"/>
<rect x="100.30" y="625.50" width="10.50" height="9" fill="#e2e2ff"/>
<rect x="110.20" y="625.50" width="10.50" height="9" fill="#a4a4ff"/>
<rect x="120.10" y="625.50" width="10.50" height="9" fill="#ffe9e9"/>
<rect x="130" y="625.50" width="9.90" height="9" fill="#e2e2ff"/>
<rect x="40.90" y="633.90" width="10.50" height="9" fill="#c6c6ff"/>
<rect x="50.80" y="633.90" width="10.50" height="9" fill="#e2e2ff"/>
<rect x="60.70" y="633.90" width="10.50" height="9" fill="#c6c6ff"/>
<rect x="70.60" y="633.90" width="10.50" height="9" fill="#a4a4ff"/>
<rect x="80.50" y="633.90" width="10.50" height="9" fill="#c6c6ff"/>
<rect x="90.40" y="633.90" width="10.50" height="9" fill="#a4a4ff"/>
<rect x="100.30" y="633.90" width="10.50" height="9" fill="#ffcccc"/>
<rect x="110.20" y="633.90" width="10.50" height="9" fill="#a4a4ff"/>
<rect x="120.10" y="633.90" width="10.50" height="9" fill="#e2e2ff"/>
<rect x="130" y="633.90" width="9.90" height="9" fill="#ffe9e9"/>
<rect x="40.90" y="642.30" width="10.50" height="9" fill="#c6c6ff"/>
<rect x="50.80" y="642.30" width="10.50" height="9" fill="#c6c6ff"/>
<rect x="60.70" y="642.30" width="10.50" height="9" fill="#faf9fd"/>
<rect x="70.60" y="642.30" width="10.50" height="9" fill="#c6c6ff"/>
<rect x="80.50" y="642.30" width="10.50" height="9" fill="#a4a4ff"/>
<rect x="90.40" y="642.30" width="10.50" height="9" fill="#c6c6ff"/>
<rect x="100.30" y="642.30" width="10.50" height="9" fill="#ffe9e9"/>
<rect x="110.20" y="642.30" width="10.50" height="9" fill="#a4a4ff"/>
<rect x="120.10" y="642.30" width="10.50" height="9" fill="#e2e2ff"/>
<rect x="130" y="642.30" width="9.90" height="9" fill="#e2e2ff"/>
<rect x="40.90" y="650.70" width="10.50" height="9" fill="#c6c6ff"/>
<rect x="50.80" y="650.70" width="10.50" height="9" fill="#e2e2ff"/>
<rect x="60.70" y="650.70" width="10.50" height="9" fill="#c6c6ff"/>
<rect x="70.60" y="650.70" width="10.50" height="9" fill="#ffe9e9"/>
<rect x="80.50" y="650.70" width="10.50" height="9" fill="#ffe9e9"/>
<rect x="90.40" y="650.70" width="10.50" height="9" fill="#a4a4ff"/>
<rect x="100.30" y="650.70" width="10.50" height="9" fill="#faf9fd"/>
<rect x="110.20" y="650.70" width="10.50" height="9" fill="#ffe9e9"/>
<rect x="120.10" y="650.70" width="10.50" height="9" fill="#e2e2ff"/>
<rect x="130" y="650.70" width="9.90" height="9" fill="#c6c6ff"/>
<rect x="40.90" y="659.10" width="10.50" height="9" fill="#e2e2ff"/>
<rect x="50.80" y="659.10" width="10.50" height="9" fill="#e2e2ff"/>
<rect x="60.70" y="659.10" width="10.50" height="9" fill="#e2e2ff"/>
<rect x="70.60" y="659.10" width="10.50" height="9" fill="#c6c6ff"/>
<rect x="80.50" y="659.10" width="10.50" height="9" fill="#c6c6ff"/>
<rect x="90.40" y="659.10" width="10.50" height="9" fill="#faf9fd"/>
<rect x="100.30" y="659.10" width="10.50" height="9" fill="#ffe9e9"/>
<rect x="110.20" y="659.10" width="10.50" height="9" fill="#c6c6ff"/>
<rect x="120.10" y="659.10" width="10.50" height="9" fill="#a4a4ff"/>
<rect x="130" y="659.10" width="9.90" height="9" fill="#e2e2ff"/>
<rect x="40.90" y="667.50" width="10.50" height="9" fill="#c6c6ff"/>
<rect x="50.80" y="667.50" width="10.50" height="9" fill="#7a7aff"/>
<rect x="60.70" y="667.50" width="10.50" height="9" fill="#e2e2ff"/>
<rect x="70.60" y="667.50" width="10.50" height="9" fill="#a4a4ff"/>
<rect x="80.50" y="667.50" width="10.50" height="9" fill="#7a7aff"/>
<rect x="90.40" y="667.50" width="10.50" height="9" fill="#ffe9e9"/>
<rect x="100.30" y="667.50" width="10.50" height="9" fill="#c6c6ff"/>
<rect x="110.20" y="667.50" width="10.50" height="9" fill="#a4a4ff"/>
<rect x="120.10" y="667.50" width="10.50" height="9" fill="#a4a4ff"/>
<rect x="130" y="667.50" width="9.90" height="9" fill="#faf9fd"/>
<rect x="40.90" y="675.90" width="10.50" height="9" fill="#0c0cff"/>
<rect x="50.80" y="675.90" width="10.50" height="9" fill="#e2e2ff"/>
<rect x="60.70" y="675.90" width="10.50" height="9" fill="#faf9fd"/>
<rect x="70.60" y="675.90" width="10.50" height="9" fill="#a4a4ff"/>
<rect x="80.50" y="675.90" width="10.50" height="9" fill="#a4a4ff"/>
<rect x="90.40" y="675.90" width="10.50" height="9" fill="#a4a4ff"/>
<rect x="100.30" y="675.90" width="10.50" height="9" fill="#7a7aff"/>
<rect x="110.20" y="675.90" width="10.50" height="9" fill="#0c0cff"/>
<rect x="120.10" y="675.90" width="10.50" height="9" fill="#a4a4ff"/>
<rect x="130" y="675.90" width="9.90" height="9" fill="#c6c6ff"/>
<rect x="40.90" y="684.30" width="10.50" height="9" fill="#a4a4ff"/>
<rect x="50.80" y="684.30" width="10.50" height="9" fill="#7a7aff"/>
<rect x="60.70" y="684.30" width="10.50" height="9" fill="#e2e2ff"/>
<rect x="70.60" y="684.30" width="10.50" height="9" fill="#c6c6ff"/>
<rect x="80.50" y="684.30" width="10.50" height="9" fill="#c6c6ff"/>
<rect x="90.40" y="684.30" width="10.50" height="9" fill="#ffcccc"/>
<rect x="100.30" y="684.30" width="10.50" height="9" fill="#c6c6ff"/>
<rect x="110.20" y="684.30" width="10.50" height="9" fill="#a4a4ff"/>
<rect x="120.10" y="684.30" width="10.50" height="9" fill="#ffe9e9"/>
<rect x="130" y="684.30" width="9.90" height="9" fill="#ffa6a6"/>
<rect x="40.90" y="692.70" width="10.50" height="9" fill="#7a7aff"/>
<rect x="50.80" y="692.70" width="10.50" height="9" fill="#ffcccc"/>
<rect x="60.70" y="692.70" width="10.50" height="9" fill="#e2e2ff"/>
<rect x="70.60" y="692.70" width="10.50" height="9" fill="#a4a4ff"/>
<rect x="80.50" y="692.70" width="10.50" height="9" fill="#ffa6a6"/>
<rect x="90.40" y="692.70" width="10.50" height="9" fill="#a4a4ff"/>
<rect x="100.30" y="692.70" width="10.50" height="9" fill="#e2e2ff"/>
<rect x="110.20" y="692.70" width="10.50" height="9" fill="#ffe9e9"/>
<rect x="120.10" y="692.70" width="10.50" height="9" fill="#faf9fd"/>
<rect x="130" y="692.70" width="9.90" height="9" fill="#a4a4ff"/>
<rect x="40.90" y="701.10" width="10.50" height="9" fill="#7a7aff"/>
<rect x="50.80" y="701.10" width="10.50" height="9" fill="#c6c6ff"/>
<rect x="60.70" y="701.10" width="10.50" height="9" fill="#e2e2ff"/>
<rect x="70.60" y="701.10" width="10.50" height="9" fill="#faf9fd"/>
<rect x="80.50" y="701.10" width="10.50" height="9" fill="#ffcccc"/>
<rect x="90.40" y="701.10" width="10.50" height="9" fill="#e2e2ff"/>
<rect x="100.30" y="701.10" width="10.50" height="9" fill="#7a7aff"/>
<rect x="110.20" y="701.10" width="10.50" height="9" fill="#7a7aff"/>
<rect x="120.10" y="701.10" width="10.50" height="9" fill="#ffe9e9"/>
<rect x="130" y="701.10" width="9.90" height="9" fill="#e2e2ff"/>
<rect x="40.90" y="709.50" width="10.50" height="9" fill="#7a7aff"/>
<rect x="50.80" y="709.50" width="10.50" height="9" fill="#7a7aff"/>
<rect x="60.70" y="709.50" width="10.50" height="9" fill="#faf9fd"/>
<rect x="70.60" y="709.50" width="10.50" height="9" fill="#ffe9e9"/>
<rect x="80.50" y="709.50" width="10.50" height="9" fill="#e2e2ff"/>
<rect x="90.40" y="709.50" width="10.50" height="9" fill="#e2e2ff"/>
<rect x="100.30" y="709.50" width="10.50" height="9" fill="#4848ff"/>
<rect x="110.20" y="709.50" width="10.50" height="9" fill="#7a7aff"/>
<rect x="120.10" y="709.50" width="10.50" height="9" fill="#ffcccc"/>
<rect x="130" y="709.50" width="9.90" height="9" fill="#e2e2ff"/>
<rect x="40.90" y="717.90" width="10.50" height="9" fill="#e2e2ff"/>
<rect x="50.80" y="717.90" width="10.50" height="9" fill="#c6c6ff"/>
<rect x="60.70" y="717.90" width="10.50" height="9" fill="#e2e2ff"/>
<rect x="70.60" y="717.90" width="10.50" height="9" fill="#e2e2ff"/>
<rect x="80.50" y="717.90" width="10.50" height="9" fill="#a4a4ff"/>
<rect x="90.40" y="717.90" width="10.50" height="9" fill="#e2e2ff"/>
<rect x="100.30" y="717.90" width="10.50" height="9" fill="#e2e2ff"/>
<rect x="110.20" y="717.90" width="10.50" height="9" fill="#c6c6ff"/>
<rect x="120.10" y="717.90" width="10.50" height="9" fill="#e2e2ff"/>
<rect x="130" y="717.90" width="9.90" height="9" fill="#faf9fd"/>
<rect x="40.90" y="726.30" width="10.50" height="9" fill="#c6c6ff"/>
<rect x="50.80" y="726.30" width="10.50" height="9" fill="#7a7aff"/>
<rect x="60.70" y="726.30" width="10.50" height="9" fill="#e2e2ff"/>
<rect x="70.60" y="726.30" width="10.50" height="9" fill="#c6c6ff"/>
<rect x="80.50" y="726.30" width="10.50" height="9" fill="#a4a4ff"/>
<rect x="90.40" y="726.30" width="10.50" height="9" fill="#e2e2ff"/>
<rect x="100.30" y="726.30" width="10.50" height="9" fill="#e2e2ff"/>
<rect x="110.20" y="726.30" width="10.50" height="9" fill="#4848ff"/>
<rect x="120.10" y="726.30" width="10.50" height="9" fill="#c6c6ff"/>
<rect x="130" y="726.30" width="9.90" height="9" fill="#c6c6ff"/>
<rect x="40.90" y="734.70" width="10.50" height="9" fill="#e2e2ff"/>
<rect x="50.80" y="734.70" width="10.50" height="9" fill="#c6c6ff"/>
<rect x="60.70" y="734.70" width="10.50" height="9" fill="#e2e2ff"/>
<rect x="70.60" y="734.70" width="10.50" height="9" fill="#c6c6ff"/>
<rect x="80.50" y="734.70" width="10.50" height="9" fill="#e2e2ff"/>
<rect x="90.40" y="734.70" width="10.50" height="9" fill="#ffe9e9"/>
<rect x="100.30" y="734.70" width="10.50" height="9" fill="#e2e2ff"/>
<rect x="110.20" y="734.70" width="10.50" height="9" fill="#e2e2ff"/>
<rect x="120.10" y="734.70" width="10.50" height="9" fill="#a4a4ff"/>
<rect x="130" y="734.70" width="9.90" height="9" fill="#e2e2ff"/>
<rect x="40.90" y="743.10" width="10.50" height="9" fill="#a4a4ff"/>
<rect x="50.80" y="743.10" width="10.50" height="9" fill="#ffe9e9"/>
<rect x="60.70" y="743.10" width="10.50" height="9" fill="#ffe9e9"/>
<rect x="70.60" y="743.10" width="10.50" height="9" fill="#e2e2ff"/>
<rect x="80.50" y="743.10" width="10.50" height="9" fill="#c6c6ff"/>
<rect x="90.40" y="743.10" width="10.50" height="9" fill="#faf9fd"/>
<rect x="100.30" y="743.10" width="10.50" height="9" fill="#c6c6ff"/>
<rect x="110.20" y="743.10" width="10.50" height="9" fill="#c6c6ff"/>
<rect x="120.10" y="743.10" width="10.50" height="9" fill="#e2e2ff"/>
<rect x="130" y="743.10" width="9.90" height="9" fill="#a4a4ff"/>
<rect x="40.90" y="751.50" width="10.50" height="9" fill="#a4a4ff"/>
<rect x="50.80" y="751.50" width="10.50" height="9" fill="#ffe9e9"/>
<rect x="60.70" y="751.50" width="10.50" height="9" fill="#c6c6ff"/>
<rect x="70.60" y="751.50" width="10.50" height="9" fill="#a4a4ff"/>
<rect x="80.50" y="751.50" width="10.50" height="9" fill="#ffe9e9"/>
<rect x="90.40" y="751.50" width="10.50" height="9" fill="#a4a4ff"/>
<rect x="100.30" y="751.50" width="10.50" height="9" fill="#c6c6ff"/>
<rect x="110.20" y="751.50" width="10.50" height="9" fill="#e2e2ff"/>
<rect x="120.10" y="751.50" width="10.50" height="9" fill="#c6c6ff"/>
<rect x="130" y="751.50" width="9.90" height="9" fill="#e2e2ff"/>
<rect x="40.90" y="759.90" width="10.50" height="9" fill="#e2e2ff"/>
<rect x="50.80" y="759.90" width="10.50" height="9" fill="#c6c6ff"/>
<rect x="60.70" y="759.90" width="10.50" height="9" fill="#ffe9e9"/>
<rect x="70.60" y="759.90" width="10.50" height="9" fill="#ffe9e9"/>
<rect x="80.50" y="759.90" width="10.50" height="9" fill="#a4a4ff"/>
<rect x="90.40" y="759.90" width="10.50" height="9" fill="#faf9fd"/>
<rect x="100.30" y="759.90" width="10.50" height="9" fill="#a4a4ff"/>
<rect x="110.20" y="759.90" width="10.50" height="9" fill="#e2e2ff"/>
<rect x="120.10" y="759.90" width="10.50" height="9" fill="#e2e2ff"/>
<rect x="130" y="759.90" width="9.90" height="9" fill="#c6c6ff"/>
<rect x="40.90" y="768.30" width="10.50" height="9" fill="#4848ff"/>
<rect x="50.80" y="768.30" width="10.50" height="9" fill="#ffcccc"/>
<rect x="60.70" y="768.30" width="10.50" height="9" fill="#e2e2ff"/>
<rect x="70.60" y="768.30" width="10.50" height="9" fill="#e2e2ff"/>
<rect x="80.50" y="768.30" width="10.50" height="9" fill="#e2e2ff"/>
<rect x="90.40" y="768.30" width="10.50" height="9" fill="#c6c6ff"/>
<rect x="100.30" y="768.30" width="10.50" height="9" fill="#ffe9e9"/>
<rect x="110.20" y="768.30" width="10.50" height="9" fill="#ffe9e9"/>
<rect x="120.10" y="768.30" width="10.50" height="9" fill="#ffe9e9"/>
<rect x="130" y="768.30" width="9.90" height="9" fill="#e2e2ff"/>
<rect x="40.90" y="776.70" width="10.50" height="9" fill="#c6c6ff"/>
<rect x="50.80" y="776.70" width="10.50" height="9" fill="#e2e2ff"/>
<rect x="60.70" y="776.70" width="10.50" height="9" fill="#a4a4ff"/>
<rect x="70.60" y="776.70" width="10.50" height="9" fill="#a4a4ff"/>
<rect x="80.50" y="776.70" width="10.50" height="9" fill="#ffe9e9"/>
<rect x="90.40" y="776.70" width="10.50" height="9" fill="#7a7aff"/>
<rect x="100.30" y="776.70" width="10.50" height="9" fill="#c6c6ff"/>
<rect x="110.20" y="776.70" width="10.50" height="9" fill="#c6c6ff"/>
<rect x="120.10" y="776.70" width="10.50" height="9" fill="#e2e2ff"/>
<rect x="130" y="776.70" width="9.90" height="9" fill="#ffe9e9"/>
<rect x="40.90" y="785.10" width="10.50" height="9" fill="#faf9fd"/>
<rect x="50.80" y="785.10" width="10.50" height="9" fill="#c6c6ff"/>
<rect x="60.70" y="785.10" width="10.50" height="9" fill="#e2e2ff"/>
<rect x="70.60" y="785.10" width="10.50" height="9" fill="#c6c6ff"/>
<rect x="80.50" y="785.10" width="10.50" height="9" fill="#faf9fd"/>
<rect x="90.40" y="785.10" width="10.50" height="9" fill="#7a7aff"/>
<rect x="100.30" y="785.10" width="10.50" height="9" fill="#c6c6ff"/>
<rect x="110.20" y="785.10" width="10.50" height="9" fill="#c6c6ff"/>
<rect x="120.10" y="785.10" width="10.50" height="9" fill="#7a7aff"/>
<rect x="130" y="785.10" width="9.90" height="9" fill="#ffe9e9"/>
<rect x="40.90" y="793.50" width="10.50" height="9" fill="#e2e2ff"/>
<rect x="50.80" y="793.50" width="10.50" height="9" fill="#e2e2ff"/>
<rect x="60.70" y="793.50" width="10.50" height="9" fill="#faf9fd"/>
<rect x="70.60" y="793.50" width="10.50" height="9" fill="#c6c6ff"/>
<rect x="80.50" y="793.50" width="10.50" height="9" fill="#c6c6ff"/>
<rect x="90.40" y="793.50" width="10.50" height="9" fill="#ffcccc"/>
<rect x="100.30" y="793.50" width="10.50" height="9" fill="#c6c6ff"/>
<rect x="110.20" y="793.50" width="10.50" height="9" fill="#7a7aff"/>
<rect x="120.10" y="793.50" width="10.50" height="9" fill="#c6c6ff"/>
<rect x="130" y="793.50" width="9.90" height="9" fill="#e2e2ff"/>
<rect x="40.90" y="801.90" width="10.50" height="9" fill="#a4a4ff"/>
<rect x="50.80" y="801.90" width="10.50" height="9" fill="#e2e2ff"/>
<rect x="60.70" y="801.90" width="10.50" height="9" fill="#faf9fd"/>
<rect x="70.60" y="801.90" width="10.50" height="9" fill="#faf9fd"/>
<rect x="80.50" y="801.90" width="10.50" height="9" fill="#ffa6a6"/>
<rect x="90.40" y="801.90" width="10.50" height="9" fill="#c6c6ff"/>
<rect x="100.30" y="801.90" width="10.50" height="9" fill="#c6c6ff"/>
<rect x="110.20" y="801.90" width="10.50" height="9" fill="#7a7aff"/>
<rect x="120.10" y="801.90" width="10.50" height="9" fill="#faf9fd"/>
<rect x="130" y="801.90" width="9.90" height="9" fill="#ffe9e9"/>
<rect x="40.90" y="810.30" width="10.50" height="9" fill="#c6c6ff"/>
<rect x="50.80" y="810.30" width="10.50" height="9" fill="#c6c6ff"/>
<rect x="60.70" y="810.30" width="10.50" height="9" fill="#e2e2ff"/>
<rect x="70.60" y="810.30" width="10.50" height="9" fill="#c6c6ff"/>
<rect x="80.50" y="810.30" width="10.50" height="9" fill="#e2e2ff"/>
<rect x="90.40" y="810.30" width="10.50" height="9" fill="#faf9fd"/>
<rect x="100.30" y="810.30" width="10.50" height="9" fill="#c6c6ff"/>
<rect x="110.20" y="810.30" width="10.50" height="9" fill="#c6c6ff"/>
<rect x="120.10" y="810.30" width="10.50" height="9" fill="#c6c6ff"/>
<rect x="130" y="810.30" width="9.90" height="9" fill="#e2e2ff"/>
<rect x="40.90" y="818.70" width="10.50" height="9" fill="#a4a4ff"/>
<rect x="50.80" y="818.70" width="10.50" height="9" fill="#a4a4ff"/>
<rect x="60.70" y="818.70" width="10.50" height="9" fill="#faf9fd"/>
<rect x="70.60" y="818.70" width="10.50" height="9" fill="#e2e2ff"/>
<rect x="80.50" y="818.70" width="10.50" height="9" fill="#e2e2ff"/>
<rect x="90.40" y="818.70" width="10.50" height="9" fill="#e2e2ff"/>
<rect x="100.30" y="818.70" width="10.50" height="9" fill="#e2e2ff"/>
<rect x="110.20" y="818.70" width="10.50" height="9" fill="#c6c6ff"/>
<rect x="120.10" y="818.70" width="10.50" height="9" fill="#e2e2ff"/>
<rect x="130" y="818.70" width="9.90" height="9" fill="#faf9fd"/>
<rect x="40.90" y="827.10" width="10.50" height="9" fill="#e2e2ff"/>
<rect x="50.80" y="827.10" width="10.50" height="9" fill="#ffe9e9"/>
<rect x="60.70" y="827.10" width="10.50" height="9" fill="#a4a4ff"/>
<rect x="70.60" y="827.10" width="10.50" height="9" fill="#c6c6ff"/>
<rect x="80.50" y="827.10" width="10.50" height="9" fill="#c6c6ff"/>
<rect x="90.40" y="827.10" width="10.50" height="9" fill="#c6c6ff"/>
<rect x="100.30" y="827.10" width="10.50" height="9" fill="#e2e2ff"/>
<rect x="110.20" y="827.10" width="10.50" height="9" fill="#ffe9e9"/>
<rect x="120.10" y="827.10" width="10.50" height="9" fill="#a4a4ff"/>
<rect x="130" y="827.10" width="9.90" height="9" fill="#faf9fd"/>
<rect x="40.90" y="835.50" width="10.50" height="9" fill="#e2e2ff"/>
<rect x="50.80" y="835.50" width="10.50" height="9" fill="#ffe9e9"/>
<rect x="60.70" y="835.50" width="10.50" height="9" fill="#e2e2ff"/>
<rect x="70.60" y="835.50" width="10.50" height="9" fill="#e2e2ff"/>
<rect x="80.50" y="835.50" width="10.50" height="9" fill="#7a7aff"/>
<rect x="90.40" y="835.50" width="10.50" height="9" fill="#c6c6ff"/>
<rect x="100.30" y="835.50" width="10.50" height="9" fill="#c6c6ff"/>
<rect x="110.20" y="835.50" width="10.50" height="9" fill="#a4a4ff"/>
<rect x="120.10" y="835.50" width="10.50" height="9" fill="#e2e2ff"/>
<rect x="130" y="835.50" width="9.90" height="9" fill="#c6c6ff"/>
<rect x="40.90" y="843.90" width="10.50" height="9" fill="#faf9fd"/>
<rect x="50.80" y="843.90" width="10.50" height="9" fill="#e2e2ff"/>
<rect x="60.70" y="843.90" width="10.50" height="9" fill="#ffe9e9"/>
<rect x="70.60" y="843.90" width="10.50" height="9" fill="#faf9fd"/>
<rect x="80.50" y="843.90" width="10.50" height="9" fill="#e2e2ff"/>
<rect x="90.40" y="843.90" width="10.50" height="9" fill="#c6c6ff"/>
<rect x="100.30" y="843.90" width="10.50" height="9" fill="#c6c6ff"/>
<rect x="110.20" y="843.90" width="10.50" height="9" fill="#c6c6ff"/>
<rect x="120.10" y="843.90" width="10.50" height="9" fill="#c6c6ff"/>
<rect x="130" y="843.90" width="9.90" height="9" fill="#c6c6ff"/>
<rect x="40.90" y="852.30" width="10.50" height="9" fill="#e2e2ff"/>
<rect x="50.80" y="852.30" width="10.50" height="9" fill="#ffe9e9"/>
<rect x="60.70" y="852.30" width="10.50" height="9" fill="#a4a4ff"/>
<rect x="70.60" y="852.30" width="10.50" height="9" fill="#e2e2ff"/>
<rect x="80.50" y="852.30" width="10.50" height="9" fill="#ffe9e9"/>
<rect x="90.40" y="852.30" width="10.50" height="9" fill="#e2e2ff"/>
<rect x="100.30" y="852.30" width="10.50" height="9" fill="#e2e2ff"/>
<rect x="110.20" y="852.30" width="10.50" height="9" fill="#faf9fd"/>
<rect x="120.10" y="852.30" width="10.50" height="9" fill="#e2e2ff"/>
<rect x="130" y="852.30" width="9.90" height="9" fill="#e2e2ff"/>
<rect x="40.90" y="860.70" width="10.50" height="9" fill="#c6c6ff"/>
<rect x="50.80" y="860.70" width="10.50" height="9" fill="#faf9fd"/>
<rect x="60.70" y="860.70" width="10.50" height="9" fill="#e2e2ff"/>
<rect x="70.60" y="860.70" width="10.50" height="9" fill="#c6c6ff"/>
<rect x="80.50" y="860.70" width="10.50" height="9" fill="#faf9fd"/>
<rect x="90.40" y="860.70" width="10.50" height="9" fill="#a4a4ff"/>
<rect x="100.30" y="860.70" width="10.50" height="9" fill="#a4a4ff"/>
<rect x="110.20" y="860.70" width="10.50" height="9" fill="#e2e2ff"/>
<rect x="120.10" y="860.70" width="10.50" height="9" fill="#e2e2ff"/>
<rect x="130" y="860.70" width="9.90" height="9" fill="#e2e2ff"/>
<rect x="40.90" y="869.10" width="10.50" height="9" fill="#a4a4ff"/>
<rect x="50.80" y="869.10" width="10.50" height="9" fill="#ffe9e9"/>
<rect x="60.70" y="869.10" width="10.50" height="9" fill="#e2e2ff"/>
<rect x="70.60" y="869.10" width="10.50" height="9" fill="#ffe9e9"/>
<rect x="80.50" y="869.10" width="10.50" height="9" fill="#ffe9e9"/>
<rect x="90.40" y="869.10" width="10.50" height="9" fill="#e2e2ff"/>
<rect x="100.30" y="869.10" width="10.50" height="9" fill="#faf9fd"/>
<rect x="110.20" y="869.10" width="10.50" height="9" fill="#faf9fd"/>
<rect x="120.10" y="869.10" width="10.50" height="9" fill="#e2e2ff"/>
<rect x="130" y="869.10" width="9.90" height="9" fill="#faf9fd"/>
<rect x="40.90" y="877.50" width="10.50" height="9" fill="#c6c6ff"/>
<rect x="50.80" y="877.50" width="10.50" height="9" fill="#e2e2ff"/>
<rect x="60.70" y="877.50" width="10.50" height="9" fill="#ffe9e9"/>
<rect x="70.60" y="877.50" width="10.50" height="9" fill="#e2e2ff"/>
<rect x="80.50" y="877.50" width="10.50" height="9" fill="#e2e2ff"/>
<rect x="90.40" y="877.50" width="10.50" height="9" fill="#e2e2ff"/>
<rect x="100.30" y="877.50" width="10.50" height="9" fill="#c6c6ff"/>
<rect x="110.20" y="877.50" width="10.50" height="9" fill="#e2e2ff"/>
<rect x="120.10" y="877.50" width="10.50" height="9" fill="#faf9fd"/>
<rect x="130" y="877.50" width="9.90" height="9" fill="#c6c6ff"/>
<rect x="40.90" y="885.90" width="10.50" height="9" fill="#7a7aff"/>
<rect x="50.80" y="885.90" width="10.50" height="9" fill="#a4a4ff"/>
<rect x="60.70" y="885.90" width="10.50" height="9" fill="#faf9fd"/>
<rect x="70.60" y="885.90" width="10.50" height="9" fill="#a4a4ff"/>
<rect x="80.50" y="885.90" width="10.50" height="9" fill="#e2e2ff"/>
<rect x="90.40" y="885.90" width="10.50" height="9" fill="#faf9fd"/>
<rect x="100.30" y="885.90" width="10.50" height="9" fill="#ffcccc"/>
<rect x="110.20" y="885.90" width="10.50" height="9" fill="#7a7aff"/>
<rect x="120.10" y="885.90" width="10.50" height="9" fill="#a4a4ff"/>
<rect x="130" y="885.90" width="9.90" height="9" fill="#e2e2ff"/>
<rect x="40.90" y="894.30" width="10.50" height="9" fill="#e2e2ff"/>
<rect x="50.80" y="894.30" width="10.50" height="9" fill="#c6c6ff"/>
<rect x="60.70" y="894.30" width="10.50" height="9" fill="#c6c6ff"/>
<rect x="70.60" y="894.30" width="10.50" height="9" fill="#c6c6ff"/>
<rect x="80.50" y="894.30" width="10.50" height="9" fill="#e2e2ff"/>
<rect x="90.40" y="894.30" width="10.50" height="9" fill="#e2e2ff"/>
<rect x="100.30" y="894.30" width="10.50" height="9" fill="#e2e2ff"/>
<rect x="110.20" y="894.30" width="10.50" height="9" fill="#e2e2ff"/>
<rect x="120.10" y="894.30" width="10.50" height="9" fill="#e2e2ff"/>
<rect x="130" y="894.30" width="9.90" height="9" fill="#e2e2ff"/>
<rect x="40.90" y="902.70" width="10.50" height="9" fill="#7a7aff"/>
<rect x="50.80" y="902.70" width="10.50" height="9" fill="#a4a4ff"/>
<rect x="60.70" y="902.70" width="10.50" height="9" fill="#ffcccc"/>
<rect x="70.60" y="902.70" width="10.50" height="9" fill="#faf9fd"/>
<rect x="80.50" y="902.70" width="10.50" height="9" fill="#a4a4ff"/>
<rect x="90.40" y="902.70" width="10.50" height="9" fill="#e2e2ff"/>
<rect x="100.30" y="902.70" width="10.50" height="9" fill="#7a7aff"/>
<rect x="110.20" y="902.70" width="10.50" height="9" fill="#a4a4ff"/>
<rect x="120.10" y="902.70" width="10.50" height="9" fill="#a4a4ff"/>
<rect x="130" y="902.70" width="9.90" height="9" fill="#a4a4ff"/>
<rect x="40.90" y="911.10" width="10.50" height="8.40" fill="#a4a4ff"/>
<rect x="50.80" y="911.10" width="10.50" height="8.40" fill="#e2e2ff"/>
<rect x="60.70" y="911.10" width="10.50" height="8.40" fill="#ffcccc"/>
<rect x="70.60" y="911.10" width="10.50" height="8.40" fill="#faf9fd"/>
<rect x="80.50" y="911.10" width="10.50" height="8.40" fill="#c6c6ff"/>
<rect x="90.40" y="911.10" width="10.50" height="8.40" fill="#ffe9e9"/>
<rect x="100.30" y="911.10" width="10.50" height="8.40" fill="#c6c6ff"/>
<rect x="110.20" y="911.10" width="10.50" height="8.40" fill="#c6c6ff"/>
<rect x="120.10" y="911.10" width="10.50" height="8.40" fill="#ffe9e9"/>
<rect x="130" y="911.10" width="9.90" height="8.40" fill="#e2e2ff"/>
<rect x="40.90" y="922.80" width="10.50" height="8.93" fill="#faf9fd"/>
<rect x="50.80" y="922.80" width="10.50" height="8.93" fill="#ffa6a6"/>
<rect x="60.70" y="922.80" width="10.50" height="8.93" fill="#ffe9e9"/>
<rect x="70.60" y="922.80" width="10.50" height="8.93" fill="#e2e2ff"/>
<rect x="80.50" y="922.80" width="10.50" height="8.93" fill="#ffa6a6"/>
<rect x="90.40" y="922.80" width="10.50" height="8.93" fill="#ffe9e9"/>
<rect x="100.30" y="922.80" width="10.50" height="8.93" fill="#c6c6ff"/>
<rect x="110.20" y="922.80" width="10.50" height="8.93" fill="#ffcccc"/>
<rect x="120.10" y="922.80" width="10.50" height="8.93" fill="#ffcccc"/>
<rect x="130" y="922.80" width="9.90" height="8.93" fill="#ffcccc"/>
<rect x="40.90" y="931.13" width="10.50" height="8.93" fill="#ffa6a6"/>
<rect x="50.80" y="931.13" width="10.50" height="8.93" fill="#ffa6a6"/>
<rect x="60.70" y="931.13" width="10.50" height="8.93" fill="#c6c6ff"/>
<rect x="70.60" y="931.13" width="10.50" height="8.93" fill="#ffe9e9"/>
<rect x="80.50" y="931.13" width="10.50" height="8.93" fill="#e2e2ff"/>
<rect x="90.40" y="931.13" width="10.50" height="8.93" fill="#ffcccc"/>
<rect x="100.30" y="931.13" width="10.50" height="8.93" fill="#ffa6a6"/>
<rect x="110.20" y="931.13" width="10.50" height="8.93" fill="#ffa6a6"/>
<rect x="120.10" y="931.13" width="10.50" height="8.93" fill="#e2e2ff"/>
<rect x="130" y="931.13" width="9.90" height="8.93" fill="#ffa6a6"/>
<rect x="40.90" y="939.46" width="10.50" height="8.93" fill="#ffe9e9"/>
<rect x="50.80" y="939.46" width="10.50" height="8.93" fill="#ffa6a6"/>
<rect x="60.70" y="939.46" width="10.50" height="8.93" fill="#ffe9e9"/>
<rect x="70.60" y="939.46" width="10.50" height="8.93" fill="#c6c6ff"/>
<rect x="80.50" y="939.46" width="10.50" height="8.93" fill="#ffcccc"/>
<rect x="90.40" y="939.46" width="10.50" height="8.93" fill="#ffe9e9"/>
<rect x="100.30" y="939.46" width="10.50" height="8.93" fill="#ffe9e9"/>
<rect x="110.20" y="939.46" width="10.50" height="8.93" fill="#ffcccc"/>
<rect x="120.10" y="939.46" width="10.50" height="8.93" fill="#faf9fd"/>
<rect x="130" y="939.46" width="9.90" height="8.93" fill="#ffa6a6"/>
<rect x="40.90" y="947.79" width="10.50" height="8.33" fill="#ffcccc"/>
<rect x="50.80" y="947.79" width="10.50" height="8.33" fill="#ffcccc"/>
<rect x="60.70" y="947.79" width="10.50" height="8.33" fill="#ffcccc"/>
<rect x="70.60" y="947.79" width="10.50" height="8.33" fill="#ffcccc"/>
<rect x="80.50" y="947.79" width="10.50" height="8.33" fill="#ffe9e9"/>
<rect x="90.40" y="947.79" width="10.50" height="8.33" fill="#e2e2ff"/>
<rect x="100.30" y="947.79" width="10.50" height="8.33" fill="#e2e2ff"/>
<rect x="110.20" y="947.79" width="10.50" height="8.33" fill="#ffa6a6"/>
<rect x="120.10" y="947.79" width="10.50" height="8.33" fill="#ff7c7c"/>
<rect x="130" y="947.79" width="9.90" height="8.33" fill="#ffcccc"/>
<rect x="146" y="449.10" width="10.55" height="9" fill="#e2e2ff"/>
<rect x="155.95" y="449.10" width="10.55" height="9" fill="#ffcccc"/>
<rect x="165.90" y="449.10" width="10.55" height="9" fill="#e2e2ff"/>
<rect x="175.85" y="449.10" width="10.55" height="9" fill="#c6c6ff"/>
<rect x="185.80" y="449.10" width="10.55" height="9" fill="#ffcccc"/>
<rect x="195.75" y="449.10" width="9.95" height="9" fill="#ffe9e9"/>
<rect x="146" y="457.50" width="10.55" height="9" fill="#ffe9e9"/>
<rect x="155.95" y="457.50" width="10.55" height="9" fill="#ffe9e9"/>
<rect x="165.90" y="457.50" width="10.55" height="9" fill="#ffcccc"/>
<rect x="175.85" y="457.50" width="10.55" height="9" fill="#ffcccc"/>
<rect x="185.80" y="457.50" width="10.55" height="9" fill="#ffcccc"/>
<rect x="195.75" y="457.50" width="9.95" height="9" fill="#ffcccc"/>
<rect x="146" y="465.90" width="10.55" height="9" fill="#c6c6ff"/>
<rect x="155.95" y="465.90" width="10.55" height="9" fill="#ffe9e9"/>
<rect x="165.90" y="465.90" width="10.55" height="9" fill="#ffe9e9"/>
<rect x="175.85" y="465.90" width="10.55" height="9" fill="#e2e2ff"/>
<rect x="185.80" y="465.90" width="10.55" height="9" fill="#ffe9e9"/>
<rect x="195.75" y="465.90" width="9.95" height="9" fill="#ffe9e9"/>
<rect x="146" y="474.30" width="10.55" height="9" fill="#faf9fd"/>
<rect x="155.95" y="474.30" width="10.55" height="9" fill="#faf9fd"/>
<rect x="165.90" y="474.30" width="10.55" height="9" fill="#ffe9e9"/>
<rect x="175.85" y="474.30" width="10.55" height="9" fill="#ffcccc"/>
<rect x="185.80" y="474.30" width="10.55" height="9" fill="#ff7c7c"/>
<rect x="195.75" y="474.30" width="9.95" height="9" fill="#ffcccc"/>
<rect x="146" y="482.70" width="10.55" height="9" fill="#faf9fd"/>
<rect x="155.95" y="482.70" width="10.55" height="9" fill="#ffa6a6"/>
<rect x="165.90" y="482.70" width="10.55" height="9" fill="#ffe9e9"/>
<rect x="175.85" y="482.70" width="10.55" height="9" fill="#c6c6ff"/>
<rect x="185.80" y="482.70" width="10.55" height="9" fill="#ffa6a6"/>
<rect x="195.75" y="482.70" width="9.95" height="9" fill="#ffe9e9"/>
<rect x="146" y="491.10" width="10.55" height="9" fill="#ffa6a6"/>
<rect x="155.95" y="491.10" width="10.55" height="9" fill="#ffcccc"/>
<rect x="165.90" y="491.10" width="10.55" height="9" fill="#ffe9e9"/>
<rect x="175.85" y="491.10" width="10.55" height="9" fill="#ff7c7c"/>
<rect x="185.80" y="491.10" width="10.55" height="9" fill="#ffa6a6"/>
<rect x="195.75" y="491.10" width="9.95" height="9" fill="#ffa6a6"/>
<rect x="146" y="499.50" width="10.55" height="9" fill="#faf9fd"/>
<rect x="155.95" y="499.50" width="10.55" height="9" fill="#ffe9e9"/>
<rect x="165.90" y="499.50" width="10.55" height="9" fill="#ffe9e9"/>
<rect x="175.85" y="499.50" width="10.55" height="9" fill="#ffe9e9"/>
<rect x="185.80" y="499.50" width="10.55" height="9" fill="#ffe9e9"/>
<rect x="195.75" y="499.50" width="9.95" height="9" fill="#faf9fd"/>
<rect x="146" y="507.90" width="10.55" height="9" fill="#ffcccc"/>
<rect x="155.95" y="507.90" width="10.55" height="9" fill="#faf9fd"/>
<rect x="165.90" y="507.90" width="10.55" height="9" fill="#ffcccc"/>
<rect x="175.85" y="507.90" width="10.55" height="9" fill="#c6c6ff"/>
<rect x="185.80" y="507.90" width="10.55" height="9" fill="#ffcccc"/>
<rect x="195.75" y="507.90" width="9.95" height="9" fill="#ffe9e9"/>
<rect x="146" y="516.30" width="10.55" height="9" fill="#ffcccc"/>
<rect x="155.95" y="516.30" width="10.55" height="9" fill="#ffa6a6"/>
<rect x="165.90" y="516.30" width="10.55" height="9" fill="#e2e2ff"/>
<rect x="175.85" y="516.30" width="10.55" height="9" fill="#ffe9e9"/>
<rect x="185.80" y="516.30" width="10.55" height="9" fill="#ffcccc"/>
<rect x="195.75" y="516.30" width="9.95" height="9" fill="#e2e2ff"/>
<rect x="146" y="524.70" width="10.55" height="9" fill="#ffe9e9"/>
<rect x="155.95" y="524.70" width="10.55" height="9" fill="#ffcccc"/>
<rect x="165.90" y="524.70" width="10.55" height="9" fill="#c6c6ff"/>
<rect x="175.85" y="524.70" width="10.55" height="9" fill="#ffcccc"/>
<rect x="185.80" y="524.70" width="10.55" height="9" fill="#ffcccc"/>
<rect x="195.75" y="524.70" width="9.95" height="9" fill="#faf9fd"/>
<rect x="146" y="533.10" width="10.55" height="9" fill="#ffe9e9"/>
<rect x="155.95" y="533.10" width="10.55" height="9" fill="#faf9fd"/>
<rect x="165.90" y="533.10" width="10.55" height="9" fill="#e2e2ff"/>
<rect x="175.85" y="533.10" width="10.55" height="9" fill="#e2e2ff"/>
<rect x="185.80" y="533.10" width="10.55" height="9" fill="#ffe9e9"/>
<rect x="195.75" y="533.10" width="9.95" height="9" fill="#ffe9e9"/>
<rect x="146" y="541.50" width="10.55" height="9" fill="#a4a4ff"/>
<rect x="155.95" y="541.50" width="10.55" height="9" fill="#ffcccc"/>
<rect x="165.90" y="541.50" width="10.55" height="9" fill="#ffe9e9"/>
<rect x="175.85" y="541.50" width="10.55" height="9" fill="#e2e2ff"/>
<rect x="185.80" y="541.50" width="10.55" height="9" fill="#e2e2ff"/>
<rect x="195.75" y="541.50" width="9.95" height="9" fill="#ffe9e9"/>
<rect x="146" y="549.90" width="10.55" height="9" fill="#ffcccc"/>
<rect x="155.95" y="549.90" width="10.55" height="9" fill="#ffa6a6"/>
<rect x="165.90" y="549.90" width="10.55" height="9" fill="#ffcccc"/>
<rect x="175.85" y="549.90" width="10.55" height="9" fill="#ffe9e9"/>
<rect x="185.80" y="549.90" width="10.55" height="9" fill="#ffe9e9"/>
<rect x="195.75" y="549.90" width="9.95" height="9" fill="#ffcccc"/>
<rect x="146" y="558.30" width="10.55" height="9" fill="#e2e2ff"/>
<rect x="155.95" y="558.30" width="10.55" height="9" fill="#ffe9e9"/>
<rect x="165.90" y="558.30" width="10.55" height="9" fill="#ffcccc"/>
<rect x="175.85" y="558.30" width="10.55" height="9" fill="#ffe9e9"/>
<rect x="185.80" y="558.30" width="10.55" height="9" fill="#ffe9e9"/>
<rect x="195.75" y="558.30" width="9.95" height="9" fill="#ffcccc"/>
<rect x="146" y="566.70" width="10.55" height="9" fill="#c6c6ff"/>
<rect x="155.95" y="566.70" width="10.55" height="9" fill="#faf9fd"/>
<rect x="165.90" y="566.70" width="10.55" height="9" fill="#ffe9e9"/>
<rect x="175.85" y="566.70" width="10.55" height="9" fill="#ffe9e9"/>
<rect x="185.80" y="566.70" width="10.55" height="9" fill="#ffe9e9"/>
<rect x="195.75" y="566.70" width="9.95" height="9" fill="#ffcccc"/>
<rect x="146" y="575.10" width="10.55" height="9" fill="#ffe9e9"/>
<rect x="155.95" y="575.10" width="10.55" height="9" fill="#ffcccc"/>
<rect x="165.90" y="575.10" width="10.55" height="9" fill="#ffcccc"/>
<rect x="175.85" y="575.10" width="10.55" height="9" fill="#faf9fd"/>
<rect x="185.80" y="575.10" width="10.55" height="9" fill="#ffcccc"/>
<rect x="195.75" y="575.10" width="9.95" height="9" fill="#ffa6a6"/>
<rect x="146" y="583.50" width="10.55" height="9" fill="#e2e2ff"/>
<rect x="155.95" y="583.50" width="10.55" height="9" fill="#ffcccc"/>
<rect x="165.90" y="583.50" width="10.55" height="9" fill="#ffcccc"/>
<rect x="175.85" y="583.50" width="10.55" height="9" fill="#ffe9e9"/>
<rect x="185.80" y="583.50" width="10.55" height="9" fill="#ffe9e9"/>
<rect x="195.75" y="583.50" width="9.95" height="9" fill="#ffcccc"/>
<rect x="146" y="591.90" width="10.55" height="9" fill="#e2e2ff"/>
<rect x="155.95" y="591.90" width="10.55" height="9" fill="#ff7c7c"/>
<rect x="165.90" y="591.90" width="10.55" height="9" fill="#a4a4ff"/>
<rect x="175.85" y="591.90" width="10.55" height="9" fill="#ffa6a6"/>
<rect x="185.80" y="591.90" width="10.55" height="9" fill="#ffcccc"/>
<rect x="195.75" y="591.90" width="9.95" height="9" fill="#ffe9e9"/>
<rect x="146" y="600.30" width="10.55" height="9" fill="#ffcccc"/>
<rect x="155.95" y="600.30" width="10.55" height="9" fill="#ffa6a6"/>
<rect x="165.90" y="600.30" width="10.55" height="9" fill="#a4a4ff"/>
<rect x="175.85" y="600.30" width="10.55" height="9" fill="#ffa6a6"/>
<rect x="185.80" y="600.30" width="10.55" height="9" fill="#e2e2ff"/>
<rect x="195.75" y="600.30" width="9.95" height="9" fill="#ffe9e9"/>
<rect x="146" y="608.70" width="10.55" height="9" fill="#c6c6ff"/>
<rect x="155.95" y="608.70" width="10.55" height="9" fill="#ffe9e9"/>
<rect x="165.90" y="608.70" width="10.55" height="9" fill="#ffcccc"/>
<rect x="175.85" y="608.70" width="10.55" height="9" fill="#e2e2ff"/>
<rect x="185.80" y="608.70" width="10.55" height="9" fill="#ffcccc"/>
<rect x="195.75" y="608.70" width="9.95" height="9" fill="#ffcccc"/>
<rect x="146" y="617.10" width="10.55" height="9" fill="#ffcccc"/>
<rect x="155.95" y="617.10" width="10.55" height="9" fill="#ff7c7c"/>
<rect x="165.90" y="617.10" width="10.55" height="9" fill="#ffcccc"/>
<rect x="175.85" y="617.10" width="10.55" height="9" fill="#ffe9e9"/>
<rect x="185.80" y="617.10" width="10.55" height="9" fill="#ffe9e9"/>
<rect x="195.75" y="617.10" width="9.95" height="9" fill="#faf9fd"/>
<rect x="146" y="625.50" width="10.55" height="9" fill="#c6c6ff"/>
<rect x="155.95" y="625.50" width="10.55" height="9" fill="#7a7aff"/>
<rect x="165.90" y="625.50" width="10.55" height="9" fill="#ffcccc"/>
<rect x="175.85" y="625.50" width="10.55" height="9" fill="#ffcccc"/>
<rect x="185.80" y="625.50" width="10.55" height="9" fill="#ffe9e9"/>
<rect x="195.75" y="625.50" width="9.95" height="9" fill="#ffe9e9"/>
<rect x="146" y="633.90" width="10.55" height="9" fill="#e2e2ff"/>
<rect x="155.95" y="633.90" width="10.55" height="9" fill="#ffe9e9"/>
<rect x="165.90" y="633.90" width="10.55" height="9" fill="#e2e2ff"/>
<rect x="175.85" y="633.90" width="10.55" height="9" fill="#e2e2ff"/>
<rect x="185.80" y="633.90" width="10.55" height="9" fill="#ffcccc"/>
<rect x="195.75" y="633.90" width="9.95" height="9" fill="#ffe9e9"/>
<rect x="146" y="642.30" width="10.55" height="9" fill="#ffa6a6"/>
<rect x="155.95" y="642.30" width="10.55" height="9" fill="#e2e2ff"/>
<rect x="165.90" y="642.30" width="10.55" height="9" fill="#ffe9e9"/>
<rect x="175.85" y="642.30" width="10.55" height="9" fill="#ffe9e9"/>
<rect x="185.80" y="642.30" width="10.55" height="9" fill="#ffcccc"/>
<rect x="195.75" y="642.30" width="9.95" height="9" fill="#ffa6a6"/>
<rect x="146" y="650.70" width="10.55" height="9" fill="#ffa6a6"/>
<rect x="155.95" y="650.70" width="10.55" height="9" fill="#faf9fd"/>
<rect x="165.90" y="650.70" width="10.55" height="9" fill="#e2e2ff"/>
<rect x="175.85" y="650.70" width="10.55" height="9" fill="#ff7c7c"/>
<rect x="185.80" y="650.70" width="10.55" height="9" fill="#e2e2ff"/>
<rect x="195.75" y="650.70" width="9.95" height="9" fill="#ffa6a6"/>
<rect x="146" y="659.10" width="10.55" height="9" fill="#ffe9e9"/>
<rect x="155.95" y="659.10" width="10.55" height="9" fill="#ffcccc"/>
<rect x="165.90" y="659.10" width="10.55" height="9" fill="#ffe9e9"/>
<rect x="175.85" y="659.10" width="10.55" height="9" fill="#faf9fd"/>
<rect x="185.80" y="659.10" width="10.55" height="9" fill="#ffa6a6"/>
<rect x="195.75" y="659.10" width="9.95" height="9" fill="#ffe9e9"/>
<rect x="146" y="667.50" width="10.55" height="9" fill="#ffa6a6"/>
<rect x="155.95" y="667.50" width="10.55" height="9" fill="#ffe9e9"/>
<rect x="165.90" y="667.50" width="10.55" height="9" fill="#e2e2ff"/>
<rect x="175.85" y="667.50" width="10.55" height="9" fill="#faf9fd"/>
<rect x="185.80" y="667.50" width="10.55" height="9" fill="#ffa6a6"/>
<rect x="195.75" y="667.50" width="9.95" height="9" fill="#ffa6a6"/>
<rect x="146" y="675.90" width="10.55" height="9" fill="#a4a4ff"/>
<rect x="155.95" y="675.90" width="10.55" height="9" fill="#ff7c7c"/>
<rect x="165.90" y="675.90" width="10.55" height="9" fill="#ff7c7c"/>
<rect x="175.85" y="675.90" width="10.55" height="9" fill="#ffa6a6"/>
<rect x="185.80" y="675.90" width="10.55" height="9" fill="#ff7c7c"/>
<rect x="195.75" y="675.90" width="9.95" height="9" fill="#ffa6a6"/>
<rect x="146" y="684.30" width="10.55" height="9" fill="#ffa6a6"/>
<rect x="155.95" y="684.30" width="10.55" height="9" fill="#ffa6a6"/>
<rect x="165.90" y="684.30" width="10.55" height="9" fill="#e2e2ff"/>
<rect x="175.85" y="684.30" width="10.55" height="9" fill="#ffe9e9"/>
<rect x="185.80" y="684.30" width="10.55" height="9" fill="#7a7aff"/>
<rect x="195.75" y="684.30" width="9.95" height="9" fill="#e2e2ff"/>
<rect x="146" y="692.70" width="10.55" height="9" fill="#e2e2ff"/>
<rect x="155.95" y="692.70" width="10.55" height="9" fill="#ff7c7c"/>
<rect x="165.90" y="692.70" width="10.55" height="9" fill="#e2e2ff"/>
<rect x="175.85" y="692.70" width="10.55" height="9" fill="#faf9fd"/>
<rect x="185.80" y="692.70" width="10.55" height="9" fill="#ffe9e9"/>
<rect x="195.75" y="692.70" width="9.95" height="9" fill="#ffe9e9"/>
<rect x="146" y="701.10" width="10.55" height="9" fill="#c6c6ff"/>
<rect x="155.95" y="701.10" width="10.55" height="9" fill="#ffcccc"/>
<rect x="165.90" y="701.10" width="10.55" height="9" fill="#faf9fd"/>
<rect x="175.85" y="701.10" width="10.55" height="9" fill="#ffe9e9"/>
<rect x="185.80" y="701.10" width="10.55" height="9" fill="#ffe9e9"/>
<rect x="195.75" y="701.10" width="9.95" height="9" fill="#ffe9e9"/>
<rect x="146" y="709.50" width="10.55" height="9" fill="#faf9fd"/>
<rect x="155.95" y="709.50" width="10.55" height="9" fill="#ffcccc"/>
<rect x="165.90" y="709.50" width="10.55" height="9" fill="#ffa6a6"/>
<rect x="175.85" y="709.50" width="10.55" height="9" fill="#e2e2ff"/>
<rect x="185.80" y="709.50" width="10.55" height="9" fill="#e2e2ff"/>
<rect x="195.75" y="709.50" width="9.95" height="9" fill="#e2e2ff"/>
<rect x="146" y="717.90" width="10.55" height="9" fill="#e2e2ff"/>
<rect x="155.95" y="717.90" width="10.55" height="9" fill="#e2e2ff"/>
<rect x="165.90" y="717.90" width="10.55" height="9" fill="#ffcccc"/>
<rect x="175.85" y="717.90" width="10.55" height="9" fill="#ffe9e9"/>
<rect x="185.80" y="717.90" width="10.55" height="9" fill="#ffe9e9"/>
<rect x="195.75" y="717.90" width="9.95" height="9" fill="#ffcccc"/>
<rect x="146" y="726.30" width="10.55" height="9" fill="#ffa6a6"/>
<rect x="155.95" y="726.30" width="10.55" height="9" fill="#ffa6a6"/>
<rect x="165.90" y="726.30" width="10.55" height="9" fill="#ffa6a6"/>
<rect x="175.85" y="726.30" width="10.55" height="9" fill="#ffcccc"/>
<rect x="185.80" y="726.30" width="10.55" height="9" fill="#ffe9e9"/>
<rect x="195.75" y="726.30" width="9.95" height="9" fill="#ffcccc"/>
<rect x="146" y="734.70" width="10.55" height="9" fill="#ffa6a6"/>
<rect x="155.95" y="734.70" width="10.55" height="9" fill="#ffe9e9"/>
<rect x="165.90" y="734.70" width="10.55" height="9" fill="#e2e2ff"/>
<rect x="175.85" y="734.70" width="10.55" height="9" fill="#faf9fd"/>
<rect x="185.80" y="734.70" width="10.55" height="9" fill="#ffa6a6"/>
<rect x="195.75" y="734.70" width="9.95" height="9" fill="#ffa6a6"/>
<rect x="146" y="743.10" width="10.55" height="9" fill="#a4a4ff"/>
<rect x="155.95" y="743.10" width="10.55" height="9" fill="#ffe9e9"/>
<rect x="165.90" y="743.10" width="10.55" height="9" fill="#ffcccc"/>
<rect x="175.85" y="743.10" width="10.55" height="9" fill="#ffcccc"/>
<rect x="185.80" y="743.10" width="10.55" height="9" fill="#ffcccc"/>
<rect x="195.75" y="743.10" width="9.95" height="9" fill="#ffcccc"/>
<rect x="146" y="751.50" width="10.55" height="9" fill="#e2e2ff"/>
<rect x="155.95" y="751.50" width="10.55" height="9" fill="#ffa6a6"/>
<rect x="165.90" y="751.50" width="10.55" height="9" fill="#faf9fd"/>
<rect x="175.85" y="751.50" width="10.55" height="9" fill="#e2e2ff"/>
<rect x="185.80" y="751.50" width="10.55" height="9" fill="#ffcccc"/>
<rect x="195.75" y="751.50" width="9.95" height="9" fill="#ffe9e9"/>
<rect x="146" y="759.90" width="10.55" height="9" fill="#ffe9e9"/>
<rect x="155.95" y="759.90" width="10.55" height="9" fill="#ffe9e9"/>
<rect x="165.90" y="759.90" width="10.55" height="9" fill="#ffcccc"/>
<rect x="175.85" y="759.90" width="10.55" height="9" fill="#ffe9e9"/>
<rect x="185.80" y="759.90" width="10.55" height="9" fill="#e2e2ff"/>
<rect x="195.75" y="759.90" width="9.95" height="9" fill="#ffe9e9"/>
<rect x="146" y="768.30" width="10.55" height="9" fill="#a4a4ff"/>
<rect x="155.95" y="768.30" width="10.55" height="9" fill="#7a7aff"/>
<rect x="165.90" y="768.30" width="10.55" height="9" fill="#faf9fd"/>
<rect x="175.85" y="768.30" width="10.55" height="9" fill="#ffe9e9"/>
<rect x="185.80" y="768.30" width="10.55" height="9" fill="#a4a4ff"/>
<rect x="195.75" y="768.30" width="9.95" height="9" fill="#e2e2ff"/>
<rect x="146" y="776.70" width="10.55" height="9" fill="#ffcccc"/>
<rect x="155.95" y="776.70" width="10.55" height="9" fill="#ffa6a6"/>
<rect x="165.90" y="776.70" width="10.55" height="9" fill="#e2e2ff"/>
<rect x="175.85" y="776.70" width="10.55" height="9" fill="#e2e2ff"/>
<rect x="185.80" y="776.70" width="10.55" height="9" fill="#faf9fd"/>
<rect x="195.75" y="776.70" width="9.95" height="9" fill="#ffe9e9"/>
<rect x="146" y="785.10" width="10.55" height="9" fill="#c6c6ff"/>
<rect x="155.95" y="785.10" width="10.55" height="9" fill="#ffe9e9"/>
<rect x="165.90" y="785.10" width="10.55" height="9" fill="#e2e2ff"/>
<rect x="175.85" y="785.10" width="10.55" height="9" fill="#faf9fd"/>
<rect x="185.80" y="785.10" width="10.55" height="9" fill="#ffe9e9"/>
<rect x="195.75" y="785.10" width="9.95" height="9" fill="#ffe9e9"/>
<rect x="146" y="793.50" width="10.55" height="9" fill="#ffcccc"/>
<rect x="155.95" y="793.50" width="10.55" height="9" fill="#ffe9e9"/>
<rect x="165.90" y="793.50" width="10.55" height="9" fill="#e2e2ff"/>
<rect x="175.85" y="793.50" width="10.55" height="9" fill="#e2e2ff"/>
<rect x="185.80" y="793.50" width="10.55" height="9" fill="#ffa6a6"/>
<rect x="195.75" y="793.50" width="9.95" height="9" fill="#ff7c7c"/>
<rect x="146" y="801.90" width="10.55" height="9" fill="#ffe9e9"/>
<rect x="155.95" y="801.90" width="10.55" height="9" fill="#a4a4ff"/>
<rect x="165.90" y="801.90" width="10.55" height="9" fill="#ffcccc"/>
<rect x="175.85" y="801.90" width="10.55" height="9" fill="#faf9fd"/>
<rect x="185.80" y="801.90" width="10.55" height="9" fill="#ffe9e9"/>
<rect x="195.75" y="801.90" width="9.95" height="9" fill="#ff4a4a"/>
<rect x="146" y="810.30" width="10.55" height="9" fill="#ffe9e9"/>
<rect x="155.95" y="810.30" width="10.55" height="9" fill="#ffe9e9"/>
<rect x="165.90" y="810.30" width="10.55" height="9" fill="#ffe9e9"/>
<rect x="175.85" y="810.30" width="10.55" height="9" fill="#ffe9e9"/>
<rect x="185.80" y="810.30" width="10.55" height="9" fill="#ffcccc"/>
<rect x="195.75" y="810.30" width="9.95" height="9" fill="#faf9fd"/>
<rect x="146" y="818.70" width="10.55" height="9" fill="#faf9fd"/>
<rect x="155.95" y="818.70" width="10.55" height="9" fill="#e2e2ff"/>
<rect x="165.90" y="818.70" width="10.55" height="9" fill="#ffcccc"/>
<rect x="175.85" y="818.70" width="10.55" height="9" fill="#ffcccc"/>
<rect x="185.80" y="818.70" width="10.55" height="9" fill="#ffe9e9"/>
<rect x="195.75" y="818.70" width="9.95" height="9" fill="#e2e2ff"/>
<rect x="146" y="827.10" width="10.55" height="9" fill="#c6c6ff"/>
<rect x="155.95" y="827.10" width="10.55" height="9" fill="#c6c6ff"/>
<rect x="165.90" y="827.10" width="10.55" height="9" fill="#ffcccc"/>
<rect x="175.85" y="827.10" width="10.55" height="9" fill="#ffcccc"/>
<rect x="185.80" y="827.10" width="10.55" height="9" fill="#e2e2ff"/>
<rect x="195.75" y="827.10" width="9.95" height="9" fill="#ffe9e9"/>
<rect x="146" y="835.50" width="10.55" height="9" fill="#ffe9e9"/>
<rect x="155.95" y="835.50" width="10.55" height="9" fill="#ffe9e9"/>
<rect x="165.90" y="835.50" width="10.55" height="9" fill="#ffe9e9"/>
<rect x="175.85" y="835.50" width="10.55" height="9" fill="#ffe9e9"/>
<rect x="185.80" y="835.50" width="10.55" height="9" fill="#ffcccc"/>
<rect x="195.75" y="835.50" width="9.95" height="9" fill="#ffe9e9"/>
<rect x="146" y="843.90" width="10.55" height="9" fill="#e2e2ff"/>
<rect x="155.95" y="843.90" width="10.55" height="9" fill="#e2e2ff"/>
<rect x="165.90" y="843.90" width="10.55" height="9" fill="#ffcccc"/>
<rect x="175.85" y="843.90" width="10.55" height="9" fill="#e2e2ff"/>
<rect x="185.80" y="843.90" width="10.55" height="9" fill="#ffcccc"/>
<rect x="195.75" y="843.90" width="9.95" height="9" fill="#ffe9e9"/>
<rect x="146" y="852.30" width="10.55" height="9" fill="#ffe9e9"/>
<rect x="155.95" y="852.30" width="10.55" height="9" fill="#faf9fd"/>
<rect x="165.90" y="852.30" width="10.55" height="9" fill="#c6c6ff"/>
<rect x="175.85" y="852.30" width="10.55" height="9" fill="#e2e2ff"/>
<rect x="185.80" y="852.30" width="10.55" height="9" fill="#e2e2ff"/>
<rect x="195.75" y="852.30" width="9.95" height="9" fill="#e2e2ff"/>
<rect x="146" y="860.70" width="10.55" height="9" fill="#faf9fd"/>
<rect x="155.95" y="860.70" width="10.55" height="9" fill="#ffa6a6"/>
<rect x="165.90" y="860.70" width="10.55" height="9" fill="#ffe9e9"/>
<rect x="175.85" y="860.70" width="10.55" height="9" fill="#ffe9e9"/>
<rect x="185.80" y="860.70" width="10.55" height="9" fill="#ffe9e9"/>
<rect x="195.75" y="860.70" width="9.95" height="9" fill="#ffcccc"/>
<rect x="146" y="869.10" width="10.55" height="9" fill="#7a7aff"/>
<rect x="155.95" y="869.10" width="10.55" height="9" fill="#e2e2ff"/>
<rect x="165.90" y="869.10" width="10.55" height="9" fill="#e2e2ff"/>
<rect x="175.85" y="869.10" width="10.55" height="9" fill="#faf9fd"/>
<rect x="185.80" y="869.10" width="10.55" height="9" fill="#ffe9e9"/>
<rect x="195.75" y="869.10" width="9.95" height="9" fill="#ffe9e9"/>
<rect x="146" y="877.50" width="10.55" height="9" fill="#e2e2ff"/>
<rect x="155.95" y="877.50" width="10.55" height="9" fill="#e2e2ff"/>
<rect x="165.90" y="877.50" width="10.55" height="9" fill="#ffcccc"/>
<rect x="175.85" y="877.50" width="10.55" height="9" fill="#ffe9e9"/>
<rect x="185.80" y="877.50" width="10.55" height="9" fill="#e2e2ff"/>
<rect x="195.75" y="877.50" width="9.95" height="9" fill="#ffe9e9"/>
<rect x="146" y="885.90" width="10.55" height="9" fill="#ffe9e9"/>
<rect x="155.95" y="885.90" width="10.55" height="9" fill="#e2e2ff"/>
<rect x="165.90" y="885.90" width="10.55" height="9" fill="#ffe9e9"/>
<rect x="175.85" y="885.90" width="10.55" height="9" fill="#ffe9e9"/>
<rect x="185.80" y="885.90" width="10.55" height="9" fill="#ff4a4a"/>
<rect x="195.75" y="885.90" width="9.95" height="9" fill="#ffa6a6"/>
<rect x="146" y="894.30" width="10.55" height="9" fill="#ffe9e9"/>
<rect x="155.95" y="894.30" width="10.55" height="9" fill="#ffe9e9"/>
<rect x="165.90" y="894.30" width="10.55" height="9" fill="#ffe9e9"/>
<rect x="175.85" y="894.30" width="10.55" height="9" fill="#ffe9e9"/>
<rect x="185.80" y="894.30" width="10.55" height="9" fill="#ffcccc"/>
<rect x="195.75" y="894.30" width="9.95" height="9" fill="#ffcccc"/>
<rect x="146" y="902.70" width="10.55" height="9" fill="#ffe9e9"/>
<rect x="155.95" y="902.70" width="10.55" height="9" fill="#ffcccc"/>
<rect x="165.90" y="902.70" width="10.55" height="9" fill="#ffcccc"/>
<rect x="175.85" y="902.70" width="10.55" height="9" fill="#ffe9e9"/>
<rect x="185.80" y="902.70" width="10.55" height="9" fill="#e2e2ff"/>
<rect x="195.75" y="902.70" width="9.95" height="9" fill="#ffe9e9"/>
<rect x="146" y="911.10" width="10.55" height="8.40" fill="#c6c6ff"/>
<rect x="155.95" y="911.10" width="10.55" height="8.40" fill="#7a7aff"/>
<rect x="165.90" y="911.10" width="10.55" height="8.40" fill="#ffe9e9"/>
<rect x="175.85" y="911.10" width="10.55" height="8.40" fill="#ffe9e9"/>
<rect x="185.80" y="911.10" width="10.55" height="8.40" fill="#ffcccc"/>
<rect x="195.75" y="911.10" width="9.95" height="8.40" fill="#ffcccc"/>
<rect x="146" y="922.80" width="10.55" height="8.93" fill="#a4a4ff"/>
<rect x="155.95" y="922.80" width="10.55" height="8.93" fill="#ffcccc"/>
<rect x="165.90" y="922.80" width="10.55" height="8.93" fill="#faf9fd"/>
<rect x="175.85" y="922.80" width="10.55" height="8.93" fill="#e2e2ff"/>
<rect x="185.80" y="922.80" width="10.55" height="8.93" fill="#c6c6ff"/>
<rect x="195.75" y="922.80" width="9.95" height="8.93" fill="#c6c6ff"/>
<rect x="146" y="931.13" width="10.55" height="8.93" fill="#faf9fd"/>
<rect x="155.95" y="931.13" width="10.55" height="8.93" fill="#ffe9e9"/>
<rect x="165.90" y="931.13" width="10.55" height="8.93" fill="#7a7aff"/>
<rect x="175.85" y="931.13" width="10.55" height="8.93" fill="#e2e2ff"/>
<rect x="185.80" y="931.13" width="10.55" height="8.93" fill="#c6c6ff"/>
<rect x="195.75" y="931.13" width="9.95" height="8.93" fill="#c6c6ff"/>
<rect x="146" y="939.46" width="10.55" height="8.93" fill="#a4a4ff"/>
<rect x="155.95" y="939.46" width="10.55" height="8.93" fill="#ffcccc"/>
<rect x="165.90" y="939.46" width="10.55" height="8.93" fill="#c6c6ff"/>
<rect x="175.85" y="939.46" width="10.55" height="8.93" fill="#c6c6ff"/>
<rect x="185.80" y="939.46" width="10.55" height="8.93" fill="#faf9fd"/>
<rect x="195.75" y="939.46" width="9.95" height="8.93" fill="#c6c6ff"/>
<rect x="146" y="947.79" width="10.55" height="8.33" fill="#a4a4ff"/>
<rect x="155.95" y="947.79" width="10.55" height="8.33" fill="#ffe9e9"/>
<rect x="165.90" y="947.79" width="10.55" height="8.33" fill="#e2e2ff"/>
<rect x="175.85" y="947.79" width="10.55" height="8.33" fill="#a4a4ff"/>
<rect x="185.80" y="947.79" width="10.55" height="8.33" fill="#7a7aff"/>
<rect x="195.75" y="947.79" width="9.95" height="8.33" fill="#c6c6ff"/>
<rect x="210.50" y="449.10" width="10.60" height="9" fill="#ffa6a6"/>
<rect x="220.50" y="449.10" width="10.70" height="9" fill="#ff4a4a"/>
<rect x="230.60" y="449.10" width="10.60" height="9" fill="#ffa6a6"/>
<rect x="240.60" y="449.10" width="7.60" height="9" fill="#ffcccc"/>
<rect x="210.50" y="457.50" width="10.60" height="9" fill="#ffe9e9"/>
<rect x="220.50" y="457.50" width="10.70" height="9" fill="#ff7c7c"/>
<rect x="230.60" y="457.50" width="10.60" height="9" fill="#ffe9e9"/>
<rect x="240.60" y="457.50" width="7.60" height="9" fill="#ffe9e9"/>
<rect x="210.50" y="465.90" width="10.60" height="9" fill="#ffe9e9"/>
<rect x="220.50" y="465.90" width="10.70" height="9" fill="#ff7c7c"/>
<rect x="230.60" y="465.90" width="10.60" height="9" fill="#ffcccc"/>
<rect x="240.60" y="465.90" width="7.60" height="9" fill="#ffa6a6"/>
<rect x="210.50" y="474.30" width="10.60" height="9" fill="#ff7c7c"/>
<rect x="220.50" y="474.30" width="10.70" height="9" fill="#ffcccc"/>
<rect x="230.60" y="474.30" width="10.60" height="9" fill="#ffcccc"/>
<rect x="240.60" y="474.30" width="7.60" height="9" fill="#ffa6a6"/>
<rect x="210.50" y="482.70" width="10.60" height="9" fill="#ffa6a6"/>
<rect x="220.50" y="482.70" width="10.70" height="9" fill="#ff4a4a"/>
<rect x="230.60" y="482.70" width="10.60" height="9" fill="#ff7c7c"/>
<rect x="240.60" y="482.70" width="7.60" height="9" fill="#ffcccc"/>
<rect x="210.50" y="491.10" width="10.60" height="9" fill="#ffa6a6"/>
<rect x="220.50" y="491.10" width="10.70" height="9" fill="#ffa6a6"/>
<rect x="230.60" y="491.10" width="10.60" height="9" fill="#ff7c7c"/>
<rect x="240.60" y="491.10" width="7.60" height="9" fill="#ff7c7c"/>
<rect x="210.50" y="499.50" width="10.60" height="9" fill="#ffa6a6"/>
<rect x="220.50" y="499.50" width="10.70" height="9" fill="#ff7c7c"/>
<rect x="230.60" y="499.50" width="10.60" height="9" fill="#faf9fd"/>
<rect x="240.60" y="499.50" width="7.60" height="9" fill="#ffa6a6"/>
<rect x="210.50" y="507.90" width="10.60" height="9" fill="#ff0c0c"/>
<rect x="220.50" y="507.90" width="10.70" height="9" fill="#ff4a4a"/>
<rect x="230.60" y="507.90" width="10.60" height="9" fill="#ff4a4a"/>
<rect x="240.60" y="507.90" width="7.60" height="9" fill="#ff4a4a"/>
<rect x="210.50" y="516.30" width="10.60" height="9" fill="#ffcccc"/>
<rect x="220.50" y="516.30" width="10.70" height="9" fill="#ffa6a6"/>
<rect x="230.60" y="516.30" width="10.60" height="9" fill="#ffe9e9"/>
<rect x="240.60" y="516.30" width="7.60" height="9" fill="#ffa6a6"/>
<rect x="210.50" y="524.70" width="10.60" height="9" fill="#ffa6a6"/>
<rect x="220.50" y="524.70" width="10.70" height="9" fill="#ffa6a6"/>
<rect x="230.60" y="524.70" width="10.60" height="9" fill="#ffa6a6"/>
<rect x="240.60" y="524.70" width="7.60" height="9" fill="#ffa6a6"/>
<rect x="210.50" y="533.10" width="10.60" height="9" fill="#ff7c7c"/>
<rect x="220.50" y="533.10" width="10.70" height="9" fill="#ff4a4a"/>
<rect x="230.60" y="533.10" width="10.60" height="9" fill="#ffe9e9"/>
<rect x="240.60" y="533.10" width="7.60" height="9" fill="#ff7c7c"/>
<rect x="210.50" y="541.50" width="10.60" height="9" fill="#ffa6a6"/>
<rect x="220.50" y="541.50" width="10.70" height="9" fill="#ff7c7c"/>
<rect x="230.60" y="541.50" width="10.60" height="9" fill="#ff7c7c"/>
<rect x="240.60" y="541.50" width="7.60" height="9" fill="#ffcccc"/>
<rect x="210.50" y="549.90" width="10.60" height="9" fill="#faf9fd"/>
<rect x="220.50" y="549.90" width="10.70" height="9" fill="#ffa6a6"/>
<rect x="230.60" y="549.90" width="10.60" height="9" fill="#ffa6a6"/>
<rect x="240.60" y="549.90" width="7.60" height="9" fill="#ffa6a6"/>
<rect x="210.50" y="558.30" width="10.60" height="9" fill="#ffcccc"/>
<rect x="220.50" y="558.30" width="10.70" height="9" fill="#ff4a4a"/>
<rect x="230.60" y="558.30" width="10.60" height="9" fill="#ffa6a6"/>
<rect x="240.60" y="558.30" width="7.60" height="9" fill="#ffa6a6"/>
<rect x="210.50" y="566.70" width="10.60" height="9" fill="#ffa6a6"/>
<rect x="220.50" y="566.70" width="10.70" height="9" fill="#ffcccc"/>
<rect x="230.60" y="566.70" width="10.60" height="9" fill="#ffa6a6"/>
<rect x="240.60" y="566.70" width="7.60" height="9" fill="#ffcccc"/>
<rect x="210.50" y="575.10" width="10.60" height="9" fill="#ffcccc"/>
<rect x="220.50" y="575.10" width="10.70" height="9" fill="#ffcccc"/>
<rect x="230.60" y="575.10" width="10.60" height="9" fill="#ffcccc"/>
<rect x="240.60" y="575.10" width="7.60" height="9" fill="#ffa6a6"/>
<rect x="210.50" y="583.50" width="10.60" height="9" fill="#ffe9e9"/>
<rect x="220.50" y="583.50" width="10.70" height="9" fill="#ffa6a6"/>
<rect x="230.60" y="583.50" width="10.60" height="9" fill="#ffa6a6"/>
<rect x="240.60" y="583.50" width="7.60" height="9" fill="#ffcccc"/>
<rect x="210.50" y="591.90" width="10.60" height="9" fill="#ff7c7c"/>
<rect x="220.50" y="591.90" width="10.70" height="9" fill="#ffa6a6"/>
<rect x="230.60" y="591.90" width="10.60" height="9" fill="#ffa6a6"/>
<rect x="240.60" y="591.90" width="7.60" height="9" fill="#c6c6ff"/>
<rect x="210.50" y="600.30" width="10.60" height="9" fill="#c6c6ff"/>
<rect x="220.50" y="600.30" width="10.70" height="9" fill="#ff0c0c"/>
<rect x="230.60" y="600.30" width="10.60" height="9" fill="#ffe9e9"/>
<rect x="240.60" y="600.30" width="7.60" height="9" fill="#ffe9e9"/>
<rect x="210.50" y="608.70" width="10.60" height="9" fill="#ffe9e9"/>
<rect x="220.50" y="608.70" width="10.70" height="9" fill="#ffcccc"/>
<rect x="230.60" y="608.70" width="10.60" height="9" fill="#ffcccc"/>
<rect x="240.60" y="608.70" width="7.60" height="9" fill="#faf9fd"/>
<rect x="210.50" y="617.10" width="10.60" height="9" fill="#ff0c0c"/>
<rect x="220.50" y="617.10" width="10.70" height="9" fill="#ff0c0c"/>
<rect x="230.60" y="617.10" width="10.60" height="9" fill="#ff0c0c"/>
<rect x="240.60" y="617.10" width="7.60" height="9" fill="#ff7c7c"/>
<rect x="210.50" y="625.50" width="10.60" height="9" fill="#ff7c7c"/>
<rect x="220.50" y="625.50" width="10.70" height="9" fill="#e2e2ff"/>
<rect x="230.60" y="625.50" width="10.60" height="9" fill="#ffa6a6"/>
<rect x="240.60" y="625.50" width="7.60" height="9" fill="#ffe9e9"/>
<rect x="210.50" y="633.90" width="10.60" height="9" fill="#ffa6a6"/>
<rect x="220.50" y="633.90" width="10.70" height="9" fill="#ffcccc"/>
<rect x="230.60" y="633.90" width="10.60" height="9" fill="#ffa6a6"/>
<rect x="240.60" y="633.90" width="7.60" height="9" fill="#ff7c7c"/>
<rect x="210.50" y="642.30" width="10.60" height="9" fill="#ffa6a6"/>
<rect x="220.50" y="642.30" width="10.70" height="9" fill="#faf9fd"/>
<rect x="230.60" y="642.30" width="10.60" height="9" fill="#ffcccc"/>
<rect x="240.60" y="642.30" width="7.60" height="9" fill="#ffcccc"/>
<rect x="210.50" y="650.70" width="10.60" height="9" fill="#ffa6a6"/>
<rect x="220.50" y="650.70" width="10.70" height="9" fill="#ffa6a6"/>
<rect x="230.60" y="650.70" width="10.60" height="9" fill="#e2e2ff"/>
<rect x="240.60" y="650.70" width="7.60" height="9" fill="#c6c6ff"/>
<rect x="210.50" y="659.10" width="10.60" height="9" fill="#ffcccc"/>
<rect x="220.50" y="659.10" width="10.70" height="9" fill="#ffcccc"/>
<rect x="230.60" y="659.10" width="10.60" height="9" fill="#ffe9e9"/>
<rect x="240.60" y="659.10" width="7.60" height="9" fill="#ffcccc"/>
<rect x="210.50" y="667.50" width="10.60" height="9" fill="#ff4a4a"/>
<rect x="220.50" y="667.50" width="10.70" height="9" fill="#ff7c7c"/>
<rect x="230.60" y="667.50" width="10.60" height="9" fill="#ffe9e9"/>
<rect x="240.60" y="667.50" width="7.60" height="9" fill="#ffa6a6"/>
<rect x="210.50" y="675.90" width="10.60" height="9" fill="#ff4a4a"/>
<rect x="220.50" y="675.90" width="10.70" height="9" fill="#ff7c7c"/>
<rect x="230.60" y="675.90" width="10.60" height="9" fill="#ff7c7c"/>
<rect x="240.60" y="675.90" width="7.60" height="9" fill="#ff7c7c"/>
<rect x="210.50" y="684.30" width="10.60" height="9" fill="#ffcccc"/>
<rect x="220.50" y="684.30" width="10.70" height="9" fill="#ff7c7c"/>
<rect x="230.60" y="684.30" width="10.60" height="9" fill="#ff7c7c"/>
<rect x="240.60" y="684.30" width="7.60" height="9" fill="#ffa6a6"/>
<rect x="210.50" y="692.70" width="10.60" height="9" fill="#e2e2ff"/>
<rect x="220.50" y="692.70" width="10.70" height="9" fill="#ff7c7c"/>
<rect x="230.60" y="692.70" width="10.60" height="9" fill="#ffe9e9"/>
<rect x="240.60" y="692.70" width="7.60" height="9" fill="#ffcccc"/>
<rect x="210.50" y="701.10" width="10.60" height="9" fill="#ffa6a6"/>
<rect x="220.50" y="701.10" width="10.70" height="9" fill="#ff7c7c"/>
<rect x="230.60" y="701.10" width="10.60" height="9" fill="#ff7c7c"/>
<rect x="240.60" y="701.10" width="7.60" height="9" fill="#ffcccc"/>
<rect x="210.50" y="709.50" width="10.60" height="9" fill="#ff7c7c"/>
<rect x="220.50" y="709.50" width="10.70" height="9" fill="#ff7c7c"/>
<rect x="230.60" y="709.50" width="10.60" height="9" fill="#ff4a4a"/>
<rect x="240.60" y="709.50" width="7.60" height="9" fill="#ffe9e9"/>
<rect x="210.50" y="717.90" width="10.60" height="9" fill="#ffcccc"/>
<rect x="220.50" y="717.90" width="10.70" height="9" fill="#ffcccc"/>
<rect x="230.60" y="717.90" width="10.60" height="9" fill="#ffcccc"/>
<rect x="240.60" y="717.90" width="7.60" height="9" fill="#ffa6a6"/>
<rect x="210.50" y="726.30" width="10.60" height="9" fill="#ff7c7c"/>
<rect x="220.50" y="726.30" width="10.70" height="9" fill="#ffe9e9"/>
<rect x="230.60" y="726.30" width="10.60" height="9" fill="#ffa6a6"/>
<rect x="240.60" y="726.30" width="7.60" height="9" fill="#ff7c7c"/>
<rect x="210.50" y="734.70" width="10.60" height="9" fill="#ffcccc"/>
<rect x="220.50" y="734.70" width="10.70" height="9" fill="#ffe9e9"/>
<rect x="230.60" y="734.70" width="10.60" height="9" fill="#ffe9e9"/>
<rect x="240.60" y="734.70" width="7.60" height="9" fill="#ffa6a6"/>
<rect x="210.50" y="743.10" width="10.60" height="9" fill="#faf9fd"/>
<rect x="220.50" y="743.10" width="10.70" height="9" fill="#ffa6a6"/>
<rect x="230.60" y="743.10" width="10.60" height="9" fill="#ffcccc"/>
<rect x="240.60" y="743.10" width="7.60" height="9" fill="#ffe9e9"/>
<rect x="210.50" y="751.50" width="10.60" height="9" fill="#faf9fd"/>
<rect x="220.50" y="751.50" width="10.70" height="9" fill="#ff7c7c"/>
<rect x="230.60" y="751.50" width="10.60" height="9" fill="#ffa6a6"/>
<rect x="240.60" y="751.50" width="7.60" height="9" fill="#ffcccc"/>
<rect x="210.50" y="759.90" width="10.60" height="9" fill="#ffcccc"/>
<rect x="220.50" y="759.90" width="10.70" height="9" fill="#ffcccc"/>
<rect x="230.60" y="759.90" width="10.60" height="9" fill="#ffcccc"/>
<rect x="240.60" y="759.90" width="7.60" height="9" fill="#ffa6a6"/>
<rect x="210.50" y="768.30" width="10.60" height="9" fill="#ff0c0c"/>
<rect x="220.50" y="768.30" width="10.70" height="9" fill="#ffa6a6"/>
<rect x="230.60" y="768.30" width="10.60" height="9" fill="#ffa6a6"/>
<rect x="240.60" y="768.30" width="7.60" height="9" fill="#ffcccc"/>
<rect x="210.50" y="776.70" width="10.60" height="9" fill="#ffcccc"/>
<rect x="220.50" y="776.70" width="10.70" height="9" fill="#ffa6a6"/>
<rect x="230.60" y="776.70" width="10.60" height="9" fill="#ff4a4a"/>
<rect x="240.60" y="776.70" width="7.60" height="9" fill="#ffa6a6"/>
<rect x="210.50" y="785.10" width="10.60" height="9" fill="#ff4a4a"/>
<rect x="220.50" y="785.10" width="10.70" height="9" fill="#ff7c7c"/>
<rect x="230.60" y="785.10" width="10.60" height="9" fill="#ffa6a6"/>
<rect x="240.60" y="785.10" width="7.60" height="9" fill="#ffa6a6"/>
<rect x="210.50" y="793.50" width="10.60" height="9" fill="#ffe9e9"/>
<rect x="220.50" y="793.50" width="10.70" height="9" fill="#ffe9e9"/>
<rect x="230.60" y="793.50" width="10.60" height="9" fill="#ffe9e9"/>
<rect x="240.60" y="793.50" width="7.60" height="9" fill="#ffcccc"/>
<rect x="210.50" y="801.90" width="10.60" height="9" fill="#ffcccc"/>
<rect x="220.50" y="801.90" width="10.70" height="9" fill="#ffe9e9"/>
<rect x="230.60" y="801.90" width="10.60" height="9" fill="#e2e2ff"/>
<rect x="240.60" y="801.90" width="7.60" height="9" fill="#ffa6a6"/>
<rect x="210.50" y="810.30" width="10.60" height="9" fill="#ffcccc"/>
<rect x="220.50" y="810.30" width="10.70" height="9" fill="#ffcccc"/>
<rect x="230.60" y="810.30" width="10.60" height="9" fill="#ffcccc"/>
<rect x="240.60" y="810.30" width="7.60" height="9" fill="#ffcccc"/>
<rect x="210.50" y="818.70" width="10.60" height="9" fill="#ff7c7c"/>
<rect x="220.50" y="818.70" width="10.70" height="9" fill="#ffe9e9"/>
<rect x="230.60" y="818.70" width="10.60" height="9" fill="#ffe9e9"/>
<rect x="240.60" y="818.70" width="7.60" height="9" fill="#ffe9e9"/>
<rect x="210.50" y="827.10" width="10.60" height="9" fill="#ff7c7c"/>
<rect x="220.50" y="827.10" width="10.70" height="9" fill="#ff7c7c"/>
<rect x="230.60" y="827.10" width="10.60" height="9" fill="#ffe9e9"/>
<rect x="240.60" y="827.10" width="7.60" height="9" fill="#ffcccc"/>
<rect x="210.50" y="835.50" width="10.60" height="9" fill="#ffa6a6"/>
<rect x="220.50" y="835.50" width="10.70" height="9" fill="#ffa6a6"/>
<rect x="230.60" y="835.50" width="10.60" height="9" fill="#ffcccc"/>
<rect x="240.60" y="835.50" width="7.60" height="9" fill="#ffa6a6"/>
<rect x="210.50" y="843.90" width="10.60" height="9" fill="#ffcccc"/>
<rect x="220.50" y="843.90" width="10.70" height="9" fill="#ffa6a6"/>
<rect x="230.60" y="843.90" width="10.60" height="9" fill="#faf9fd"/>
<rect x="240.60" y="843.90" width="7.60" height="9" fill="#ffa6a6"/>
<rect x="210.50" y="852.30" width="10.60" height="9" fill="#ff7c7c"/>
<rect x="220.50" y="852.30" width="10.70" height="9" fill="#ffa6a6"/>
<rect x="230.60" y="852.30" width="10.60" height="9" fill="#ff7c7c"/>
<rect x="240.60" y="852.30" width="7.60" height="9" fill="#ffe9e9"/>
<rect x="210.50" y="860.70" width="10.60" height="9" fill="#c6c6ff"/>
<rect x="220.50" y="860.70" width="10.70" height="9" fill="#ff7c7c"/>
<rect x="230.60" y="860.70" width="10.60" height="9" fill="#ffa6a6"/>
<rect x="240.60" y="860.70" width="7.60" height="9" fill="#ffe9e9"/>
<rect x="210.50" y="869.10" width="10.60" height="9" fill="#ff7c7c"/>
<rect x="220.50" y="869.10" width="10.70" height="9" fill="#ff7c7c"/>
<rect x="230.60" y="869.10" width="10.60" height="9" fill="#ffa6a6"/>
<rect x="240.60" y="869.10" width="7.60" height="9" fill="#ffe9e9"/>
<rect x="210.50" y="877.50" width="10.60" height="9" fill="#ffa6a6"/>
<rect x="220.50" y="877.50" width="10.70" height="9" fill="#ffcccc"/>
<rect x="230.60" y="877.50" width="10.60" height="9" fill="#ffa6a6"/>
<rect x="240.60" y="877.50" width="7.60" height="9" fill="#ffa6a6"/>
<rect x="210.50" y="885.90" width="10.60" height="9" fill="#ffa6a6"/>
<rect x="220.50" y="885.90" width="10.70" height="9" fill="#ffe9e9"/>
<rect x="230.60" y="885.90" width="10.60" height="9" fill="#ffe9e9"/>
<rect x="240.60" y="885.90" width="7.60" height="9" fill="#ffcccc"/>
<rect x="210.50" y="894.30" width="10.60" height="9" fill="#ffe9e9"/>
<rect x="220.50" y="894.30" width="10.70" height="9" fill="#ffa6a6"/>
<rect x="230.60" y="894.30" width="10.60" height="9" fill="#ffcccc"/>
<rect x="240.60" y="894.30" width="7.60" height="9" fill="#ffcccc"/>
<rect x="210.50" y="902.70" width="10.60" height="9" fill="#ff7c7c"/>
<rect x="220.50" y="902.70" width="10.70" height="9" fill="#ff7c7c"/>
<rect x="230.60" y="902.70" width="10.60" height="9" fill="#ff7c7c"/>
<rect x="240.60" y="902.70" width="7.60" height="9" fill="#ff7c7c"/>
<rect x="210.50" y="911.10" width="10.60" height="8.40" fill="#ffa6a6"/>
<rect x="220.50" y="911.10" width="10.70" height="8.40" fill="#ffa6a6"/>
<rect x="230.60" y="911.10" width="10.60" height="8.40" fill="#ffa6a6"/>
<rect x="240.60" y="911.10" width="7.60" height="8.40" fill="#faf9fd"/>
<rect x="210.50" y="922.80" width="10.60" height="8.93" fill="#c6c6ff"/>
<rect x="220.50" y="922.80" width="10.70" height="8.93" fill="#faf9fd"/>
<rect x="230.60" y="922.80" width="10.60" height="8.93" fill="#e2e2ff"/>
<rect x="240.60" y="922.80" width="7.60" height="8.93" fill="#ffe9e9"/>
<rect x="210.50" y="931.13" width="10.60" height="8.93" fill="#ffe9e9"/>
<rect x="220.50" y="931.13" width="10.70" height="8.93" fill="#ffe9e9"/>
<rect x="230.60" y="931.13" width="10.60" height="8.93" fill="#a4a4ff"/>
<rect x="240.60" y="931.13" width="7.60" height="8.93" fill="#c6c6ff"/>
<rect x="210.50" y="939.46" width="10.60" height="8.93" fill="#c6c6ff"/>
<rect x="220.50" y="939.46" width="10.70" height="8.93" fill="#ffcccc"/>
<rect x="230.60" y="939.46" width="10.60" height="8.93" fill="#a4a4ff"/>
<rect x="240.60" y="939.46" width="7.60" height="8.93" fill="#faf9fd"/>
<rect x="210.50" y="947.79" width="10.60" height="8.33" fill="#ffe9e9"/>
<rect x="220.50" y="947.79" width="10.70" height="8.33" fill="#faf9fd"/>
<rect x="230.60" y="947.79" width="10.60" height="8.33" fill="#c6c6ff"/>
<rect x="240.60" y="947.79" width="7.60" height="8.33" fill="#c6c6ff"/>
<text x="249.80" y="456.10" font-size="6.3" text-anchor="start" fill="#111" >ITGAX</text>
<text x="249.80" y="464.50" font-size="6.3" text-anchor="start" fill="#111" >LIF</text>
<text x="249.80" y="472.90" font-size="6.3" text-anchor="start" fill="#111" >THBS1</text>
<text x="249.80" y="481.30" font-size="6.3" text-anchor="start" fill="#111" >TNFRSF12A</text>
<text x="249.80" y="489.70" font-size="6.3" text-anchor="start" fill="#111" >TNFSF14</text>
<text x="249.80" y="498.10" font-size="6.3" text-anchor="start" fill="#111" >CCL18</text>
<text x="249.80" y="506.50" font-size="6.3" text-anchor="start" fill="#111" >F2RL1</text>
<text x="249.80" y="514.90" font-size="6.3" text-anchor="start" fill="#111" >CCL2</text>
<text x="249.80" y="523.30" font-size="6.3" text-anchor="start" fill="#111" >CCL20</text>
<text x="249.80" y="531.70" font-size="6.3" text-anchor="start" fill="#111" >CXCL3</text>
<text x="249.80" y="540.10" font-size="6.3" text-anchor="start" fill="#111" >IL1RL1</text>
<text x="249.80" y="548.50" font-size="6.3" text-anchor="start" fill="#111" >IL1RN</text>
<text x="249.80" y="556.90" font-size="6.3" text-anchor="start" fill="#111" >SPP1</text>
<text x="249.80" y="565.30" font-size="6.3" text-anchor="start" fill="#111" >TREM1</text>
<text x="249.80" y="573.70" font-size="6.3" text-anchor="start" fill="#111" >CDKN1A</text>
<text x="249.80" y="582.10" font-size="6.3" text-anchor="start" fill="#111" >CD274</text>
<text x="249.80" y="590.50" font-size="6.3" text-anchor="start" fill="#111" >FPR2</text>
<text x="249.80" y="598.90" font-size="6.3" text-anchor="start" fill="#111" >CD44</text>
<text x="249.80" y="607.30" font-size="6.3" text-anchor="start" fill="#111" >CD9</text>
<text x="249.80" y="615.70" font-size="6.3" text-anchor="start" fill="#111" >EPCAM</text>
<text x="249.80" y="624.10" font-size="6.3" text-anchor="start" fill="#111" >ICAM1</text>
<text x="249.80" y="632.50" font-size="6.3" text-anchor="start" fill="#111" >ITGB3</text>
<text x="249.80" y="640.90" font-size="6.3" text-anchor="start" fill="#111" >JAM3</text>
<text x="249.80" y="649.30" font-size="6.3" text-anchor="start" fill="#111" >MCAM</text>
<text x="249.80" y="657.70" font-size="6.3" text-anchor="start" fill="#111" >PLAU</text>
<text x="249.80" y="666.10" font-size="6.3" text-anchor="start" fill="#111" >CD83</text>
<text x="249.80" y="674.50" font-size="6.3" text-anchor="start" fill="#111" >CTSL</text>
<text x="249.80" y="682.90" font-size="6.3" text-anchor="start" fill="#111" >ANXA1</text>
<text x="249.80" y="691.30" font-size="6.3" text-anchor="start" fill="#111" >IFI16</text>
<text x="249.80" y="699.70" font-size="6.3" text-anchor="start" fill="#111" >ISG20</text>
<text x="249.80" y="708.10" font-size="6.3" text-anchor="start" fill="#111" >CCL7</text>
<text x="249.80" y="716.50" font-size="6.3" text-anchor="start" fill="#111" >CXCL8</text>
<text x="249.80" y="724.90" font-size="6.3" text-anchor="start" fill="#111" >CXCR1</text>
<text x="249.80" y="733.30" font-size="6.3" text-anchor="start" fill="#111" >IRF1</text>
<text x="249.80" y="741.70" font-size="6.3" text-anchor="start" fill="#111" >IRF4</text>
<text x="249.80" y="750.10" font-size="6.3" text-anchor="start" fill="#111" >IL15RA</text>
<text x="249.80" y="758.50" font-size="6.3" text-anchor="start" fill="#111" >CCL3L1</text>
<text x="249.80" y="766.90" font-size="6.3" text-anchor="start" fill="#111" >CD180</text>
<text x="249.80" y="775.30" font-size="6.3" text-anchor="start" fill="#111" >CXCL1</text>
<text x="249.80" y="783.70" font-size="6.3" text-anchor="start" fill="#111" >IL1R1</text>
<text x="249.80" y="792.10" font-size="6.3" text-anchor="start" fill="#111" >IRAK2</text>
<text x="249.80" y="800.50" font-size="6.3" text-anchor="start" fill="#111" >LGALS3</text>
<text x="249.80" y="808.90" font-size="6.3" text-anchor="start" fill="#111" >NFKBIA</text>
<text x="249.80" y="817.30" font-size="6.3" text-anchor="start" fill="#111" >PPBP</text>
<text x="249.80" y="825.70" font-size="6.3" text-anchor="start" fill="#111" >NFKB2</text>
<text x="249.80" y="834.10" font-size="6.3" text-anchor="start" fill="#111" >TNFRSF11B</text>
<text x="249.80" y="842.50" font-size="6.3" text-anchor="start" fill="#111" >RELB</text>
<text x="249.80" y="850.90" font-size="6.3" text-anchor="start" fill="#111" >NFATC2</text>
<text x="249.80" y="859.30" font-size="6.3" text-anchor="start" fill="#111" >CSF2RB</text>
<text x="249.80" y="867.70" font-size="6.3" text-anchor="start" fill="#111" >HAVCR2</text>
<text x="249.80" y="876.10" font-size="6.3" text-anchor="start" fill="#111" >LILRB3</text>
<text x="249.80" y="884.50" font-size="6.3" text-anchor="start" fill="#111" >RIPK2</text>
<text x="249.80" y="892.90" font-size="6.3" text-anchor="start" fill="#111" >SOCS1</text>
<text x="249.80" y="901.30" font-size="6.3" text-anchor="start" fill="#111" >SMAD3</text>
<text x="249.80" y="909.70" font-size="6.3" text-anchor="start" fill="#111" >TNFAIP3</text>
<text x="249.80" y="918.10" font-size="6.3" text-anchor="start" fill="#111" >RUNX1</text>
<text x="249.80" y="929.76" font-size="6.3" text-anchor="start" fill="#111" >HLA-DMB</text>
<text x="249.80" y="938.09" font-size="6.3" text-anchor="start" fill="#111" >LRP1</text>
<text x="249.80" y="946.42" font-size="6.3" text-anchor="start" fill="#111" >SIGLEC1</text>
<text x="249.80" y="954.75" font-size="6.3" text-anchor="start" fill="#111" >VCAM1</text>
<text transform="translate(48.05,961.00) rotate(-90)" font-size="6.1" text-anchor="end" fill="#111">OPN27</text>
<text transform="translate(57.95,961.00) rotate(-90)" font-size="6.1" text-anchor="end" fill="#111">OPN10</text>
<text transform="translate(67.85,961.00) rotate(-90)" font-size="6.1" text-anchor="end" fill="#111">CTC21</text>
<text transform="translate(77.75,961.00) rotate(-90)" font-size="6.1" text-anchor="end" fill="#111">CTC19</text>
<text transform="translate(87.65,961.00) rotate(-90)" font-size="6.1" text-anchor="end" fill="#111">CTC22</text>
<text transform="translate(97.55,961.00) rotate(-90)" font-size="6.1" text-anchor="end" fill="#111">CTC16</text>
<text transform="translate(107.45,961.00) rotate(-90)" font-size="6.1" text-anchor="end" fill="#111">OPN24</text>
<text transform="translate(117.35,961.00) rotate(-90)" font-size="6.1" text-anchor="end" fill="#111">OPN11</text>
<text transform="translate(127.25,961.00) rotate(-90)" font-size="6.1" text-anchor="end" fill="#111">OPN03</text>
<text transform="translate(137.15,961.00) rotate(-90)" font-size="6.1" text-anchor="end" fill="#111">OPN37</text>
<text transform="translate(153.17,961.00) rotate(-90)" font-size="6.1" text-anchor="end" fill="#111">OPN27</text>
<text transform="translate(163.12,961.00) rotate(-90)" font-size="6.1" text-anchor="end" fill="#111">OPN10</text>
<text transform="translate(173.07,961.00) rotate(-90)" font-size="6.1" text-anchor="end" fill="#111">CTC21</text>
<text transform="translate(183.02,961.00) rotate(-90)" font-size="6.1" text-anchor="end" fill="#111">CTC19</text>
<text transform="translate(192.97,961.00) rotate(-90)" font-size="6.1" text-anchor="end" fill="#111">CTC22</text>
<text transform="translate(202.92,961.00) rotate(-90)" font-size="6.1" text-anchor="end" fill="#111">CTC16</text>
<text transform="translate(217.70,961.00) rotate(-90)" font-size="6.1" text-anchor="end" fill="#111">OPN24</text>
<text transform="translate(227.75,961.00) rotate(-90)" font-size="6.1" text-anchor="end" fill="#111">OPN11</text>
<text transform="translate(237.80,961.00) rotate(-90)" font-size="6.1" text-anchor="end" fill="#111">OPN03</text>
<text transform="translate(246.60,961.00) rotate(-90)" font-size="6.1" text-anchor="end" fill="#111">OPN37</text>
<text x="90.50" y="444.90" font-size="10.2" font-weight="bold" text-anchor="middle" fill="#000" >Pre</text>
<text x="197.50" y="444.90" font-size="10.2" font-weight="bold" text-anchor="middle" fill="#000" >Reperfusion</text>
<text x="5.20" y="444.60" font-size="16.5" font-weight="bold" text-anchor="start" fill="#000" >c</text>
<line x1="493.70" y1="39.50" x2="493.70" y2="245.10" stroke="#555" stroke-width="1.1" stroke-dasharray="1.1,1.97"/>
<line x1="372.70" y1="211.69" x2="670.20" y2="211.69" stroke="#555" stroke-width="1.1" stroke-dasharray="1.1,1.97"/>
<line x1="370.70" y1="38.60" x2="370.70" y2="253.60" stroke="#000" stroke-width="1.9"/>
<line x1="362.00" y1="245.10" x2="679.10" y2="245.10" stroke="#000" stroke-width="1.9"/>
<line x1="362.00" y1="245.10" x2="370.70" y2="245.10" stroke="#000" stroke-width="1.8"/>
<text x="360.10" y="250.30" font-size="14.5" font-weight="bold" text-anchor="end" fill="#000" >0</text>
<line x1="362.00" y1="193.70" x2="370.70" y2="193.70" stroke="#000" stroke-width="1.8"/>
<text x="360.10" y="198.90" font-size="14.5" font-weight="bold" text-anchor="end" fill="#000" >2</text>
<line x1="362.00" y1="142.30" x2="370.70" y2="142.30" stroke="#000" stroke-width="1.8"/>
<text x="360.10" y="147.50" font-size="14.5" font-weight="bold" text-anchor="end" fill="#000" >4</text>
<line x1="362.00" y1="90.90" x2="370.70" y2="90.90" stroke="#000" stroke-width="1.8"/>
<text x="360.10" y="96.10" font-size="14.5" font-weight="bold" text-anchor="end" fill="#000" >6</text>
<line x1="362.00" y1="39.50" x2="370.70" y2="39.50" stroke="#000" stroke-width="1.8"/>
<text x="360.10" y="44.70" font-size="14.5" font-weight="bold" text-anchor="end" fill="#000" >8</text>
<line x1="370.70" y1="245.10" x2="370.70" y2="253.60" stroke="#000" stroke-width="1.8"/>
<text x="369.80" y="270.60" font-size="14.5" font-weight="bold" text-anchor="middle" fill="#000" >-1</text>
<line x1="432.20" y1="245.10" x2="432.20" y2="253.60" stroke="#000" stroke-width="1.8"/>
<text x="432.20" y="270.60" font-size="14.5" font-weight="bold" text-anchor="middle" fill="#000" >0</text>
<line x1="493.70" y1="245.10" x2="493.70" y2="253.60" stroke="#000" stroke-width="1.8"/>
<text x="493.70" y="270.60" font-size="14.5" font-weight="bold" text-anchor="middle" fill="#000" >1</text>
<line x1="555.20" y1="245.10" x2="555.20" y2="253.60" stroke="#000" stroke-width="1.8"/>
<text x="555.20" y="270.60" font-size="14.5" font-weight="bold" text-anchor="middle" fill="#000" >2</text>
<line x1="616.70" y1="245.10" x2="616.70" y2="253.60" stroke="#000" stroke-width="1.8"/>
<text x="616.70" y="270.60" font-size="14.5" font-weight="bold" text-anchor="middle" fill="#000" >3</text>
<line x1="678.20" y1="245.10" x2="678.20" y2="253.60" stroke="#000" stroke-width="1.8"/>
<text x="678.20" y="270.60" font-size="14.5" font-weight="bold" text-anchor="middle" fill="#000" >4</text>
<g fill="none" stroke="#9b9b9b" stroke-width="1.1">
<circle cx="446.9" cy="239.7" r="2.05"/>
<circle cx="447.7" cy="237.9" r="2.05"/>
<circle cx="435.1" cy="243.7" r="2.05"/>
<circle cx="472.7" cy="198.2" r="2.05"/>
<circle cx="433.0" cy="243.1" r="2.05"/>
<circle cx="432.4" cy="244.3" r="2.05"/>
<circle cx="434.4" cy="243.1" r="2.05"/>
<circle cx="432.6" cy="244.6" r="2.05"/>
<circle cx="432.3" cy="244.2" r="2.05"/>
<circle cx="477.4" cy="201.9" r="2.05"/>
<circle cx="449.8" cy="231.0" r="2.05"/>
<circle cx="438.3" cy="239.2" r="2.05"/>
<circle cx="477.2" cy="208.2" r="2.05"/>
<circle cx="436.6" cy="242.5" r="2.05"/>
<circle cx="470.3" cy="206.3" r="2.05"/>
<circle cx="443.3" cy="228.2" r="2.05"/>
<circle cx="432.2" cy="244.7" r="2.05"/>
<circle cx="448.0" cy="224.3" r="2.05"/>
<circle cx="432.8" cy="243.9" r="2.05"/>
<circle cx="438.0" cy="237.9" r="2.05"/>
<circle cx="489.8" cy="196.0" r="2.05"/>
<circle cx="437.1" cy="240.2" r="2.05"/>
<circle cx="473.1" cy="200.2" r="2.05"/>
<circle cx="446.7" cy="228.2" r="2.05"/>
<circle cx="433.8" cy="243.6" r="2.05"/>
<circle cx="445.1" cy="232.8" r="2.05"/>
<circle cx="490.5" cy="189.2" r="2.05"/>
<circle cx="481.5" cy="198.3" r="2.05"/>
<circle cx="478.5" cy="210.8" r="2.05"/>
<circle cx="492.5" cy="189.9" r="2.05"/>
<circle cx="470.9" cy="217.5" r="2.05"/>
<circle cx="432.8" cy="243.8" r="2.05"/>
<circle cx="437.0" cy="241.8" r="2.05"/>
<circle cx="447.0" cy="224.5" r="2.05"/>
<circle cx="454.9" cy="221.8" r="2.05"/>
<circle cx="434.3" cy="244.0" r="2.05"/>
<circle cx="467.9" cy="204.7" r="2.05"/>
<circle cx="488.3" cy="202.3" r="2.05"/>
<circle cx="445.2" cy="237.7" r="2.05"/>
<circle cx="489.6" cy="193.2" r="2.05"/>
<circle cx="437.5" cy="238.3" r="2.05"/>
<circle cx="439.0" cy="236.2" r="2.05"/>
<circle cx="432.7" cy="243.7" r="2.05"/>
<circle cx="478.3" cy="215.4" r="2.05"/>
<circle cx="484.9" cy="199.9" r="2.05"/>
<circle cx="438.0" cy="240.8" r="2.05"/>
<circle cx="434.9" cy="242.8" r="2.05"/>
<circle cx="433.8" cy="243.1" r="2.05"/>
<circle cx="491.6" cy="210.2" r="2.05"/>
<circle cx="455.6" cy="223.8" r="2.05"/>
<circle cx="432.2" cy="244.4" r="2.05"/>
<circle cx="489.6" cy="191.6" r="2.05"/>
<circle cx="440.1" cy="237.7" r="2.05"/>
<circle cx="452.9" cy="227.7" r="2.05"/>
<circle cx="467.7" cy="220.2" r="2.05"/>
<circle cx="484.6" cy="215.0" r="2.05"/>
<circle cx="483.2" cy="185.7" r="2.05"/>
<circle cx="472.5" cy="194.9" r="2.05"/>
<circle cx="458.6" cy="230.2" r="2.05"/>
<circle cx="457.4" cy="207.6" r="2.05"/>
<circle cx="493.0" cy="213.3" r="2.05"/>
<circle cx="455.3" cy="212.7" r="2.05"/>
<circle cx="432.9" cy="244.3" r="2.05"/>
<circle cx="456.8" cy="226.1" r="2.05"/>
<circle cx="464.4" cy="216.0" r="2.05"/>
<circle cx="485.2" cy="200.3" r="2.05"/>
<circle cx="439.3" cy="238.5" r="2.05"/>
<circle cx="434.7" cy="242.6" r="2.05"/>
<circle cx="446.3" cy="236.4" r="2.05"/>
<circle cx="461.8" cy="225.6" r="2.05"/>
<circle cx="473.9" cy="188.9" r="2.05"/>
<circle cx="443.2" cy="238.8" r="2.05"/>
<circle cx="433.9" cy="242.5" r="2.05"/>
<circle cx="478.0" cy="205.7" r="2.05"/>
<circle cx="438.3" cy="242.9" r="2.05"/>
<circle cx="438.2" cy="237.2" r="2.05"/>
<circle cx="458.6" cy="209.6" r="2.05"/>
<circle cx="477.0" cy="206.2" r="2.05"/>
<circle cx="432.8" cy="243.1" r="2.05"/>
<circle cx="432.4" cy="244.6" r="2.05"/>
<circle cx="439.6" cy="241.5" r="2.05"/>
<circle cx="433.9" cy="243.6" r="2.05"/>
<circle cx="476.1" cy="207.3" r="2.05"/>
<circle cx="432.4" cy="244.3" r="2.05"/>
<circle cx="459.0" cy="228.6" r="2.05"/>
<circle cx="489.2" cy="220.7" r="2.05"/>
<circle cx="448.3" cy="234.8" r="2.05"/>
<circle cx="448.1" cy="230.9" r="2.05"/>
<circle cx="438.1" cy="240.7" r="2.05"/>
<circle cx="451.2" cy="216.0" r="2.05"/>
<circle cx="443.7" cy="238.8" r="2.05"/>
<circle cx="433.0" cy="243.7" r="2.05"/>
<circle cx="433.8" cy="243.1" r="2.05"/>
<circle cx="484.1" cy="192.4" r="2.05"/>
<circle cx="481.0" cy="183.2" r="2.05"/>
<circle cx="447.6" cy="240.2" r="2.05"/>
<circle cx="466.4" cy="222.3" r="2.05"/>
<circle cx="466.0" cy="229.0" r="2.05"/>
<circle cx="491.6" cy="199.1" r="2.05"/>
<circle cx="484.1" cy="215.1" r="2.05"/>
<circle cx="432.9" cy="243.8" r="2.05"/>
<circle cx="470.5" cy="205.6" r="2.05"/>
<circle cx="474.2" cy="208.4" r="2.05"/>
<circle cx="434.8" cy="241.4" r="2.05"/>
<circle cx="434.0" cy="242.3" r="2.05"/>
<circle cx="466.6" cy="202.6" r="2.05"/>
<circle cx="487.8" cy="195.7" r="2.05"/>
<circle cx="451.6" cy="225.7" r="2.05"/>
<circle cx="459.7" cy="235.2" r="2.05"/>
<circle cx="453.9" cy="229.1" r="2.05"/>
<circle cx="477.6" cy="196.1" r="2.05"/>
<circle cx="478.2" cy="179.1" r="2.05"/>
<circle cx="454.8" cy="221.9" r="2.05"/>
<circle cx="450.1" cy="231.3" r="2.05"/>
<circle cx="490.4" cy="214.1" r="2.05"/>
<circle cx="473.5" cy="223.5" r="2.05"/>
<circle cx="463.8" cy="200.6" r="2.05"/>
<circle cx="444.8" cy="237.0" r="2.05"/>
<circle cx="433.7" cy="241.7" r="2.05"/>
<circle cx="483.1" cy="184.9" r="2.05"/>
<circle cx="435.3" cy="241.0" r="2.05"/>
<circle cx="433.8" cy="244.4" r="2.05"/>
<circle cx="435.4" cy="242.5" r="2.05"/>
<circle cx="440.2" cy="239.7" r="2.05"/>
<circle cx="433.3" cy="243.8" r="2.05"/>
<circle cx="450.5" cy="229.3" r="2.05"/>
<circle cx="451.8" cy="233.8" r="2.05"/>
<circle cx="444.7" cy="236.9" r="2.05"/>
<circle cx="435.7" cy="242.4" r="2.05"/>
<circle cx="451.8" cy="220.6" r="2.05"/>
<circle cx="478.8" cy="201.7" r="2.05"/>
<circle cx="474.3" cy="196.2" r="2.05"/>
<circle cx="439.9" cy="236.4" r="2.05"/>
<circle cx="493.5" cy="183.3" r="2.05"/>
<circle cx="436.9" cy="240.8" r="2.05"/>
<circle cx="433.1" cy="243.4" r="2.05"/>
<circle cx="472.4" cy="198.2" r="2.05"/>
<circle cx="463.3" cy="209.9" r="2.05"/>
<circle cx="463.1" cy="230.6" r="2.05"/>
<circle cx="469.6" cy="199.4" r="2.05"/>
<circle cx="435.3" cy="242.2" r="2.05"/>
<circle cx="432.4" cy="244.1" r="2.05"/>
<circle cx="454.5" cy="229.1" r="2.05"/>
<circle cx="435.7" cy="240.1" r="2.05"/>
<circle cx="485.8" cy="193.7" r="2.05"/>
<circle cx="488.4" cy="188.4" r="2.05"/>
<circle cx="450.8" cy="219.8" r="2.05"/>
<circle cx="432.2" cy="244.6" r="2.05"/>
<circle cx="435.0" cy="242.8" r="2.05"/>
<circle cx="444.3" cy="232.5" r="2.05"/>
<circle cx="450.7" cy="223.6" r="2.05"/>
<circle cx="473.5" cy="206.8" r="2.05"/>
<circle cx="458.9" cy="234.8" r="2.05"/>
<circle cx="450.1" cy="222.6" r="2.05"/>
<circle cx="437.6" cy="239.9" r="2.05"/>
<circle cx="471.3" cy="222.7" r="2.05"/>
<circle cx="482.7" cy="216.5" r="2.05"/>
<circle cx="470.4" cy="225.2" r="2.05"/>
<circle cx="466.5" cy="226.3" r="2.05"/>
<circle cx="447.9" cy="228.7" r="2.05"/>
<circle cx="459.6" cy="221.1" r="2.05"/>
<circle cx="487.7" cy="207.9" r="2.05"/>
<circle cx="461.3" cy="227.2" r="2.05"/>
<circle cx="443.5" cy="236.5" r="2.05"/>
<circle cx="464.7" cy="217.8" r="2.05"/>
<circle cx="432.3" cy="244.1" r="2.05"/>
<circle cx="437.5" cy="242.2" r="2.05"/>
<circle cx="435.5" cy="241.9" r="2.05"/>
<circle cx="437.3" cy="239.4" r="2.05"/>
<circle cx="450.4" cy="233.1" r="2.05"/>
<circle cx="493.2" cy="199.0" r="2.05"/>
<circle cx="432.8" cy="243.8" r="2.05"/>
<circle cx="432.4" cy="244.6" r="2.05"/>
<circle cx="448.1" cy="232.8" r="2.05"/>
<circle cx="457.5" cy="209.8" r="2.05"/>
<circle cx="445.1" cy="228.1" r="2.05"/>
<circle cx="442.3" cy="237.3" r="2.05"/>
<circle cx="453.9" cy="210.4" r="2.05"/>
<circle cx="439.1" cy="237.0" r="2.05"/>
<circle cx="432.4" cy="243.8" r="2.05"/>
<circle cx="443.5" cy="227.2" r="2.05"/>
<circle cx="432.5" cy="243.4" r="2.05"/>
<circle cx="445.6" cy="225.7" r="2.05"/>
<circle cx="437.0" cy="238.5" r="2.05"/>
<circle cx="466.5" cy="218.5" r="2.05"/>
<circle cx="474.9" cy="199.1" r="2.05"/>
<circle cx="458.5" cy="225.4" r="2.05"/>
<circle cx="432.5" cy="244.4" r="2.05"/>
<circle cx="446.4" cy="233.3" r="2.05"/>
<circle cx="437.7" cy="241.4" r="2.05"/>
<circle cx="471.3" cy="216.5" r="2.05"/>
<circle cx="488.6" cy="210.2" r="2.05"/>
<circle cx="433.4" cy="243.3" r="2.05"/>
<circle cx="458.6" cy="231.2" r="2.05"/>
<circle cx="463.3" cy="209.8" r="2.05"/>
<circle cx="459.2" cy="227.3" r="2.05"/>
<circle cx="437.2" cy="240.3" r="2.05"/>
<circle cx="480.9" cy="209.0" r="2.05"/>
<circle cx="438.1" cy="239.0" r="2.05"/>
<circle cx="433.2" cy="243.7" r="2.05"/>
<circle cx="432.9" cy="244.1" r="2.05"/>
<circle cx="459.1" cy="231.0" r="2.05"/>
<circle cx="435.9" cy="239.9" r="2.05"/>
<circle cx="477.0" cy="199.1" r="2.05"/>
<circle cx="474.2" cy="223.9" r="2.05"/>
<circle cx="436.0" cy="242.5" r="2.05"/>
<circle cx="474.3" cy="221.8" r="2.05"/>
<circle cx="492.5" cy="205.3" r="2.05"/>
<circle cx="468.5" cy="198.6" r="2.05"/>
<circle cx="442.4" cy="230.3" r="2.05"/>
<circle cx="454.2" cy="223.9" r="2.05"/>
<circle cx="439.2" cy="238.8" r="2.05"/>
<circle cx="436.0" cy="242.3" r="2.05"/>
<circle cx="439.4" cy="239.8" r="2.05"/>
<circle cx="438.5" cy="242.0" r="2.05"/>
<circle cx="466.8" cy="204.6" r="2.05"/>
<circle cx="465.3" cy="210.8" r="2.05"/>
<circle cx="487.2" cy="214.3" r="2.05"/>
<circle cx="473.6" cy="217.9" r="2.05"/>
<circle cx="444.0" cy="229.3" r="2.05"/>
<circle cx="437.2" cy="241.8" r="2.05"/>
<circle cx="442.1" cy="233.0" r="2.05"/>
<circle cx="435.4" cy="240.3" r="2.05"/>
<circle cx="452.5" cy="232.2" r="2.05"/>
<circle cx="434.9" cy="243.6" r="2.05"/>
<circle cx="438.5" cy="242.1" r="2.05"/>
<circle cx="452.8" cy="224.7" r="2.05"/>
<circle cx="460.6" cy="230.3" r="2.05"/>
<circle cx="452.9" cy="230.2" r="2.05"/>
<circle cx="432.9" cy="244.5" r="2.05"/>
<circle cx="430.9" cy="244.2" r="2.05"/>
<circle cx="414.9" cy="236.5" r="2.05"/>
<circle cx="428.2" cy="241.7" r="2.05"/>
<circle cx="414.4" cy="237.4" r="2.05"/>
<circle cx="408.5" cy="233.8" r="2.05"/>
<circle cx="420.5" cy="238.0" r="2.05"/>
<circle cx="410.1" cy="238.5" r="2.05"/>
<circle cx="417.1" cy="228.7" r="2.05"/>
<circle cx="412.4" cy="239.4" r="2.05"/>
<circle cx="415.9" cy="238.9" r="2.05"/>
<circle cx="423.5" cy="241.2" r="2.05"/>
<circle cx="407.9" cy="233.3" r="2.05"/>
<circle cx="428.5" cy="243.3" r="2.05"/>
<circle cx="408.5" cy="224.2" r="2.05"/>
<circle cx="430.4" cy="243.4" r="2.05"/>
<circle cx="429.1" cy="241.7" r="2.05"/>
<circle cx="419.3" cy="236.5" r="2.05"/>
<circle cx="430.5" cy="243.5" r="2.05"/>
<circle cx="427.9" cy="241.9" r="2.05"/>
<circle cx="428.1" cy="241.7" r="2.05"/>
<circle cx="429.2" cy="242.7" r="2.05"/>
<circle cx="420.2" cy="235.5" r="2.05"/>
<circle cx="427.3" cy="243.2" r="2.05"/>
<circle cx="408.9" cy="235.4" r="2.05"/>
<circle cx="431.5" cy="244.1" r="2.05"/>
<circle cx="421.1" cy="235.0" r="2.05"/>
<circle cx="417.3" cy="236.2" r="2.05"/>
<circle cx="422.2" cy="240.9" r="2.05"/>
<circle cx="415.8" cy="237.2" r="2.05"/>
<circle cx="429.5" cy="243.2" r="2.05"/>
<circle cx="411.4" cy="239.0" r="2.05"/>
<circle cx="407.8" cy="230.8" r="2.05"/>
<circle cx="429.7" cy="243.6" r="2.05"/>
<circle cx="412.8" cy="224.7" r="2.05"/>
<circle cx="431.0" cy="243.2" r="2.05"/>
<circle cx="430.7" cy="244.5" r="2.05"/>
<circle cx="408.9" cy="238.5" r="2.05"/>
<circle cx="426.3" cy="240.4" r="2.05"/>
<circle cx="410.0" cy="223.3" r="2.05"/>
<circle cx="420.8" cy="232.1" r="2.05"/>
<circle cx="426.1" cy="241.5" r="2.05"/>
<circle cx="426.3" cy="243.3" r="2.05"/>
<circle cx="425.0" cy="240.9" r="2.05"/>
<circle cx="424.1" cy="238.1" r="2.05"/>
<circle cx="432.1" cy="244.2" r="2.05"/>
<circle cx="427.8" cy="239.9" r="2.05"/>
<circle cx="432.1" cy="243.7" r="2.05"/>
<circle cx="428.5" cy="242.6" r="2.05"/>
<circle cx="424.6" cy="241.1" r="2.05"/>
<circle cx="425.5" cy="240.7" r="2.05"/>
<circle cx="427.4" cy="240.2" r="2.05"/>
<circle cx="425.7" cy="237.8" r="2.05"/>
<circle cx="415.5" cy="237.7" r="2.05"/>
<circle cx="430.8" cy="243.9" r="2.05"/>
<circle cx="416.8" cy="236.3" r="2.05"/>
<circle cx="424.0" cy="237.4" r="2.05"/>
<circle cx="430.8" cy="243.8" r="2.05"/>
<circle cx="430.2" cy="243.9" r="2.05"/>
<circle cx="409.9" cy="237.1" r="2.05"/>
<circle cx="417.6" cy="234.3" r="2.05"/>
<circle cx="424.4" cy="240.8" r="2.05"/>
<circle cx="432.0" cy="244.3" r="2.05"/>
<circle cx="408.1" cy="227.1" r="2.05"/>
<circle cx="418.6" cy="232.6" r="2.05"/>
<circle cx="425.4" cy="241.3" r="2.05"/>
<circle cx="424.6" cy="243.2" r="2.05"/>
<circle cx="412.7" cy="235.7" r="2.05"/>
<circle cx="414.3" cy="227.0" r="2.05"/>
<circle cx="425.2" cy="242.0" r="2.05"/>
<circle cx="415.8" cy="227.5" r="2.05"/>
<circle cx="415.7" cy="233.3" r="2.05"/>
<circle cx="409.2" cy="234.1" r="2.05"/>
<circle cx="431.0" cy="243.3" r="2.05"/>
<circle cx="416.2" cy="238.2" r="2.05"/>
<circle cx="425.0" cy="241.7" r="2.05"/>
<circle cx="408.4" cy="237.3" r="2.05"/>
<circle cx="419.9" cy="236.9" r="2.05"/>
<circle cx="407.8" cy="225.3" r="2.05"/>
<circle cx="430.2" cy="243.1" r="2.05"/>
<circle cx="410.6" cy="231.0" r="2.05"/>
<circle cx="412.5" cy="229.4" r="2.05"/>
<circle cx="431.1" cy="244.1" r="2.05"/>
<circle cx="408.0" cy="233.9" r="2.05"/>
<circle cx="415.1" cy="224.3" r="2.05"/>
<circle cx="413.3" cy="227.2" r="2.05"/>
<circle cx="389.2" cy="187.9" r="2.05"/>
<circle cx="408.8" cy="202.5" r="2.05"/>
<circle cx="385.1" cy="211.1" r="2.05"/>
<circle cx="412.9" cy="215.7" r="2.05"/>
<circle cx="423.1" cy="220.4" r="2.05"/>
<circle cx="405.0" cy="222.3" r="2.05"/>
<circle cx="406.6" cy="221.6" r="2.05"/>
<circle cx="413.1" cy="223.9" r="2.05"/>
<circle cx="409.1" cy="227.0" r="2.05"/>
<circle cx="409.9" cy="231.1" r="2.05"/>
<circle cx="413.4" cy="235.9" r="2.05"/>
<circle cx="412.9" cy="240.0" r="2.05"/>
<circle cx="420.1" cy="228.0" r="2.05"/>
<circle cx="424.7" cy="231.1" r="2.05"/>
<circle cx="491.5" cy="172.1" r="2.05"/>
<circle cx="482.1" cy="181.7" r="2.05"/>
<circle cx="476.6" cy="186.4" r="2.05"/>
<circle cx="479.0" cy="186.6" r="2.05"/>
<circle cx="484.0" cy="188.3" r="2.05"/>
<circle cx="487.5" cy="187.5" r="2.05"/>
<circle cx="492.4" cy="186.4" r="2.05"/>
<circle cx="471.2" cy="193.7" r="2.05"/>
<circle cx="485.4" cy="194.0" r="2.05"/>
<circle cx="488.9" cy="194.8" r="2.05"/>
<circle cx="464.4" cy="199.0" r="2.05"/>
<circle cx="468.5" cy="200.1" r="2.05"/>
<circle cx="474.0" cy="200.6" r="2.05"/>
<circle cx="480.7" cy="202.1" r="2.05"/>
<circle cx="486.3" cy="200.6" r="2.05"/>
<circle cx="493.3" cy="200.1" r="2.05"/>
<circle cx="485.4" cy="209.7" r="2.05"/>
<circle cx="490.0" cy="208.5" r="2.05"/>
<circle cx="493.6" cy="208.0" r="2.05"/>
<circle cx="486.0" cy="215.5" r="2.05"/>
<circle cx="423.3" cy="220.5" r="2.05"/>
<circle cx="477.0" cy="224.0" r="2.05"/>
<circle cx="491.2" cy="225.1" r="2.05"/>
<circle cx="466.7" cy="240.3" r="2.05"/>
<circle cx="488.9" cy="157.9" r="2.05"/>
<circle cx="491.0" cy="157.9" r="2.05"/>
<circle cx="491.9" cy="172.0" r="2.05"/>
<circle cx="482.3" cy="181.5" r="2.05"/>
<circle cx="505.9" cy="211.3" r="2.05"/>
<circle cx="515.9" cy="211.8" r="2.05"/>
<circle cx="500.1" cy="219.7" r="2.05"/>
<circle cx="491.0" cy="225.3" r="2.05"/>
</g>
<circle cx="501.00" cy="127.50" r="2.4" fill="#ff0000"/>
<circle cx="537.50" cy="129.60" r="2.4" fill="#ff0000"/>
<circle cx="595.50" cy="121.20" r="2.4" fill="#ff0000"/>
<circle cx="504.80" cy="147.30" r="2.4" fill="#ff0000"/>
<circle cx="556.40" cy="161.00" r="2.4" fill="#ff0000"/>
<circle cx="571.30" cy="168.00" r="2.4" fill="#ff0000"/>
<circle cx="570.20" cy="169.60" r="2.4" fill="#ff0000"/>
<circle cx="555.80" cy="176.80" r="2.4" fill="#ff0000"/>
<circle cx="566.90" cy="177.50" r="2.4" fill="#ff0000"/>
<circle cx="532.20" cy="171.40" r="2.4" fill="#ff0000"/>
<circle cx="521.20" cy="173.30" r="2.4" fill="#ff0000"/>
<circle cx="522.00" cy="175.00" r="2.4" fill="#ff0000"/>
<circle cx="520.00" cy="178.40" r="2.4" fill="#ff0000"/>
<circle cx="537.40" cy="181.70" r="2.4" fill="#ff0000"/>
<circle cx="505.60" cy="176.60" r="2.4" fill="#ff0000"/>
<circle cx="525.70" cy="184.70" r="2.4" fill="#ff0000"/>
<circle cx="506.80" cy="186.40" r="2.4" fill="#ff0000"/>
<circle cx="497.20" cy="190.60" r="2.4" fill="#ff0000"/>
<circle cx="518.50" cy="195.40" r="2.4" fill="#ff0000"/>
<circle cx="531.00" cy="195.50" r="2.4" fill="#ff0000"/>
<circle cx="506.80" cy="198.20" r="2.4" fill="#ff0000"/>
<circle cx="508.20" cy="197.50" r="2.4" fill="#ff0000"/>
<circle cx="513.80" cy="201.20" r="2.4" fill="#ff0000"/>
<circle cx="510.00" cy="204.30" r="2.4" fill="#ff0000"/>
<circle cx="496.60" cy="199.60" r="2.4" fill="#ff0000"/>
<circle cx="498.00" cy="202.60" r="2.4" fill="#ff0000"/>
<circle cx="494.90" cy="210.40" r="2.4" fill="#ff0000"/>
<circle cx="608.10" cy="64.40" r="2.4" fill="#0000ff"/>
<circle cx="602.10" cy="88.00" r="2.4" fill="#0000ff"/>
<circle cx="527.30" cy="110.20" r="2.4" fill="#0000ff"/>
<circle cx="517.40" cy="117.60" r="2.4" fill="#0000ff"/>
<circle cx="542.00" cy="135.00" r="2.4" fill="#0000ff"/>
<circle cx="584.20" cy="129.00" r="2.4" fill="#0000ff"/>
<circle cx="627.90" cy="115.20" r="2.4" fill="#0000ff"/>
<circle cx="640.40" cy="118.50" r="2.4" fill="#0000ff"/>
<circle cx="611.10" cy="131.70" r="2.4" fill="#0000ff"/>
<circle cx="626.00" cy="134.70" r="2.4" fill="#0000ff"/>
<circle cx="642.00" cy="127.20" r="2.4" fill="#0000ff"/>
<circle cx="640.40" cy="135.90" r="2.4" fill="#0000ff"/>
<circle cx="569.20" cy="138.90" r="2.4" fill="#0000ff"/>
<circle cx="567.70" cy="146.40" r="2.4" fill="#0000ff"/>
<circle cx="529.70" cy="144.60" r="2.4" fill="#0000ff"/>
<circle cx="539.00" cy="145.20" r="2.4" fill="#0000ff"/>
<circle cx="537.50" cy="149.40" r="2.4" fill="#0000ff"/>
<circle cx="494.50" cy="163.10" r="2.4" fill="#0000ff"/>
<circle cx="535.70" cy="162.60" r="2.4" fill="#0000ff"/>
<circle cx="542.20" cy="161.90" r="2.4" fill="#0000ff"/>
<circle cx="545.00" cy="173.10" r="2.4" fill="#0000ff"/>
<circle cx="533.10" cy="171.40" r="2.4" fill="#0000ff"/>
<circle cx="517.00" cy="173.50" r="2.4" fill="#0000ff"/>
<circle cx="528.30" cy="178.00" r="2.4" fill="#0000ff"/>
<circle cx="532.70" cy="179.40" r="2.4" fill="#0000ff"/>
<circle cx="533.10" cy="182.00" r="2.4" fill="#0000ff"/>
<circle cx="505.40" cy="180.70" r="2.4" fill="#0000ff"/>
<circle cx="534.80" cy="188.20" r="2.4" fill="#0000ff"/>
<circle cx="496.30" cy="191.70" r="2.4" fill="#0000ff"/>
<circle cx="506.80" cy="200.30" r="2.4" fill="#0000ff"/>
<circle cx="510.60" cy="198.50" r="2.4" fill="#0000ff"/>
<circle cx="511.20" cy="202.90" r="2.4" fill="#0000ff"/>
<circle cx="505.00" cy="207.10" r="2.4" fill="#0000ff"/>
<text x="614.10" y="68.90" font-size="11.3" text-anchor="start" fill="#000" >TNFAIP3</text>
<text x="608.10" y="91.90" font-size="11.3" text-anchor="start" fill="#000" >CCL3L1</text>
<text x="531.20" y="111.10" font-size="11.3" text-anchor="start" fill="#000" >NFKBIA</text>
<text x="522.80" y="123.60" font-size="11.3" text-anchor="start" fill="#000" >RIPK2</text>
<text x="505.70" y="132.60" font-size="11.3" text-anchor="start" fill="#000" >UBC</text>
<text x="551.20" y="133.20" font-size="11.3" text-anchor="start" fill="#000" >CD83</text>
<text x="587.20" y="117.40" font-size="11.3" text-anchor="start" fill="#000" >CCL4</text>
<text x="627.00" y="111.40" font-size="11.3" text-anchor="start" fill="#000" >PPBP</text>
<text x="645.40" y="122.70" font-size="11.3" text-anchor="start" fill="#000" >IL8</text>
<text x="601.40" y="128.70" font-size="11.3" text-anchor="start" fill="#000" >CXCL3</text>
<text x="649.10" y="133.50" font-size="11.3" text-anchor="start" fill="#000" >TREM1</text>
<text x="646.10" y="143.40" font-size="11.3" text-anchor="start" fill="#000" >LIF</text>
<text x="610.40" y="151.20" font-size="11.3" text-anchor="start" fill="#000" >CCL20</text>
<text x="574.00" y="150.30" font-size="11.3" text-anchor="start" fill="#000" >IRF4</text>
<text x="504.80" y="158.10" font-size="11.3" text-anchor="start" fill="#000" >CD97</text>
<text x="575.20" y="166.70" font-size="11.3" text-anchor="start" fill="#000" >FOS</text>
<text x="575.20" y="175.70" font-size="11.3" text-anchor="start" fill="#000" >CXCR2</text>
<text x="571.00" y="185.90" font-size="11.3" text-anchor="start" fill="#000" >IL18RAP</text>
<text x="524.95" y="12.90" font-size="17.2" text-anchor="middle" fill="#000" >Control DBD reperfusion v pre</text>
<text x="327.00" y="13.40" font-size="16.5" font-weight="bold" text-anchor="start" fill="#000" >b</text>
<text x="525.00" y="294.10" font-size="17" text-anchor="middle" fill="#000" >log2 FC</text>
<text transform="translate(341.60,142.50) rotate(-90)" font-size="17" text-anchor="middle">- log10 p.value</text>
<circle cx="368.50" cy="306.60" r="2.9" fill="#ff0000"/>
<circle cx="368.50" cy="323.65" r="2.9" fill="#0a6fc8"/>
<text x="376.70" y="310.80" font-size="14.15" text-anchor="start" fill="#000" >unique DEGs</text>
<text x="376.70" y="327.80" font-size="14.15" text-anchor="start" fill="#000" >DEGs shared with NMP BM reper v pre</text>
<line x1="409.20" y1="472.28" x2="409.20" y2="678.20" stroke="#555" stroke-width="1.1" stroke-dasharray="1.1,1.97"/>
<line x1="486.20" y1="472.28" x2="486.20" y2="678.20" stroke="#555" stroke-width="1.1" stroke-dasharray="1.1,1.97"/>
<line x1="372.70" y1="644.74" x2="670.70" y2="644.74" stroke="#555" stroke-width="1.1" stroke-dasharray="1.1,1.97"/>
<line x1="370.70" y1="471.38" x2="370.70" y2="686.70" stroke="#000" stroke-width="1.9"/>
<line x1="362.00" y1="678.20" x2="679.60" y2="678.20" stroke="#000" stroke-width="1.9"/>
<line x1="362.00" y1="678.20" x2="370.70" y2="678.20" stroke="#000" stroke-width="1.8"/>
<text x="360.10" y="683.40" font-size="14.5" font-weight="bold" text-anchor="end" fill="#000" >0</text>
<line x1="362.00" y1="626.72" x2="370.70" y2="626.72" stroke="#000" stroke-width="1.8"/>
<text x="360.10" y="631.92" font-size="14.5" font-weight="bold" text-anchor="end" fill="#000" >2</text>
<line x1="362.00" y1="575.24" x2="370.70" y2="575.24" stroke="#000" stroke-width="1.8"/>
<text x="360.10" y="580.44" font-size="14.5" font-weight="bold" text-anchor="end" fill="#000" >4</text>
<line x1="362.00" y1="523.76" x2="370.70" y2="523.76" stroke="#000" stroke-width="1.8"/>
<text x="360.10" y="528.96" font-size="14.5" font-weight="bold" text-anchor="end" fill="#000" >6</text>
<line x1="362.00" y1="472.28" x2="370.70" y2="472.28" stroke="#000" stroke-width="1.8"/>
<text x="360.10" y="477.48" font-size="14.5" font-weight="bold" text-anchor="end" fill="#000" >8</text>
<line x1="370.70" y1="678.20" x2="370.70" y2="686.70" stroke="#000" stroke-width="1.8"/>
<text x="369.80" y="703.70" font-size="14.5" font-weight="bold" text-anchor="middle" fill="#000" >-2</text>
<line x1="447.70" y1="678.20" x2="447.70" y2="686.70" stroke="#000" stroke-width="1.8"/>
<text x="447.70" y="703.70" font-size="14.5" font-weight="bold" text-anchor="middle" fill="#000" >0</text>
<line x1="524.70" y1="678.20" x2="524.70" y2="686.70" stroke="#000" stroke-width="1.8"/>
<text x="524.70" y="703.70" font-size="14.5" font-weight="bold" text-anchor="middle" fill="#000" >2</text>
<line x1="601.70" y1="678.20" x2="601.70" y2="686.70" stroke="#000" stroke-width="1.8"/>
<text x="601.70" y="703.70" font-size="14.5" font-weight="bold" text-anchor="middle" fill="#000" >4</text>
<line x1="678.70" y1="678.20" x2="678.70" y2="686.70" stroke="#000" stroke-width="1.8"/>
<text x="678.70" y="703.70" font-size="14.5" font-weight="bold" text-anchor="middle" fill="#000" >6</text>
<g fill="none" stroke="#9b9b9b" stroke-width="1.1">
<circle cx="482.6" cy="641.8" r="2.05"/>
<circle cx="460.9" cy="649.8" r="2.05"/>
<circle cx="452.6" cy="670.9" r="2.05"/>
<circle cx="462.1" cy="653.7" r="2.05"/>
<circle cx="472.8" cy="639.1" r="2.05"/>
<circle cx="473.9" cy="625.4" r="2.05"/>
<circle cx="476.1" cy="628.9" r="2.05"/>
<circle cx="468.9" cy="657.1" r="2.05"/>
<circle cx="475.0" cy="641.0" r="2.05"/>
<circle cx="470.6" cy="621.0" r="2.05"/>
<circle cx="462.8" cy="650.4" r="2.05"/>
<circle cx="461.8" cy="667.8" r="2.05"/>
<circle cx="452.2" cy="672.6" r="2.05"/>
<circle cx="452.7" cy="659.7" r="2.05"/>
<circle cx="448.4" cy="676.9" r="2.05"/>
<circle cx="477.8" cy="643.3" r="2.05"/>
<circle cx="455.8" cy="668.3" r="2.05"/>
<circle cx="465.9" cy="651.4" r="2.05"/>
<circle cx="476.1" cy="645.1" r="2.05"/>
<circle cx="454.1" cy="674.8" r="2.05"/>
<circle cx="467.7" cy="637.8" r="2.05"/>
<circle cx="485.0" cy="613.9" r="2.05"/>
<circle cx="477.1" cy="642.1" r="2.05"/>
<circle cx="457.9" cy="663.4" r="2.05"/>
<circle cx="452.6" cy="670.8" r="2.05"/>
<circle cx="452.7" cy="666.6" r="2.05"/>
<circle cx="453.4" cy="672.6" r="2.05"/>
<circle cx="451.9" cy="667.6" r="2.05"/>
<circle cx="454.6" cy="669.0" r="2.05"/>
<circle cx="461.7" cy="641.4" r="2.05"/>
<circle cx="477.5" cy="651.0" r="2.05"/>
<circle cx="478.2" cy="643.2" r="2.05"/>
<circle cx="456.1" cy="671.9" r="2.05"/>
<circle cx="466.2" cy="667.5" r="2.05"/>
<circle cx="450.1" cy="675.2" r="2.05"/>
<circle cx="466.3" cy="643.8" r="2.05"/>
<circle cx="483.9" cy="642.0" r="2.05"/>
<circle cx="466.4" cy="662.8" r="2.05"/>
<circle cx="473.2" cy="614.2" r="2.05"/>
<circle cx="476.2" cy="623.9" r="2.05"/>
<circle cx="452.0" cy="674.3" r="2.05"/>
<circle cx="449.4" cy="675.3" r="2.05"/>
<circle cx="471.9" cy="659.9" r="2.05"/>
<circle cx="465.0" cy="658.7" r="2.05"/>
<circle cx="449.5" cy="671.3" r="2.05"/>
<circle cx="463.8" cy="649.9" r="2.05"/>
<circle cx="468.2" cy="650.9" r="2.05"/>
<circle cx="458.0" cy="666.6" r="2.05"/>
<circle cx="457.7" cy="668.1" r="2.05"/>
<circle cx="477.6" cy="656.1" r="2.05"/>
<circle cx="454.7" cy="668.0" r="2.05"/>
<circle cx="453.4" cy="669.0" r="2.05"/>
<circle cx="464.0" cy="639.3" r="2.05"/>
<circle cx="450.4" cy="675.5" r="2.05"/>
<circle cx="479.5" cy="632.7" r="2.05"/>
<circle cx="454.4" cy="656.6" r="2.05"/>
<circle cx="448.4" cy="676.3" r="2.05"/>
<circle cx="458.5" cy="647.0" r="2.05"/>
<circle cx="449.6" cy="674.7" r="2.05"/>
<circle cx="471.4" cy="645.0" r="2.05"/>
<circle cx="482.2" cy="635.9" r="2.05"/>
<circle cx="485.1" cy="631.4" r="2.05"/>
<circle cx="451.0" cy="672.8" r="2.05"/>
<circle cx="472.8" cy="657.1" r="2.05"/>
<circle cx="477.8" cy="647.7" r="2.05"/>
<circle cx="457.2" cy="669.0" r="2.05"/>
<circle cx="479.4" cy="622.0" r="2.05"/>
<circle cx="456.8" cy="654.0" r="2.05"/>
<circle cx="479.5" cy="648.1" r="2.05"/>
<circle cx="470.2" cy="637.5" r="2.05"/>
<circle cx="456.7" cy="672.8" r="2.05"/>
<circle cx="485.4" cy="657.6" r="2.05"/>
<circle cx="475.6" cy="617.4" r="2.05"/>
<circle cx="459.8" cy="662.5" r="2.05"/>
<circle cx="465.3" cy="667.6" r="2.05"/>
<circle cx="448.8" cy="675.1" r="2.05"/>
<circle cx="477.9" cy="650.4" r="2.05"/>
<circle cx="454.4" cy="670.1" r="2.05"/>
<circle cx="461.7" cy="643.8" r="2.05"/>
<circle cx="467.0" cy="622.6" r="2.05"/>
<circle cx="469.0" cy="661.8" r="2.05"/>
<circle cx="482.3" cy="631.6" r="2.05"/>
<circle cx="478.7" cy="628.1" r="2.05"/>
<circle cx="448.8" cy="675.2" r="2.05"/>
<circle cx="485.0" cy="616.5" r="2.05"/>
<circle cx="471.0" cy="663.7" r="2.05"/>
<circle cx="468.1" cy="635.4" r="2.05"/>
<circle cx="464.5" cy="645.0" r="2.05"/>
<circle cx="449.0" cy="676.0" r="2.05"/>
<circle cx="469.8" cy="643.6" r="2.05"/>
<circle cx="474.6" cy="654.4" r="2.05"/>
<circle cx="452.8" cy="673.3" r="2.05"/>
<circle cx="455.1" cy="667.8" r="2.05"/>
<circle cx="465.8" cy="647.7" r="2.05"/>
<circle cx="484.4" cy="614.9" r="2.05"/>
<circle cx="451.4" cy="674.2" r="2.05"/>
<circle cx="470.9" cy="667.0" r="2.05"/>
<circle cx="484.7" cy="617.1" r="2.05"/>
<circle cx="484.2" cy="654.5" r="2.05"/>
<circle cx="455.3" cy="669.2" r="2.05"/>
<circle cx="470.0" cy="662.5" r="2.05"/>
<circle cx="473.9" cy="648.4" r="2.05"/>
<circle cx="477.8" cy="642.1" r="2.05"/>
<circle cx="448.9" cy="675.5" r="2.05"/>
<circle cx="485.0" cy="634.5" r="2.05"/>
<circle cx="475.0" cy="637.1" r="2.05"/>
<circle cx="476.7" cy="646.4" r="2.05"/>
<circle cx="476.7" cy="643.6" r="2.05"/>
<circle cx="464.4" cy="633.8" r="2.05"/>
<circle cx="479.3" cy="644.0" r="2.05"/>
<circle cx="471.1" cy="633.4" r="2.05"/>
<circle cx="453.1" cy="673.7" r="2.05"/>
<circle cx="451.1" cy="675.6" r="2.05"/>
<circle cx="485.0" cy="642.3" r="2.05"/>
<circle cx="464.2" cy="646.4" r="2.05"/>
<circle cx="465.4" cy="668.2" r="2.05"/>
<circle cx="476.8" cy="623.7" r="2.05"/>
<circle cx="468.0" cy="633.0" r="2.05"/>
<circle cx="483.9" cy="631.5" r="2.05"/>
<circle cx="453.0" cy="668.4" r="2.05"/>
<circle cx="475.4" cy="637.3" r="2.05"/>
<circle cx="458.8" cy="656.8" r="2.05"/>
<circle cx="451.6" cy="673.8" r="2.05"/>
<circle cx="448.4" cy="675.4" r="2.05"/>
<circle cx="475.7" cy="661.8" r="2.05"/>
<circle cx="466.4" cy="657.3" r="2.05"/>
<circle cx="461.8" cy="666.3" r="2.05"/>
<circle cx="455.0" cy="661.8" r="2.05"/>
<circle cx="475.9" cy="655.6" r="2.05"/>
<circle cx="461.0" cy="652.7" r="2.05"/>
<circle cx="460.1" cy="657.2" r="2.05"/>
<circle cx="473.8" cy="653.3" r="2.05"/>
<circle cx="483.5" cy="616.0" r="2.05"/>
<circle cx="450.0" cy="676.6" r="2.05"/>
<circle cx="469.1" cy="664.1" r="2.05"/>
<circle cx="469.5" cy="654.1" r="2.05"/>
<circle cx="456.2" cy="666.4" r="2.05"/>
<circle cx="483.9" cy="630.4" r="2.05"/>
<circle cx="468.9" cy="659.9" r="2.05"/>
<circle cx="474.1" cy="645.3" r="2.05"/>
<circle cx="457.7" cy="667.6" r="2.05"/>
<circle cx="457.5" cy="662.6" r="2.05"/>
<circle cx="463.3" cy="648.7" r="2.05"/>
<circle cx="475.9" cy="652.8" r="2.05"/>
<circle cx="455.4" cy="657.7" r="2.05"/>
<circle cx="453.7" cy="662.3" r="2.05"/>
<circle cx="480.8" cy="628.9" r="2.05"/>
<circle cx="469.2" cy="650.4" r="2.05"/>
<circle cx="482.7" cy="631.3" r="2.05"/>
<circle cx="451.2" cy="673.7" r="2.05"/>
<circle cx="473.8" cy="662.2" r="2.05"/>
<circle cx="467.5" cy="625.8" r="2.05"/>
<circle cx="459.0" cy="663.3" r="2.05"/>
<circle cx="450.3" cy="668.4" r="2.05"/>
<circle cx="450.3" cy="672.5" r="2.05"/>
<circle cx="458.3" cy="653.3" r="2.05"/>
<circle cx="457.4" cy="653.8" r="2.05"/>
<circle cx="462.1" cy="663.8" r="2.05"/>
<circle cx="479.2" cy="656.4" r="2.05"/>
<circle cx="474.4" cy="665.9" r="2.05"/>
<circle cx="424.3" cy="661.2" r="2.05"/>
<circle cx="447.2" cy="676.2" r="2.05"/>
<circle cx="436.8" cy="668.7" r="2.05"/>
<circle cx="428.9" cy="651.7" r="2.05"/>
<circle cx="419.9" cy="647.4" r="2.05"/>
<circle cx="415.0" cy="654.7" r="2.05"/>
<circle cx="422.9" cy="644.8" r="2.05"/>
<circle cx="444.6" cy="674.8" r="2.05"/>
<circle cx="423.6" cy="646.6" r="2.05"/>
<circle cx="437.9" cy="646.3" r="2.05"/>
<circle cx="444.4" cy="672.6" r="2.05"/>
<circle cx="442.9" cy="672.7" r="2.05"/>
<circle cx="443.9" cy="671.5" r="2.05"/>
<circle cx="444.1" cy="672.7" r="2.05"/>
<circle cx="433.3" cy="654.2" r="2.05"/>
<circle cx="447.7" cy="677.3" r="2.05"/>
<circle cx="447.5" cy="677.6" r="2.05"/>
<circle cx="435.3" cy="663.3" r="2.05"/>
<circle cx="420.4" cy="643.8" r="2.05"/>
<circle cx="445.5" cy="674.2" r="2.05"/>
<circle cx="446.5" cy="676.2" r="2.05"/>
<circle cx="446.5" cy="675.2" r="2.05"/>
<circle cx="434.8" cy="661.5" r="2.05"/>
<circle cx="428.6" cy="650.7" r="2.05"/>
<circle cx="430.1" cy="654.2" r="2.05"/>
<circle cx="438.0" cy="665.0" r="2.05"/>
<circle cx="447.4" cy="677.4" r="2.05"/>
<circle cx="433.0" cy="664.1" r="2.05"/>
<circle cx="421.4" cy="655.1" r="2.05"/>
<circle cx="421.4" cy="646.3" r="2.05"/>
<circle cx="415.7" cy="645.4" r="2.05"/>
<circle cx="423.8" cy="643.9" r="2.05"/>
<circle cx="418.8" cy="653.3" r="2.05"/>
<circle cx="427.6" cy="655.0" r="2.05"/>
<circle cx="443.3" cy="670.0" r="2.05"/>
<circle cx="446.4" cy="676.1" r="2.05"/>
<circle cx="442.1" cy="670.9" r="2.05"/>
<circle cx="423.0" cy="647.1" r="2.05"/>
<circle cx="426.1" cy="654.8" r="2.05"/>
<circle cx="417.6" cy="652.0" r="2.05"/>
<circle cx="424.0" cy="646.9" r="2.05"/>
<circle cx="415.8" cy="647.1" r="2.05"/>
<circle cx="443.5" cy="673.4" r="2.05"/>
<circle cx="418.2" cy="653.8" r="2.05"/>
<circle cx="426.5" cy="646.5" r="2.05"/>
<circle cx="436.4" cy="665.4" r="2.05"/>
<circle cx="436.1" cy="668.9" r="2.05"/>
<circle cx="419.1" cy="651.6" r="2.05"/>
<circle cx="420.9" cy="647.0" r="2.05"/>
<circle cx="447.6" cy="677.0" r="2.05"/>
<circle cx="419.7" cy="647.3" r="2.05"/>
<circle cx="444.8" cy="673.8" r="2.05"/>
<circle cx="423.9" cy="652.4" r="2.05"/>
<circle cx="432.7" cy="653.1" r="2.05"/>
<circle cx="439.9" cy="669.3" r="2.05"/>
<circle cx="442.6" cy="672.2" r="2.05"/>
<circle cx="417.2" cy="653.8" r="2.05"/>
<circle cx="434.6" cy="664.0" r="2.05"/>
<circle cx="430.5" cy="665.3" r="2.05"/>
<circle cx="431.2" cy="655.4" r="2.05"/>
<circle cx="445.7" cy="675.4" r="2.05"/>
<circle cx="425.8" cy="650.7" r="2.05"/>
<circle cx="437.0" cy="648.6" r="2.05"/>
<circle cx="438.4" cy="657.4" r="2.05"/>
<circle cx="422.8" cy="651.5" r="2.05"/>
<circle cx="427.2" cy="648.3" r="2.05"/>
<circle cx="445.1" cy="675.5" r="2.05"/>
<circle cx="443.1" cy="666.6" r="2.05"/>
<circle cx="445.3" cy="675.1" r="2.05"/>
<circle cx="427.1" cy="653.7" r="2.05"/>
<circle cx="416.8" cy="656.2" r="2.05"/>
<circle cx="443.0" cy="670.5" r="2.05"/>
<circle cx="431.4" cy="653.6" r="2.05"/>
<circle cx="443.0" cy="667.1" r="2.05"/>
<circle cx="443.0" cy="669.9" r="2.05"/>
<circle cx="425.8" cy="658.2" r="2.05"/>
<circle cx="439.3" cy="671.0" r="2.05"/>
<circle cx="437.7" cy="664.4" r="2.05"/>
<circle cx="439.6" cy="670.7" r="2.05"/>
<circle cx="426.3" cy="663.5" r="2.05"/>
<circle cx="429.0" cy="644.0" r="2.05"/>
<circle cx="417.7" cy="648.1" r="2.05"/>
<circle cx="430.4" cy="656.9" r="2.05"/>
<circle cx="439.9" cy="663.9" r="2.05"/>
<circle cx="438.9" cy="669.0" r="2.05"/>
<circle cx="438.9" cy="671.6" r="2.05"/>
<circle cx="434.4" cy="652.2" r="2.05"/>
<circle cx="434.1" cy="666.9" r="2.05"/>
<circle cx="420.4" cy="652.2" r="2.05"/>
<circle cx="434.7" cy="665.9" r="2.05"/>
<circle cx="428.1" cy="655.7" r="2.05"/>
<circle cx="443.4" cy="671.5" r="2.05"/>
<circle cx="439.4" cy="669.8" r="2.05"/>
<circle cx="443.9" cy="672.0" r="2.05"/>
<circle cx="441.5" cy="669.3" r="2.05"/>
<circle cx="424.7" cy="645.2" r="2.05"/>
<circle cx="436.5" cy="652.8" r="2.05"/>
<circle cx="439.2" cy="655.9" r="2.05"/>
<circle cx="422.1" cy="647.0" r="2.05"/>
<circle cx="438.4" cy="651.6" r="2.05"/>
<circle cx="417.3" cy="648.7" r="2.05"/>
<circle cx="422.0" cy="656.9" r="2.05"/>
<circle cx="444.3" cy="673.0" r="2.05"/>
<circle cx="441.2" cy="668.8" r="2.05"/>
<circle cx="441.3" cy="664.0" r="2.05"/>
<circle cx="439.8" cy="660.6" r="2.05"/>
<circle cx="441.6" cy="668.5" r="2.05"/>
<circle cx="440.2" cy="650.9" r="2.05"/>
<circle cx="415.9" cy="646.1" r="2.05"/>
<circle cx="433.4" cy="659.1" r="2.05"/>
<circle cx="436.3" cy="657.2" r="2.05"/>
<circle cx="415.3" cy="648.5" r="2.05"/>
<circle cx="421.1" cy="653.3" r="2.05"/>
<circle cx="436.4" cy="659.9" r="2.05"/>
<circle cx="438.3" cy="669.0" r="2.05"/>
<circle cx="420.5" cy="646.2" r="2.05"/>
<circle cx="418.8" cy="652.2" r="2.05"/>
<circle cx="440.3" cy="669.4" r="2.05"/>
<circle cx="443.1" cy="669.3" r="2.05"/>
<circle cx="417.7" cy="652.8" r="2.05"/>
<circle cx="447.5" cy="676.5" r="2.05"/>
<circle cx="419.7" cy="651.8" r="2.05"/>
<circle cx="430.1" cy="660.2" r="2.05"/>
<circle cx="438.7" cy="664.4" r="2.05"/>
<circle cx="432.5" cy="663.0" r="2.05"/>
<circle cx="419.6" cy="649.0" r="2.05"/>
<circle cx="415.2" cy="643.8" r="2.05"/>
<circle cx="430.9" cy="658.6" r="2.05"/>
<circle cx="417.0" cy="652.0" r="2.05"/>
<circle cx="427.6" cy="650.7" r="2.05"/>
<circle cx="474.9" cy="595.5" r="2.05"/>
<circle cx="471.1" cy="597.3" r="2.05"/>
<circle cx="464.2" cy="604.2" r="2.05"/>
<circle cx="477.8" cy="608.2" r="2.05"/>
<circle cx="486.1" cy="618.5" r="2.05"/>
<circle cx="468.6" cy="618.5" r="2.05"/>
<circle cx="472.3" cy="620.7" r="2.05"/>
<circle cx="477.4" cy="616.3" r="2.05"/>
<circle cx="478.8" cy="620.7" r="2.05"/>
<circle cx="481.8" cy="625.0" r="2.05"/>
<circle cx="417.5" cy="621.4" r="2.05"/>
<circle cx="419.0" cy="623.6" r="2.05"/>
<circle cx="409.0" cy="612.6" r="2.05"/>
<circle cx="409.0" cy="617.0" r="2.05"/>
<circle cx="411.7" cy="641.8" r="2.05"/>
<circle cx="414.6" cy="648.4" r="2.05"/>
<circle cx="416.8" cy="651.3" r="2.05"/>
<circle cx="414.6" cy="652.8" r="2.05"/>
<circle cx="419.0" cy="657.2" r="2.05"/>
<circle cx="417.2" cy="660.4" r="2.05"/>
<circle cx="438.0" cy="647.7" r="2.05"/>
<circle cx="455.5" cy="645.5" r="2.05"/>
<circle cx="484.7" cy="652.0" r="2.05"/>
<circle cx="489.3" cy="653.0" r="2.05"/>
<circle cx="490.5" cy="645.5" r="2.05"/>
</g>
<circle cx="573.80" cy="488.10" r="2.4" fill="#ff0000"/>
<circle cx="511.50" cy="503.40" r="2.4" fill="#ff0000"/>
<circle cx="504.40" cy="549.90" r="2.4" fill="#ff0000"/>
<circle cx="526.60" cy="547.90" r="2.4" fill="#ff0000"/>
<circle cx="500.10" cy="559.90" r="2.4" fill="#ff0000"/>
<circle cx="509.80" cy="575.60" r="2.4" fill="#ff0000"/>
<circle cx="491.90" cy="583.70" r="2.4" fill="#ff0000"/>
<circle cx="506.20" cy="586.00" r="2.4" fill="#ff0000"/>
<circle cx="541.90" cy="593.60" r="2.4" fill="#ff0000"/>
<circle cx="501.00" cy="600.30" r="2.4" fill="#ff0000"/>
<circle cx="496.60" cy="605.30" r="2.4" fill="#ff0000"/>
<circle cx="497.50" cy="608.00" r="2.4" fill="#ff0000"/>
<circle cx="502.80" cy="609.70" r="2.4" fill="#ff0000"/>
<circle cx="486.80" cy="612.50" r="2.4" fill="#ff0000"/>
<circle cx="509.30" cy="613.00" r="2.4" fill="#ff0000"/>
<circle cx="510.20" cy="614.70" r="2.4" fill="#ff0000"/>
<circle cx="519.40" cy="609.00" r="2.4" fill="#ff0000"/>
<circle cx="530.80" cy="610.80" r="2.4" fill="#ff0000"/>
<circle cx="500.10" cy="619.50" r="2.4" fill="#ff0000"/>
<circle cx="506.70" cy="623.70" r="2.4" fill="#ff0000"/>
<circle cx="498.00" cy="625.70" r="2.4" fill="#ff0000"/>
<circle cx="497.50" cy="629.60" r="2.4" fill="#ff0000"/>
<circle cx="505.80" cy="630.50" r="2.4" fill="#ff0000"/>
<circle cx="388.90" cy="615.10" r="2.4" fill="#ff0000"/>
<circle cx="399.80" cy="618.40" r="2.4" fill="#ff0000"/>
<circle cx="407.30" cy="629.90" r="2.4" fill="#ff0000"/>
<circle cx="408.00" cy="636.10" r="2.4" fill="#ff0000"/>
<circle cx="502.90" cy="554.80" r="2.4" fill="#0000ff"/>
<circle cx="528.40" cy="565.50" r="2.4" fill="#0000ff"/>
<circle cx="549.70" cy="564.10" r="2.4" fill="#0000ff"/>
<circle cx="599.30" cy="565.10" r="2.4" fill="#0000ff"/>
<circle cx="582.10" cy="572.40" r="2.4" fill="#0000ff"/>
<circle cx="579.00" cy="576.90" r="2.4" fill="#0000ff"/>
<circle cx="517.50" cy="572.20" r="2.4" fill="#0000ff"/>
<circle cx="524.50" cy="579.60" r="2.4" fill="#0000ff"/>
<circle cx="537.60" cy="579.10" r="2.4" fill="#0000ff"/>
<circle cx="500.10" cy="581.10" r="2.4" fill="#0000ff"/>
<circle cx="538.60" cy="589.00" r="2.4" fill="#0000ff"/>
<circle cx="526.40" cy="599.30" r="2.4" fill="#0000ff"/>
<circle cx="528.90" cy="610.80" r="2.4" fill="#0000ff"/>
<circle cx="520.70" cy="613.00" r="2.4" fill="#0000ff"/>
<circle cx="520.30" cy="615.00" r="2.4" fill="#0000ff"/>
<circle cx="500.60" cy="616.90" r="2.4" fill="#0000ff"/>
<circle cx="503.60" cy="619.10" r="2.4" fill="#0000ff"/>
<circle cx="489.20" cy="622.20" r="2.4" fill="#0000ff"/>
<circle cx="500.10" cy="630.90" r="2.4" fill="#0000ff"/>
<circle cx="502.80" cy="630.50" r="2.4" fill="#0000ff"/>
<circle cx="508.00" cy="631.80" r="2.4" fill="#0000ff"/>
<circle cx="500.10" cy="634.40" r="2.4" fill="#0000ff"/>
<circle cx="504.10" cy="634.90" r="2.4" fill="#0000ff"/>
<circle cx="506.70" cy="636.60" r="2.4" fill="#0000ff"/>
<circle cx="500.10" cy="637.00" r="2.4" fill="#0000ff"/>
<circle cx="502.30" cy="638.80" r="2.4" fill="#0000ff"/>
<circle cx="494.00" cy="635.50" r="2.4" fill="#0000ff"/>
<circle cx="486.80" cy="638.40" r="2.4" fill="#0000ff"/>
<circle cx="522.50" cy="632.50" r="2.4" fill="#0000ff"/>
<circle cx="529.80" cy="634.90" r="2.4" fill="#0000ff"/>
<circle cx="513.30" cy="641.40" r="2.4" fill="#0000ff"/>
<text x="579.70" y="492.00" font-size="11.3" text-anchor="start" fill="#000" >ITGB3</text>
<text x="517.20" y="507.30" font-size="11.3" text-anchor="start" fill="#000" >CTSL</text>
<text x="461.50" y="546.70" font-size="11.3" text-anchor="start" fill="#000" >SMAD3</text>
<text x="532.40" y="551.90" font-size="11.3" text-anchor="start" fill="#000" >ISG20</text>
<text x="509.20" y="560.40" font-size="11.3" text-anchor="start" fill="#000" >NFKB2</text>
<text x="469.90" y="564.50" font-size="11.3" text-anchor="start" fill="#000" >CD9</text>
<text x="552.90" y="567.70" font-size="11.3" text-anchor="start" fill="#000" >IL1RL1</text>
<text x="604.70" y="569.00" font-size="11.3" text-anchor="start" fill="#000" >LIF</text>
<text x="588.30" y="576.10" font-size="11.3" text-anchor="start" fill="#000" >IL8</text>
<text x="582.20" y="588.20" font-size="11.3" text-anchor="start" fill="#000" >CCL20</text>
<text x="540.60" y="583.10" font-size="11.3" text-anchor="start" fill="#000" >ITGAX</text>
<text x="544.80" y="593.10" font-size="11.3" text-anchor="start" fill="#000" >CCL2</text>
<text x="544.80" y="605.30" font-size="11.3" text-anchor="start" fill="#000" >PLAU</text>
<text x="535.50" y="638.00" font-size="11.3" text-anchor="start" fill="#000" >TREM1</text>
<text x="383.40" y="608.80" font-size="11.3" text-anchor="start" fill="#000" >VCAM1</text>
<text x="406.20" y="619.30" font-size="11.3" text-anchor="start" fill="#000" >LRP1</text>
<text x="413.20" y="633.80" font-size="11.3" text-anchor="start" fill="#000" >SIGLEC1</text>
<text x="412.00" y="643.30" font-size="11.3" text-anchor="start" fill="#000" >HLA-DMB</text>
<text x="525.60" y="446.00" font-size="17.2" text-anchor="middle" fill="#000" >NMP BM DBD reperfusion v pre</text>
<text x="327.00" y="444.70" font-size="16.5" font-weight="bold" text-anchor="start" fill="#000" >d</text>
<text x="524.75" y="727.10" font-size="17" text-anchor="middle" fill="#000" >log2 FC</text>
<text transform="translate(341.60,575.40) rotate(-90)" font-size="17" text-anchor="middle">- log10 p.value</text>
<circle cx="393.10" cy="750.90" r="2.9" fill="#ff0000"/>
<circle cx="393.10" cy="767.95" r="2.9" fill="#0a6fc8"/>
<text x="401.30" y="754.70" font-size="14.15" text-anchor="start" fill="#000" >unique DEGs</text>
<text x="401.30" y="771.70" font-size="14.15" text-anchor="start" fill="#000" >DEGs shared with C BM DBD reper v pre</text>
</svg>
</body></html>
